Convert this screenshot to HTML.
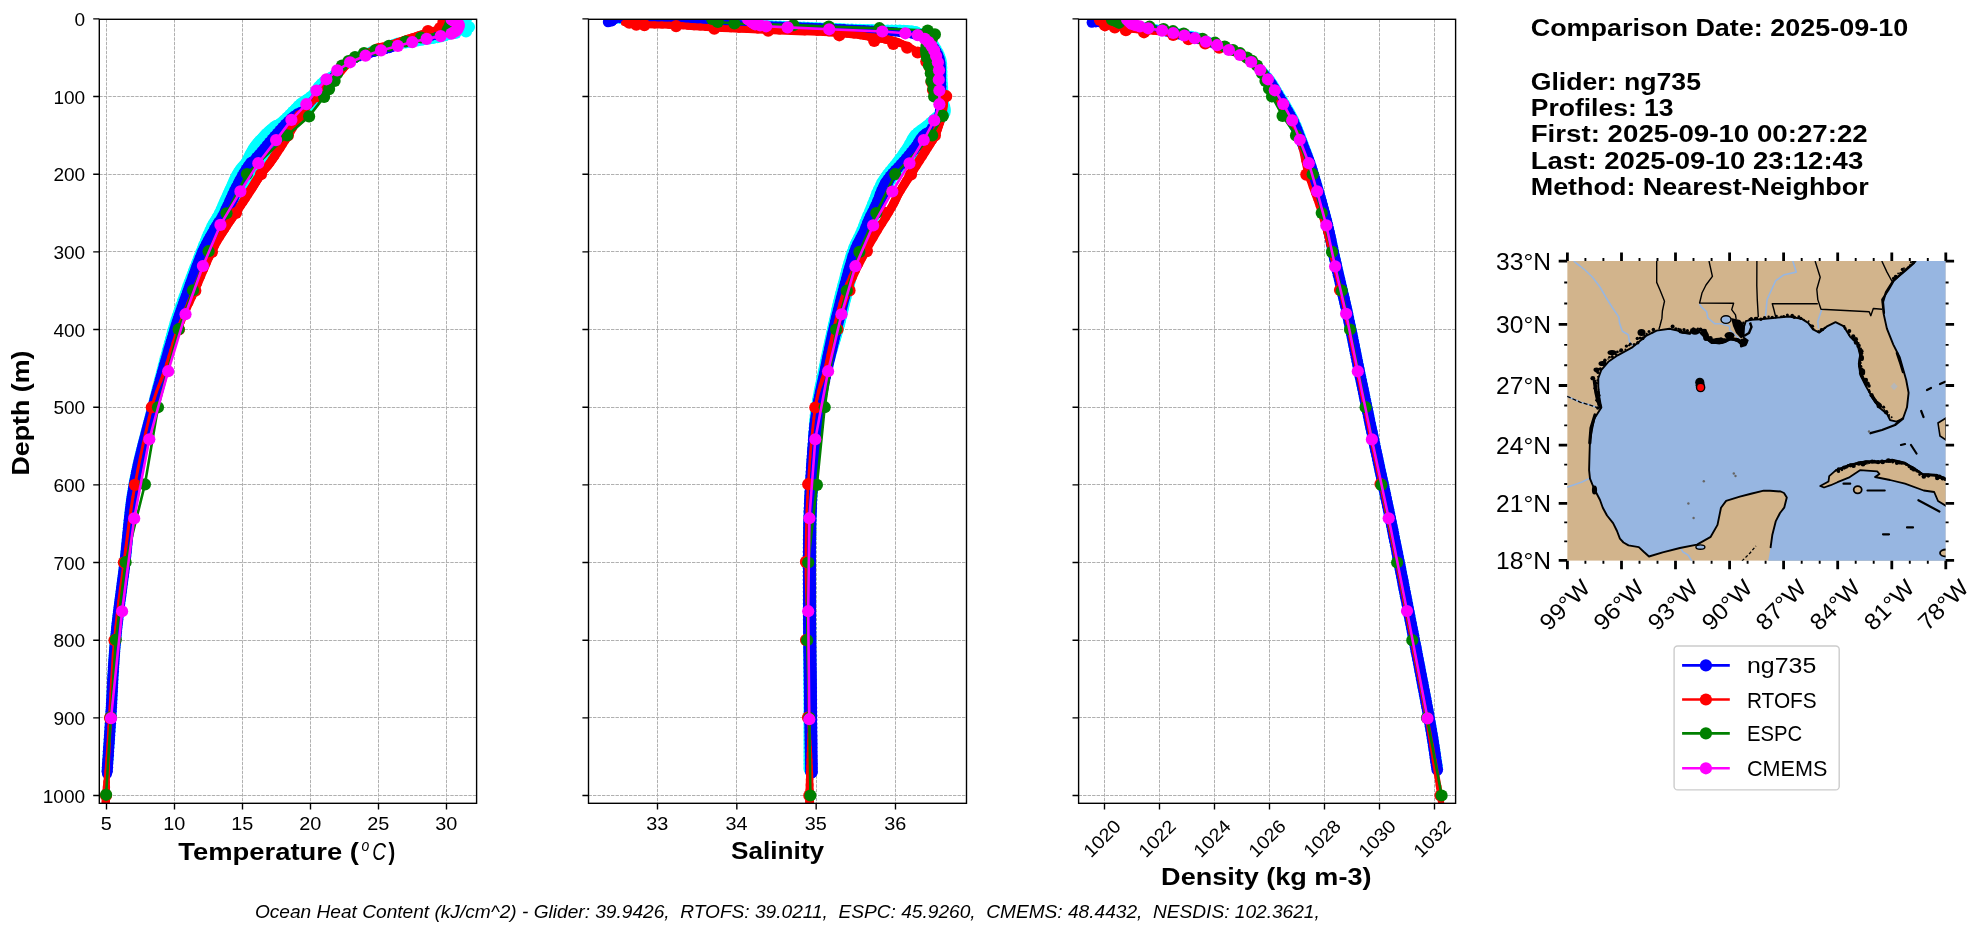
<!DOCTYPE html><html><head><meta charset="utf-8"><style>html,body{margin:0;padding:0;background:#fff;width:1987px;height:934px;overflow:hidden}text{white-space:pre}svg{will-change:transform}</style></head><body><svg width="1987" height="934" viewBox="0 0 1987 934" style="display:block">
<defs>
<clipPath id="c0"><rect x="99.3" y="19.3" width="377.3" height="784.0"/></clipPath>
<clipPath id="c1"><rect x="588.5" y="19.3" width="378.0" height="784.0"/></clipPath>
<clipPath id="c2"><rect x="1078.6" y="19.3" width="377.0" height="784.0"/></clipPath>
</defs>
<rect x="0" y="0" width="1987" height="934" fill="#fff"/>
<path d="M99.3 18.50H476.6 M99.3 96.50H476.6 M99.3 174.50H476.6 M99.3 251.50H476.6 M99.3 329.50H476.6 M99.3 407.50H476.6 M99.3 484.50H476.6 M99.3 562.50H476.6 M99.3 640.50H476.6 M99.3 717.50H476.6 M99.3 795.50H476.6 M106.50 19.3V803.3 M174.50 19.3V803.3 M242.50 19.3V803.3 M310.50 19.3V803.3 M378.50 19.3V803.3 M446.50 19.3V803.3" stroke="#b0b0b0" stroke-width="1" stroke-dasharray="3.4 1.1" fill="none" clip-path="url(#c0)"/>
<path d="M588.5 18.50H966.5 M588.5 96.50H966.5 M588.5 174.50H966.5 M588.5 251.50H966.5 M588.5 329.50H966.5 M588.5 407.50H966.5 M588.5 484.50H966.5 M588.5 562.50H966.5 M588.5 640.50H966.5 M588.5 717.50H966.5 M588.5 795.50H966.5 M657.50 19.3V803.3 M736.50 19.3V803.3 M816.50 19.3V803.3 M895.50 19.3V803.3" stroke="#b0b0b0" stroke-width="1" stroke-dasharray="3.4 1.1" fill="none" clip-path="url(#c1)"/>
<path d="M1078.6 18.50H1455.6 M1078.6 96.50H1455.6 M1078.6 174.50H1455.6 M1078.6 251.50H1455.6 M1078.6 329.50H1455.6 M1078.6 407.50H1455.6 M1078.6 484.50H1455.6 M1078.6 562.50H1455.6 M1078.6 640.50H1455.6 M1078.6 717.50H1455.6 M1078.6 795.50H1455.6 M1104.50 19.3V803.3 M1159.50 19.3V803.3 M1214.50 19.3V803.3 M1269.50 19.3V803.3 M1324.50 19.3V803.3 M1379.50 19.3V803.3 M1434.50 19.3V803.3" stroke="#b0b0b0" stroke-width="1" stroke-dasharray="3.4 1.1" fill="none" clip-path="url(#c2)"/>
<g stroke="#00ffff" stroke-linecap="round" fill="none" clip-path="url(#c0)"><line x1="462.0" y1="17.0" x2="462.4" y2="18.2" stroke-width="10.5"/><line x1="462.4" y1="18.2" x2="462.8" y2="19.4" stroke-width="10.5"/><line x1="462.8" y1="19.4" x2="463.2" y2="20.6" stroke-width="10.5"/><line x1="463.2" y1="20.6" x2="463.6" y2="21.8" stroke-width="10.6"/><line x1="463.6" y1="21.8" x2="463.8" y2="22.9" stroke-width="10.7"/><line x1="463.8" y1="22.9" x2="464.0" y2="24.0" stroke-width="10.9"/><line x1="464.0" y1="24.0" x2="464.1" y2="25.0" stroke-width="10.9"/><line x1="464.1" y1="25.0" x2="464.1" y2="25.9" stroke-width="10.8"/><line x1="464.1" y1="25.9" x2="464.1" y2="26.7" stroke-width="10.7"/><line x1="464.1" y1="26.7" x2="463.9" y2="27.5" stroke-width="10.2"/><line x1="463.9" y1="27.5" x2="463.5" y2="28.2" stroke-width="9.4"/><line x1="463.5" y1="28.2" x2="463.0" y2="29.0" stroke-width="8.2"/><line x1="463.0" y1="29.0" x2="462.3" y2="29.7" stroke-width="7.0"/><line x1="462.3" y1="29.7" x2="461.4" y2="30.4" stroke-width="6.0"/><line x1="461.4" y1="30.4" x2="460.4" y2="31.1" stroke-width="4.9"/><line x1="460.4" y1="31.1" x2="459.2" y2="31.7" stroke-width="4.3"/><line x1="459.2" y1="31.7" x2="457.8" y2="32.3" stroke-width="4.5"/><line x1="457.8" y1="32.3" x2="456.0" y2="33.0" stroke-width="5.5"/><line x1="456.0" y1="33.0" x2="453.8" y2="33.7" stroke-width="6.6"/><line x1="453.8" y1="33.7" x2="451.3" y2="34.4" stroke-width="7.7"/><line x1="451.3" y1="34.4" x2="448.5" y2="35.1" stroke-width="8.6"/><line x1="448.5" y1="35.1" x2="445.6" y2="35.8" stroke-width="9.1"/><line x1="445.6" y1="35.8" x2="442.7" y2="36.4" stroke-width="9.5"/><line x1="442.7" y1="36.4" x2="440.0" y2="37.0" stroke-width="9.9"/><line x1="440.0" y1="37.0" x2="437.4" y2="37.5" stroke-width="10.1"/><line x1="437.4" y1="37.5" x2="434.9" y2="37.9" stroke-width="10.1"/><line x1="434.9" y1="37.9" x2="432.4" y2="38.3" stroke-width="10.1"/><line x1="432.4" y1="38.3" x2="430.0" y2="38.7" stroke-width="10.1"/><line x1="430.0" y1="38.7" x2="427.5" y2="39.1" stroke-width="10.0"/><line x1="427.5" y1="39.1" x2="425.0" y2="39.5" stroke-width="10.0"/><line x1="425.0" y1="39.5" x2="422.5" y2="39.9" stroke-width="10.0"/><line x1="422.5" y1="39.9" x2="420.0" y2="40.4" stroke-width="10.0"/><line x1="420.0" y1="40.4" x2="417.4" y2="40.8" stroke-width="10.0"/><line x1="417.4" y1="40.8" x2="414.9" y2="41.2" stroke-width="9.9"/><line x1="414.9" y1="41.2" x2="412.4" y2="41.6" stroke-width="9.9"/><line x1="412.4" y1="41.6" x2="410.0" y2="42.0" stroke-width="10.0"/><line x1="410.0" y1="42.0" x2="407.6" y2="42.3" stroke-width="10.1"/><line x1="407.6" y1="42.3" x2="405.3" y2="42.6" stroke-width="10.2"/><line x1="405.3" y1="42.6" x2="403.1" y2="42.8" stroke-width="10.4"/><line x1="403.1" y1="42.8" x2="400.8" y2="43.1" stroke-width="10.6"/><line x1="400.8" y1="43.1" x2="398.4" y2="43.5" stroke-width="10.8"/><line x1="398.4" y1="43.5" x2="396.0" y2="44.0" stroke-width="10.9"/><line x1="396.0" y1="44.0" x2="393.4" y2="44.7" stroke-width="10.7"/><line x1="393.4" y1="44.7" x2="390.8" y2="45.4" stroke-width="9.8"/><line x1="390.8" y1="45.4" x2="388.1" y2="46.3" stroke-width="9.0"/><line x1="388.1" y1="46.3" x2="385.4" y2="47.2" stroke-width="8.6"/><line x1="385.4" y1="47.2" x2="382.7" y2="48.1" stroke-width="8.6"/><line x1="382.7" y1="48.1" x2="380.0" y2="49.0" stroke-width="8.9"/><line x1="380.0" y1="49.0" x2="377.3" y2="49.8" stroke-width="9.3"/><line x1="377.3" y1="49.8" x2="374.7" y2="50.6" stroke-width="9.7"/><line x1="374.7" y1="50.6" x2="372.0" y2="51.4" stroke-width="9.7"/><line x1="372.0" y1="51.4" x2="369.3" y2="52.2" stroke-width="9.3"/><line x1="369.3" y1="52.2" x2="366.7" y2="53.1" stroke-width="8.7"/><line x1="366.7" y1="53.1" x2="364.0" y2="54.0" stroke-width="8.0"/><line x1="364.0" y1="54.0" x2="361.3" y2="55.0" stroke-width="7.6"/><line x1="361.3" y1="55.0" x2="358.6" y2="56.0" stroke-width="7.5"/><line x1="358.6" y1="56.0" x2="355.9" y2="57.0" stroke-width="7.0"/><line x1="355.9" y1="57.0" x2="353.2" y2="58.2" stroke-width="6.2"/><line x1="353.2" y1="58.2" x2="350.6" y2="59.5" stroke-width="5.5"/><line x1="350.6" y1="59.5" x2="348.0" y2="61.0" stroke-width="5.6"/><line x1="348.0" y1="61.0" x2="345.4" y2="62.8" stroke-width="6.1"/><line x1="345.4" y1="62.8" x2="342.9" y2="64.8" stroke-width="6.4"/><line x1="342.9" y1="64.8" x2="340.4" y2="67.0" stroke-width="6.4"/><line x1="340.4" y1="67.0" x2="337.9" y2="69.2" stroke-width="6.2"/><line x1="337.9" y1="69.2" x2="335.6" y2="71.4" stroke-width="6.1"/><line x1="335.6" y1="71.4" x2="333.5" y2="73.4" stroke-width="6.1"/><line x1="333.5" y1="73.4" x2="331.6" y2="75.3" stroke-width="6.6"/><line x1="331.6" y1="75.3" x2="329.8" y2="77.1" stroke-width="7.6"/><line x1="329.8" y1="77.1" x2="328.2" y2="78.9" stroke-width="8.9"/><line x1="328.2" y1="78.9" x2="326.6" y2="80.6" stroke-width="10.4"/><line x1="326.6" y1="80.6" x2="325.2" y2="82.3" stroke-width="11.9"/><line x1="325.2" y1="82.3" x2="323.7" y2="84.1" stroke-width="13.1"/><line x1="323.7" y1="84.1" x2="322.3" y2="85.9" stroke-width="14.1"/><line x1="322.3" y1="85.9" x2="321.0" y2="87.8" stroke-width="14.8"/><line x1="321.0" y1="87.8" x2="319.7" y2="89.6" stroke-width="15.2"/><line x1="319.7" y1="89.6" x2="318.5" y2="91.4" stroke-width="15.2"/><line x1="318.5" y1="91.4" x2="317.3" y2="93.2" stroke-width="15.0"/><line x1="317.3" y1="93.2" x2="316.0" y2="94.8" stroke-width="14.7"/><line x1="316.0" y1="94.8" x2="314.6" y2="96.3" stroke-width="14.5"/><line x1="314.6" y1="96.3" x2="313.3" y2="97.8" stroke-width="14.5"/><line x1="313.3" y1="97.8" x2="311.8" y2="99.1" stroke-width="14.7"/><line x1="311.8" y1="99.1" x2="310.5" y2="100.4" stroke-width="15.1"/><line x1="310.5" y1="100.4" x2="309.1" y2="101.6" stroke-width="15.6"/><line x1="309.1" y1="101.6" x2="307.9" y2="102.8" stroke-width="16.3"/><line x1="307.9" y1="102.8" x2="306.9" y2="103.7" stroke-width="17.0"/><line x1="306.9" y1="103.7" x2="306.2" y2="104.4" stroke-width="17.6"/><line x1="306.2" y1="104.4" x2="305.6" y2="105.0" stroke-width="18.0"/><line x1="305.6" y1="105.0" x2="304.8" y2="105.7" stroke-width="18.3"/><line x1="304.8" y1="105.7" x2="303.6" y2="106.7" stroke-width="18.4"/><line x1="303.6" y1="106.7" x2="301.9" y2="108.2" stroke-width="18.5"/><line x1="301.9" y1="108.2" x2="299.4" y2="110.4" stroke-width="18.1"/><line x1="299.4" y1="110.4" x2="296.1" y2="113.1" stroke-width="17.4"/><line x1="296.1" y1="113.1" x2="292.5" y2="116.1" stroke-width="16.4"/><line x1="292.5" y1="116.1" x2="288.9" y2="119.1" stroke-width="15.5"/><line x1="288.9" y1="119.1" x2="285.6" y2="121.9" stroke-width="14.8"/><line x1="285.6" y1="121.9" x2="283.0" y2="124.3" stroke-width="14.6"/><line x1="283.0" y1="124.3" x2="281.1" y2="126.2" stroke-width="15.0"/><line x1="281.1" y1="126.2" x2="279.6" y2="127.7" stroke-width="16.0"/><line x1="279.6" y1="127.7" x2="278.5" y2="129.0" stroke-width="17.3"/><line x1="278.5" y1="129.0" x2="277.5" y2="130.2" stroke-width="18.7"/><line x1="277.5" y1="130.2" x2="276.6" y2="131.5" stroke-width="19.8"/><line x1="276.6" y1="131.5" x2="275.5" y2="132.8" stroke-width="20.4"/><line x1="275.5" y1="132.8" x2="274.3" y2="134.2" stroke-width="21.0"/><line x1="274.3" y1="134.2" x2="273.2" y2="135.7" stroke-width="21.6"/><line x1="273.2" y1="135.7" x2="272.1" y2="137.1" stroke-width="22.3"/><line x1="272.1" y1="137.1" x2="271.0" y2="138.5" stroke-width="22.9"/><line x1="271.0" y1="138.5" x2="269.9" y2="140.0" stroke-width="23.4"/><line x1="269.9" y1="140.0" x2="268.8" y2="141.4" stroke-width="23.8"/><line x1="268.8" y1="141.4" x2="267.7" y2="142.8" stroke-width="24.1"/><line x1="267.7" y1="142.8" x2="266.7" y2="144.1" stroke-width="24.4"/><line x1="266.7" y1="144.1" x2="265.7" y2="145.4" stroke-width="24.8"/><line x1="265.7" y1="145.4" x2="264.7" y2="146.8" stroke-width="25.2"/><line x1="264.7" y1="146.8" x2="263.7" y2="148.3" stroke-width="25.6"/><line x1="263.7" y1="148.3" x2="262.5" y2="150.0" stroke-width="26.0"/><line x1="262.5" y1="150.0" x2="261.2" y2="151.9" stroke-width="26.4"/><line x1="261.2" y1="151.9" x2="259.9" y2="154.0" stroke-width="26.5"/><line x1="259.9" y1="154.0" x2="258.5" y2="156.2" stroke-width="26.4"/><line x1="258.5" y1="156.2" x2="257.1" y2="158.5" stroke-width="26.1"/><line x1="257.1" y1="158.5" x2="255.7" y2="160.7" stroke-width="25.6"/><line x1="255.7" y1="160.7" x2="254.3" y2="162.8" stroke-width="25.0"/><line x1="254.3" y1="162.8" x2="252.9" y2="164.8" stroke-width="24.3"/><line x1="252.9" y1="164.8" x2="251.5" y2="166.6" stroke-width="23.6"/><line x1="251.5" y1="166.6" x2="250.1" y2="168.4" stroke-width="23.2"/><line x1="250.1" y1="168.4" x2="248.6" y2="170.2" stroke-width="23.3"/><line x1="248.6" y1="170.2" x2="247.2" y2="172.2" stroke-width="23.7"/><line x1="247.2" y1="172.2" x2="245.7" y2="174.4" stroke-width="24.1"/><line x1="245.7" y1="174.4" x2="244.2" y2="176.8" stroke-width="24.5"/><line x1="244.2" y1="176.8" x2="242.8" y2="179.3" stroke-width="24.5"/><line x1="242.8" y1="179.3" x2="241.3" y2="182.0" stroke-width="24.3"/><line x1="241.3" y1="182.0" x2="239.8" y2="184.9" stroke-width="23.9"/><line x1="239.8" y1="184.9" x2="238.2" y2="187.8" stroke-width="23.4"/><line x1="238.2" y1="187.8" x2="236.5" y2="191.0" stroke-width="22.8"/><line x1="236.5" y1="191.0" x2="234.6" y2="194.5" stroke-width="22.3"/><line x1="234.6" y1="194.5" x2="232.5" y2="198.4" stroke-width="21.7"/><line x1="232.5" y1="198.4" x2="230.4" y2="202.4" stroke-width="21.1"/><line x1="230.4" y1="202.4" x2="228.3" y2="206.4" stroke-width="20.5"/><line x1="228.3" y1="206.4" x2="226.2" y2="210.1" stroke-width="19.8"/><line x1="226.2" y1="210.1" x2="224.4" y2="213.4" stroke-width="19.2"/><line x1="224.4" y1="213.4" x2="222.8" y2="216.0" stroke-width="18.6"/><line x1="222.8" y1="216.0" x2="221.5" y2="218.2" stroke-width="18.1"/><line x1="221.5" y1="218.2" x2="220.2" y2="220.1" stroke-width="17.8"/><line x1="220.2" y1="220.1" x2="219.0" y2="222.0" stroke-width="17.8"/><line x1="219.0" y1="222.0" x2="217.6" y2="224.2" stroke-width="18.0"/><line x1="217.6" y1="224.2" x2="216.0" y2="227.0" stroke-width="18.0"/><line x1="216.0" y1="227.0" x2="214.2" y2="230.3" stroke-width="17.7"/><line x1="214.2" y1="230.3" x2="212.3" y2="233.8" stroke-width="17.1"/><line x1="212.3" y1="233.8" x2="210.2" y2="237.7" stroke-width="16.4"/><line x1="210.2" y1="237.7" x2="208.0" y2="241.9" stroke-width="15.7"/><line x1="208.0" y1="241.9" x2="205.8" y2="246.5" stroke-width="15.1"/><line x1="205.8" y1="246.5" x2="203.5" y2="251.5" stroke-width="14.5"/><line x1="203.5" y1="251.5" x2="201.1" y2="257.1" stroke-width="14.1"/><line x1="201.1" y1="257.1" x2="198.5" y2="263.4" stroke-width="13.8"/><line x1="198.5" y1="263.4" x2="195.8" y2="270.1" stroke-width="13.6"/><line x1="195.8" y1="270.1" x2="193.1" y2="276.9" stroke-width="13.4"/><line x1="193.1" y1="276.9" x2="190.5" y2="283.7" stroke-width="13.2"/><line x1="190.5" y1="283.7" x2="187.9" y2="290.4" stroke-width="12.9"/><line x1="187.9" y1="290.4" x2="185.5" y2="296.4" stroke-width="12.5"/><line x1="185.5" y1="296.4" x2="183.2" y2="301.9" stroke-width="11.9"/><line x1="183.2" y1="301.9" x2="180.9" y2="307.4" stroke-width="11.3"/><line x1="180.9" y1="307.4" x2="178.5" y2="313.4" stroke-width="10.7"/><line x1="178.5" y1="313.4" x2="176.0" y2="320.5" stroke-width="10.3"/><line x1="176.0" y1="320.5" x2="173.2" y2="329.3" stroke-width="9.9"/><line x1="173.2" y1="329.3" x2="170.1" y2="340.1" stroke-width="9.7"/><line x1="170.1" y1="340.1" x2="166.7" y2="352.5" stroke-width="9.6"/><line x1="166.7" y1="352.5" x2="163.1" y2="366.0" stroke-width="9.6"/><line x1="163.1" y1="366.0" x2="159.5" y2="380.0" stroke-width="9.6"/><line x1="159.5" y1="380.0" x2="155.9" y2="394.0" stroke-width="9.6"/><line x1="155.9" y1="394.0" x2="152.5" y2="407.4" stroke-width="9.7"/><line x1="152.5" y1="407.4" x2="149.2" y2="420.3" stroke-width="9.7"/><line x1="149.2" y1="420.3" x2="145.8" y2="433.1" stroke-width="9.7"/><line x1="145.8" y1="433.1" x2="142.5" y2="445.8" stroke-width="9.7"/><line x1="142.5" y1="445.8" x2="139.4" y2="458.6" stroke-width="9.7"/><line x1="139.4" y1="458.6" x2="136.5" y2="471.4" stroke-width="9.8"/><line x1="136.5" y1="471.4" x2="134.0" y2="484.2" stroke-width="9.8"/><line x1="134.0" y1="484.2" x2="132.0" y2="497.1" stroke-width="9.9"/><line x1="132.0" y1="497.1" x2="130.3" y2="510.1" stroke-width="9.9"/><line x1="130.3" y1="510.1" x2="128.9" y2="523.0" stroke-width="9.9"/><line x1="128.9" y1="523.0" x2="127.7" y2="536.0" stroke-width="10.0"/><line x1="127.7" y1="536.0" x2="126.4" y2="549.0" stroke-width="10.0"/><line x1="126.4" y1="549.0" x2="125.0" y2="562.0" stroke-width="9.9"/><line x1="125.0" y1="562.0" x2="123.4" y2="575.0" stroke-width="9.9"/><line x1="123.4" y1="575.0" x2="121.7" y2="588.0" stroke-width="9.9"/><line x1="121.7" y1="588.0" x2="120.0" y2="601.0" stroke-width="9.9"/><line x1="120.0" y1="601.0" x2="118.3" y2="614.1" stroke-width="9.9"/><line x1="118.3" y1="614.1" x2="116.8" y2="627.1" stroke-width="9.9"/><line x1="116.8" y1="627.1" x2="115.5" y2="640.0" stroke-width="9.9"/><line x1="115.5" y1="640.0" x2="114.4" y2="653.1" stroke-width="10.0"/><line x1="114.4" y1="653.1" x2="113.5" y2="666.6" stroke-width="10.0"/><line x1="113.5" y1="666.6" x2="112.8" y2="679.9" stroke-width="10.0"/><line x1="112.8" y1="679.9" x2="112.1" y2="693.0" stroke-width="10.0"/><line x1="112.1" y1="693.0" x2="111.5" y2="705.5" stroke-width="10.0"/><line x1="111.5" y1="705.5" x2="110.8" y2="717.0" stroke-width="10.0"/><line x1="110.8" y1="717.0" x2="110.1" y2="727.4" stroke-width="10.0"/><line x1="110.1" y1="727.4" x2="109.5" y2="737.0" stroke-width="10.0"/><line x1="109.5" y1="737.0" x2="108.8" y2="745.9" stroke-width="10.0"/><line x1="108.8" y1="745.9" x2="108.2" y2="754.5" stroke-width="10.0"/><line x1="108.2" y1="754.5" x2="107.6" y2="763.1" stroke-width="10.0"/><line x1="107.6" y1="763.1" x2="107.0" y2="772.0" stroke-width="10.0"/></g>
<g fill="#00ffff" clip-path="url(#c0)"><circle cx="462.0" cy="17.0" r="6.0"/><circle cx="463.2" cy="20.8" r="6.0"/><circle cx="464.1" cy="24.7" r="6.1"/><circle cx="463.3" cy="28.5" r="4.9"/><circle cx="460.3" cy="31.1" r="2.9"/><circle cx="456.7" cy="32.7" r="3.5"/><circle cx="452.9" cy="34.0" r="4.5"/><circle cx="449.0" cy="35.0" r="5.1"/><circle cx="445.1" cy="35.9" r="5.4"/><circle cx="441.2" cy="36.7" r="5.6"/><circle cx="437.3" cy="37.5" r="5.8"/><circle cx="433.3" cy="38.2" r="5.8"/><circle cx="429.4" cy="38.8" r="5.7"/><circle cx="425.4" cy="39.4" r="5.7"/><circle cx="421.5" cy="40.1" r="5.7"/><circle cx="417.5" cy="40.8" r="5.7"/><circle cx="413.6" cy="41.4" r="5.7"/><circle cx="409.6" cy="42.1" r="5.7"/><circle cx="405.7" cy="42.6" r="5.8"/><circle cx="401.7" cy="43.0" r="6.0"/><circle cx="397.7" cy="43.6" r="6.2"/><circle cx="393.9" cy="44.6" r="5.9"/><circle cx="390.0" cy="45.7" r="5.2"/><circle cx="386.2" cy="46.9" r="5.0"/><circle cx="382.4" cy="48.2" r="5.0"/><circle cx="378.6" cy="49.4" r="5.4"/><circle cx="374.8" cy="50.6" r="5.6"/><circle cx="370.9" cy="51.7" r="5.4"/><circle cx="367.1" cy="52.9" r="4.9"/><circle cx="363.4" cy="54.2" r="4.5"/><circle cx="359.6" cy="55.6" r="4.4"/><circle cx="355.9" cy="57.1" r="4.0"/><circle cx="352.2" cy="58.7" r="3.5"/><circle cx="348.7" cy="60.6" r="3.6"/><circle cx="345.4" cy="62.8" r="3.9"/><circle cx="342.3" cy="65.3" r="3.9"/><circle cx="339.3" cy="68.0" r="3.8"/><circle cx="336.3" cy="70.7" r="3.7"/><circle cx="333.4" cy="73.5" r="3.8"/><circle cx="330.6" cy="76.3" r="4.5"/><circle cx="327.9" cy="79.2" r="5.7"/><circle cx="325.3" cy="82.2" r="6.9"/><circle cx="322.8" cy="85.3" r="7.8"/><circle cx="320.4" cy="88.6" r="8.3"/><circle cx="318.2" cy="91.9" r="8.3"/><circle cx="315.8" cy="95.1" r="8.0"/><circle cx="313.0" cy="98.0" r="8.0"/><circle cx="310.1" cy="100.7" r="8.4"/><circle cx="307.2" cy="103.5" r="9.3"/><circle cx="304.2" cy="106.2" r="9.9"/><circle cx="301.2" cy="108.8" r="9.8"/><circle cx="298.2" cy="111.4" r="9.4"/><circle cx="295.1" cy="113.9" r="9.0"/><circle cx="292.0" cy="116.5" r="8.6"/><circle cx="289.0" cy="119.1" r="8.2"/><circle cx="285.9" cy="121.7" r="8.0"/><circle cx="282.9" cy="124.3" r="8.0"/><circle cx="280.1" cy="127.2" r="8.8"/><circle cx="277.5" cy="130.2" r="10.4"/><circle cx="275.0" cy="133.4" r="11.1"/><circle cx="272.6" cy="136.5" r="11.9"/><circle cx="270.1" cy="139.7" r="12.5"/><circle cx="267.7" cy="142.8" r="12.8"/><circle cx="265.3" cy="146.0" r="13.3"/><circle cx="263.0" cy="149.3" r="13.7"/><circle cx="260.8" cy="152.6" r="14.0"/><circle cx="258.7" cy="156.0" r="13.9"/><circle cx="256.5" cy="159.4" r="13.5"/><circle cx="254.4" cy="162.8" r="13.0"/><circle cx="252.0" cy="166.0" r="12.5"/><circle cx="249.5" cy="169.1" r="12.3"/><circle cx="247.1" cy="172.3" r="12.7"/><circle cx="244.9" cy="175.7" r="12.9"/><circle cx="242.9" cy="179.1" r="12.9"/><circle cx="241.0" cy="182.6" r="12.7"/><circle cx="239.1" cy="186.2" r="12.4"/><circle cx="237.2" cy="189.7" r="12.1"/><circle cx="235.3" cy="193.2" r="11.8"/><circle cx="233.4" cy="196.7" r="11.5"/><circle cx="231.5" cy="200.3" r="11.3"/><circle cx="229.6" cy="203.8" r="11.0"/><circle cx="227.7" cy="207.3" r="10.7"/><circle cx="225.8" cy="210.8" r="10.4"/><circle cx="223.9" cy="214.3" r="10.1"/><circle cx="221.8" cy="217.7" r="9.7"/><circle cx="219.6" cy="221.1" r="9.6"/><circle cx="217.5" cy="224.5" r="9.7"/><circle cx="215.5" cy="227.9" r="9.6"/><circle cx="213.6" cy="231.4" r="9.3"/><circle cx="211.6" cy="235.0" r="9.0"/><circle cx="209.8" cy="238.5" r="8.7"/><circle cx="208.0" cy="242.1" r="8.4"/><circle cx="206.2" cy="245.7" r="8.1"/><circle cx="204.5" cy="249.3" r="7.9"/><circle cx="202.9" cy="252.9" r="7.8"/><circle cx="201.3" cy="256.6" r="7.7"/><circle cx="199.8" cy="260.3" r="7.6"/><circle cx="198.3" cy="264.0" r="7.5"/><circle cx="196.8" cy="267.7" r="7.5"/><circle cx="195.3" cy="271.4" r="7.4"/><circle cx="193.8" cy="275.2" r="7.4"/><circle cx="192.4" cy="278.9" r="7.3"/><circle cx="190.9" cy="282.6" r="7.3"/><circle cx="189.5" cy="286.3" r="7.2"/><circle cx="188.0" cy="290.1" r="7.1"/><circle cx="186.5" cy="293.8" r="6.9"/><circle cx="185.0" cy="297.5" r="6.7"/><circle cx="183.5" cy="301.2" r="6.5"/><circle cx="181.9" cy="304.9" r="6.3"/><circle cx="180.4" cy="308.6" r="6.1"/><circle cx="179.0" cy="312.3" r="6.0"/><circle cx="177.6" cy="316.0" r="5.9"/><circle cx="176.2" cy="319.8" r="5.8"/><circle cx="175.0" cy="323.6" r="5.7"/><circle cx="173.8" cy="327.4" r="5.6"/><circle cx="172.6" cy="331.3" r="5.6"/><circle cx="171.5" cy="335.1" r="5.5"/><circle cx="170.4" cy="338.9" r="5.5"/><circle cx="169.3" cy="342.8" r="5.5"/><circle cx="168.3" cy="346.6" r="5.5"/><circle cx="167.2" cy="350.5" r="5.5"/><circle cx="166.2" cy="354.4" r="5.5"/><circle cx="165.1" cy="358.2" r="5.5"/><circle cx="164.1" cy="362.1" r="5.5"/><circle cx="163.1" cy="366.0" r="5.5"/><circle cx="162.1" cy="369.8" r="5.5"/><circle cx="161.1" cy="373.7" r="5.5"/><circle cx="160.1" cy="377.6" r="5.5"/><circle cx="159.1" cy="381.5" r="5.5"/><circle cx="158.1" cy="385.3" r="5.5"/><circle cx="157.1" cy="389.2" r="5.5"/><circle cx="156.1" cy="393.1" r="5.5"/><circle cx="155.1" cy="397.0" r="5.5"/><circle cx="154.2" cy="400.8" r="5.5"/><circle cx="153.2" cy="404.7" r="5.5"/><circle cx="152.2" cy="408.6" r="5.5"/><circle cx="151.2" cy="412.5" r="5.5"/><circle cx="150.2" cy="416.3" r="5.5"/><circle cx="149.2" cy="420.2" r="5.5"/><circle cx="148.2" cy="424.1" r="5.5"/><circle cx="147.2" cy="427.9" r="5.5"/><circle cx="146.1" cy="431.8" r="5.5"/><circle cx="145.1" cy="435.7" r="5.5"/><circle cx="144.1" cy="439.6" r="5.5"/><circle cx="143.1" cy="443.4" r="5.5"/><circle cx="142.2" cy="447.3" r="5.5"/><circle cx="141.2" cy="451.2" r="5.6"/><circle cx="140.2" cy="455.1" r="5.6"/><circle cx="139.3" cy="459.0" r="5.6"/><circle cx="138.4" cy="462.9" r="5.6"/><circle cx="137.5" cy="466.8" r="5.6"/><circle cx="136.7" cy="470.7" r="5.6"/><circle cx="135.9" cy="474.6" r="5.6"/><circle cx="135.1" cy="478.5" r="5.6"/><circle cx="134.3" cy="482.4" r="5.6"/><circle cx="133.7" cy="486.4" r="5.6"/><circle cx="133.0" cy="490.3" r="5.6"/><circle cx="132.4" cy="494.3" r="5.6"/><circle cx="131.8" cy="498.2" r="5.7"/><circle cx="131.3" cy="502.2" r="5.7"/><circle cx="130.8" cy="506.2" r="5.7"/><circle cx="130.3" cy="510.1" r="5.7"/><circle cx="129.9" cy="514.1" r="5.7"/><circle cx="129.5" cy="518.1" r="5.7"/><circle cx="129.0" cy="522.1" r="5.7"/><circle cx="128.6" cy="526.1" r="5.7"/><circle cx="128.3" cy="530.0" r="5.7"/><circle cx="127.9" cy="534.0" r="5.7"/><circle cx="127.5" cy="538.0" r="5.7"/><circle cx="127.1" cy="542.0" r="5.7"/><circle cx="126.7" cy="546.0" r="5.7"/><circle cx="126.3" cy="549.9" r="5.7"/><circle cx="125.9" cy="553.9" r="5.7"/><circle cx="125.4" cy="557.9" r="5.7"/><circle cx="125.0" cy="561.9" r="5.7"/><circle cx="124.5" cy="565.8" r="5.7"/><circle cx="124.0" cy="569.8" r="5.7"/><circle cx="123.5" cy="573.8" r="5.7"/><circle cx="123.0" cy="577.8" r="5.7"/><circle cx="122.5" cy="581.7" r="5.7"/><circle cx="122.0" cy="585.7" r="5.7"/><circle cx="121.5" cy="589.7" r="5.7"/><circle cx="121.0" cy="593.6" r="5.7"/><circle cx="120.4" cy="597.6" r="5.7"/><circle cx="119.9" cy="601.6" r="5.7"/><circle cx="119.4" cy="605.5" r="5.7"/><circle cx="118.9" cy="609.5" r="5.7"/><circle cx="118.4" cy="613.5" r="5.7"/><circle cx="117.9" cy="617.4" r="5.7"/><circle cx="117.5" cy="621.4" r="5.7"/><circle cx="117.0" cy="625.4" r="5.7"/><circle cx="116.6" cy="629.4" r="5.7"/><circle cx="116.2" cy="633.3" r="5.7"/><circle cx="115.8" cy="637.3" r="5.7"/><circle cx="115.4" cy="641.3" r="5.7"/><circle cx="115.1" cy="645.3" r="5.7"/><circle cx="114.7" cy="649.3" r="5.7"/><circle cx="114.4" cy="653.3" r="5.7"/><circle cx="114.2" cy="657.2" r="5.7"/><circle cx="113.9" cy="661.2" r="5.7"/><circle cx="113.6" cy="665.2" r="5.7"/><circle cx="113.4" cy="669.2" r="5.7"/><circle cx="113.2" cy="673.2" r="5.7"/><circle cx="112.9" cy="677.2" r="5.7"/><circle cx="112.7" cy="681.2" r="5.7"/><circle cx="112.5" cy="685.2" r="5.7"/><circle cx="112.3" cy="689.2" r="5.7"/><circle cx="112.1" cy="693.2" r="5.7"/><circle cx="111.9" cy="697.2" r="5.7"/><circle cx="111.7" cy="701.2" r="5.7"/><circle cx="111.5" cy="705.2" r="5.7"/><circle cx="111.3" cy="709.2" r="5.7"/><circle cx="111.0" cy="713.2" r="5.7"/><circle cx="110.8" cy="717.1" r="5.7"/><circle cx="110.5" cy="721.1" r="5.7"/><circle cx="110.3" cy="725.1" r="5.7"/><circle cx="110.0" cy="729.1" r="5.7"/><circle cx="109.7" cy="733.1" r="5.7"/><circle cx="109.5" cy="737.1" r="5.7"/><circle cx="109.2" cy="741.1" r="5.7"/><circle cx="108.9" cy="745.1" r="5.7"/><circle cx="108.6" cy="749.1" r="5.7"/><circle cx="108.3" cy="753.1" r="5.7"/><circle cx="108.1" cy="757.1" r="5.7"/><circle cx="107.8" cy="761.0" r="5.7"/><circle cx="107.5" cy="765.0" r="5.7"/><circle cx="107.2" cy="769.0" r="5.7"/></g>
<g fill="#00ffff" clip-path="url(#c0)"><circle cx="466.0" cy="19.0" r="6.1"/><circle cx="469.0" cy="27.0" r="6.1"/><circle cx="466.0" cy="31.5" r="6.1"/><circle cx="455.6" cy="33.0" r="6.1"/><circle cx="433.8" cy="35.5" r="6.1"/></g>
<g stroke="#0000ff" stroke-linecap="round" fill="none" clip-path="url(#c0)"><line x1="457.0" y1="17.0" x2="457.4" y2="18.4" stroke-width="7.7"/><line x1="457.4" y1="18.4" x2="457.8" y2="19.8" stroke-width="7.7"/><line x1="457.8" y1="19.8" x2="458.2" y2="21.2" stroke-width="7.7"/><line x1="458.2" y1="21.2" x2="458.6" y2="22.6" stroke-width="7.7"/><line x1="458.6" y1="22.6" x2="458.9" y2="23.8" stroke-width="7.8"/><line x1="458.9" y1="23.8" x2="459.0" y2="25.0" stroke-width="8.0"/><line x1="459.0" y1="25.0" x2="459.0" y2="26.0" stroke-width="8.0"/><line x1="459.0" y1="26.0" x2="458.9" y2="27.0" stroke-width="7.9"/><line x1="458.9" y1="27.0" x2="458.6" y2="27.9" stroke-width="7.7"/><line x1="458.6" y1="27.9" x2="458.3" y2="28.7" stroke-width="7.2"/><line x1="458.3" y1="28.7" x2="457.7" y2="29.4" stroke-width="6.3"/><line x1="457.7" y1="29.4" x2="457.0" y2="30.0" stroke-width="5.1"/><line x1="457.0" y1="30.0" x2="456.0" y2="30.5" stroke-width="4.7"/><line x1="456.0" y1="30.5" x2="454.8" y2="30.9" stroke-width="6.5"/><line x1="454.8" y1="30.9" x2="453.4" y2="31.2" stroke-width="8.0"/><line x1="453.4" y1="31.2" x2="452.0" y2="31.4" stroke-width="8.0"/><line x1="452.0" y1="31.4" x2="450.5" y2="31.7" stroke-width="8.0"/><line x1="450.5" y1="31.7" x2="449.0" y2="32.0" stroke-width="8.0"/><line x1="449.0" y1="32.0" x2="447.6" y2="32.4" stroke-width="7.6"/><line x1="447.6" y1="32.4" x2="446.3" y2="32.8" stroke-width="7.1"/><line x1="446.3" y1="32.8" x2="444.9" y2="33.2" stroke-width="7.0"/><line x1="444.9" y1="33.2" x2="443.5" y2="33.6" stroke-width="7.2"/><line x1="443.5" y1="33.6" x2="441.9" y2="34.0" stroke-width="7.7"/><line x1="441.9" y1="34.0" x2="440.0" y2="34.5" stroke-width="8.0"/><line x1="440.0" y1="34.5" x2="437.8" y2="35.0" stroke-width="8.0"/><line x1="437.8" y1="35.0" x2="435.4" y2="35.5" stroke-width="8.0"/><line x1="435.4" y1="35.5" x2="432.9" y2="36.0" stroke-width="8.0"/><line x1="432.9" y1="36.0" x2="430.2" y2="36.5" stroke-width="8.0"/><line x1="430.2" y1="36.5" x2="427.6" y2="37.0" stroke-width="8.0"/><line x1="427.6" y1="37.0" x2="425.0" y2="37.5" stroke-width="8.0"/><line x1="425.0" y1="37.5" x2="422.5" y2="38.0" stroke-width="8.0"/><line x1="422.5" y1="38.0" x2="419.9" y2="38.4" stroke-width="8.0"/><line x1="419.9" y1="38.4" x2="417.4" y2="38.9" stroke-width="7.9"/><line x1="417.4" y1="38.9" x2="414.9" y2="39.4" stroke-width="7.9"/><line x1="414.9" y1="39.4" x2="412.4" y2="39.9" stroke-width="7.9"/><line x1="412.4" y1="39.9" x2="410.0" y2="40.5" stroke-width="7.5"/><line x1="410.0" y1="40.5" x2="407.8" y2="41.2" stroke-width="6.6"/><line x1="407.8" y1="41.2" x2="405.6" y2="42.0" stroke-width="5.7"/><line x1="405.6" y1="42.0" x2="403.6" y2="42.9" stroke-width="5.3"/><line x1="403.6" y1="42.9" x2="401.5" y2="43.8" stroke-width="5.3"/><line x1="401.5" y1="43.8" x2="399.3" y2="44.7" stroke-width="5.9"/><line x1="399.3" y1="44.7" x2="397.0" y2="45.5" stroke-width="7.0"/><line x1="397.0" y1="45.5" x2="394.5" y2="46.3" stroke-width="8.1"/><line x1="394.5" y1="46.3" x2="391.9" y2="47.1" stroke-width="8.9"/><line x1="391.9" y1="47.1" x2="389.2" y2="47.8" stroke-width="9.3"/><line x1="389.2" y1="47.8" x2="386.4" y2="48.6" stroke-width="9.3"/><line x1="386.4" y1="48.6" x2="383.7" y2="49.4" stroke-width="9.0"/><line x1="383.7" y1="49.4" x2="381.0" y2="50.2" stroke-width="8.6"/><line x1="381.0" y1="50.2" x2="378.4" y2="51.0" stroke-width="8.3"/><line x1="378.4" y1="51.0" x2="375.7" y2="51.9" stroke-width="8.2"/><line x1="375.7" y1="51.9" x2="373.1" y2="52.7" stroke-width="8.0"/><line x1="373.1" y1="52.7" x2="370.5" y2="53.6" stroke-width="7.6"/><line x1="370.5" y1="53.6" x2="368.0" y2="54.5" stroke-width="7.0"/><line x1="368.0" y1="54.5" x2="365.5" y2="55.5" stroke-width="6.3"/><line x1="365.5" y1="55.5" x2="363.1" y2="56.5" stroke-width="5.6"/><line x1="363.1" y1="56.5" x2="360.8" y2="57.6" stroke-width="4.9"/><line x1="360.8" y1="57.6" x2="358.6" y2="58.7" stroke-width="4.5"/><line x1="358.6" y1="58.7" x2="356.4" y2="59.9" stroke-width="4.4"/><line x1="356.4" y1="59.9" x2="354.2" y2="61.1" stroke-width="4.4"/><line x1="354.2" y1="61.1" x2="352.0" y2="62.3" stroke-width="4.5"/><line x1="352.0" y1="62.3" x2="349.8" y2="63.6" stroke-width="4.5"/><line x1="349.8" y1="63.6" x2="347.7" y2="64.9" stroke-width="4.5"/><line x1="347.7" y1="64.9" x2="345.6" y2="66.2" stroke-width="4.6"/><line x1="345.6" y1="66.2" x2="343.5" y2="67.6" stroke-width="4.6"/><line x1="343.5" y1="67.6" x2="341.5" y2="69.0" stroke-width="4.6"/><line x1="341.5" y1="69.0" x2="339.5" y2="70.4" stroke-width="4.7"/><line x1="339.5" y1="70.4" x2="337.6" y2="71.8" stroke-width="4.8"/><line x1="337.6" y1="71.8" x2="335.8" y2="73.2" stroke-width="4.9"/><line x1="335.8" y1="73.2" x2="334.1" y2="74.7" stroke-width="5.0"/><line x1="334.1" y1="74.7" x2="332.4" y2="76.1" stroke-width="5.2"/><line x1="332.4" y1="76.1" x2="330.7" y2="77.7" stroke-width="5.4"/><line x1="330.7" y1="77.7" x2="329.0" y2="79.3" stroke-width="5.6"/><line x1="329.0" y1="79.3" x2="327.4" y2="81.0" stroke-width="5.8"/><line x1="327.4" y1="81.0" x2="325.8" y2="82.8" stroke-width="5.9"/><line x1="325.8" y1="82.8" x2="324.2" y2="84.6" stroke-width="6.0"/><line x1="324.2" y1="84.6" x2="322.7" y2="86.5" stroke-width="6.1"/><line x1="322.7" y1="86.5" x2="321.1" y2="88.5" stroke-width="6.2"/><line x1="321.1" y1="88.5" x2="319.5" y2="90.5" stroke-width="6.3"/><line x1="319.5" y1="90.5" x2="317.9" y2="92.7" stroke-width="6.5"/><line x1="317.9" y1="92.7" x2="316.3" y2="95.1" stroke-width="6.7"/><line x1="316.3" y1="95.1" x2="314.6" y2="97.6" stroke-width="6.9"/><line x1="314.6" y1="97.6" x2="313.0" y2="100.0" stroke-width="6.9"/><line x1="313.0" y1="100.0" x2="311.3" y2="102.2" stroke-width="6.9"/><line x1="311.3" y1="102.2" x2="309.5" y2="104.2" stroke-width="6.6"/><line x1="309.5" y1="104.2" x2="307.6" y2="105.8" stroke-width="6.1"/><line x1="307.6" y1="105.8" x2="305.7" y2="107.2" stroke-width="5.5"/><line x1="305.7" y1="107.2" x2="303.7" y2="108.5" stroke-width="5.2"/><line x1="303.7" y1="108.5" x2="301.7" y2="109.6" stroke-width="5.2"/><line x1="301.7" y1="109.6" x2="299.8" y2="110.8" stroke-width="5.5"/><line x1="299.8" y1="110.8" x2="298.0" y2="112.0" stroke-width="6.2"/><line x1="298.0" y1="112.0" x2="296.4" y2="113.3" stroke-width="7.0"/><line x1="296.4" y1="113.3" x2="295.1" y2="114.5" stroke-width="7.6"/><line x1="295.1" y1="114.5" x2="293.8" y2="115.7" stroke-width="8.1"/><line x1="293.8" y1="115.7" x2="292.5" y2="117.0" stroke-width="8.6"/><line x1="292.5" y1="117.0" x2="291.1" y2="118.4" stroke-width="9.0"/><line x1="291.1" y1="118.4" x2="289.5" y2="120.0" stroke-width="9.3"/><line x1="289.5" y1="120.0" x2="287.7" y2="121.9" stroke-width="9.5"/><line x1="287.7" y1="121.9" x2="285.7" y2="124.1" stroke-width="9.6"/><line x1="285.7" y1="124.1" x2="283.6" y2="126.4" stroke-width="9.7"/><line x1="283.6" y1="126.4" x2="281.6" y2="128.7" stroke-width="9.8"/><line x1="281.6" y1="128.7" x2="279.6" y2="130.9" stroke-width="9.8"/><line x1="279.6" y1="130.9" x2="277.9" y2="132.8" stroke-width="9.8"/><line x1="277.9" y1="132.8" x2="276.4" y2="134.5" stroke-width="9.8"/><line x1="276.4" y1="134.5" x2="275.1" y2="136.0" stroke-width="9.9"/><line x1="275.1" y1="136.0" x2="274.0" y2="137.4" stroke-width="9.9"/><line x1="274.0" y1="137.4" x2="272.9" y2="138.7" stroke-width="10.0"/><line x1="272.9" y1="138.7" x2="271.8" y2="140.0" stroke-width="10.0"/><line x1="271.8" y1="140.0" x2="270.6" y2="141.4" stroke-width="9.9"/><line x1="270.6" y1="141.4" x2="269.4" y2="142.8" stroke-width="9.9"/><line x1="269.4" y1="142.8" x2="268.2" y2="144.3" stroke-width="9.9"/><line x1="268.2" y1="144.3" x2="267.0" y2="145.7" stroke-width="9.9"/><line x1="267.0" y1="145.7" x2="265.8" y2="147.1" stroke-width="9.9"/><line x1="265.8" y1="147.1" x2="264.5" y2="148.6" stroke-width="9.9"/><line x1="264.5" y1="148.6" x2="263.3" y2="150.0" stroke-width="9.8"/><line x1="263.3" y1="150.0" x2="262.0" y2="151.5" stroke-width="9.7"/><line x1="262.0" y1="151.5" x2="260.6" y2="153.0" stroke-width="9.7"/><line x1="260.6" y1="153.0" x2="259.3" y2="154.5" stroke-width="9.6"/><line x1="259.3" y1="154.5" x2="257.9" y2="156.0" stroke-width="9.6"/><line x1="257.9" y1="156.0" x2="256.7" y2="157.3" stroke-width="9.6"/><line x1="256.7" y1="157.3" x2="255.6" y2="158.5" stroke-width="9.5"/><line x1="255.6" y1="158.5" x2="254.7" y2="159.4" stroke-width="9.2"/><line x1="254.7" y1="159.4" x2="254.0" y2="160.0" stroke-width="8.7"/><line x1="254.0" y1="160.0" x2="253.4" y2="160.5" stroke-width="8.4"/><line x1="253.4" y1="160.5" x2="252.8" y2="161.0" stroke-width="8.8"/><line x1="252.8" y1="161.0" x2="252.1" y2="161.8" stroke-width="9.6"/><line x1="252.1" y1="161.8" x2="251.3" y2="162.8" stroke-width="10.2"/><line x1="251.3" y1="162.8" x2="250.3" y2="164.3" stroke-width="10.6"/><line x1="250.3" y1="164.3" x2="249.2" y2="166.0" stroke-width="10.8"/><line x1="249.2" y1="166.0" x2="248.0" y2="167.9" stroke-width="11.0"/><line x1="248.0" y1="167.9" x2="246.7" y2="169.9" stroke-width="11.1"/><line x1="246.7" y1="169.9" x2="245.4" y2="172.1" stroke-width="11.2"/><line x1="245.4" y1="172.1" x2="244.1" y2="174.4" stroke-width="11.3"/><line x1="244.1" y1="174.4" x2="242.8" y2="176.8" stroke-width="11.4"/><line x1="242.8" y1="176.8" x2="241.4" y2="179.3" stroke-width="11.4"/><line x1="241.4" y1="179.3" x2="240.0" y2="182.0" stroke-width="11.5"/><line x1="240.0" y1="182.0" x2="238.5" y2="184.9" stroke-width="11.6"/><line x1="238.5" y1="184.9" x2="237.0" y2="187.8" stroke-width="11.6"/><line x1="237.0" y1="187.8" x2="235.5" y2="191.0" stroke-width="11.7"/><line x1="235.5" y1="191.0" x2="233.9" y2="194.5" stroke-width="11.8"/><line x1="233.9" y1="194.5" x2="232.1" y2="198.4" stroke-width="11.8"/><line x1="232.1" y1="198.4" x2="230.4" y2="202.4" stroke-width="11.9"/><line x1="230.4" y1="202.4" x2="228.6" y2="206.4" stroke-width="11.9"/><line x1="228.6" y1="206.4" x2="226.8" y2="210.1" stroke-width="11.8"/><line x1="226.8" y1="210.1" x2="225.2" y2="213.4" stroke-width="11.6"/><line x1="225.2" y1="213.4" x2="223.7" y2="216.0" stroke-width="11.4"/><line x1="223.7" y1="216.0" x2="222.4" y2="218.2" stroke-width="11.0"/><line x1="222.4" y1="218.2" x2="221.1" y2="220.1" stroke-width="10.8"/><line x1="221.1" y1="220.1" x2="219.7" y2="222.0" stroke-width="10.8"/><line x1="219.7" y1="222.0" x2="218.3" y2="224.2" stroke-width="10.9"/><line x1="218.3" y1="224.2" x2="216.6" y2="227.0" stroke-width="11.1"/><line x1="216.6" y1="227.0" x2="214.7" y2="230.3" stroke-width="11.2"/><line x1="214.7" y1="230.3" x2="212.6" y2="233.8" stroke-width="11.1"/><line x1="212.6" y1="233.8" x2="210.5" y2="237.7" stroke-width="11.0"/><line x1="210.5" y1="237.7" x2="208.2" y2="241.9" stroke-width="11.0"/><line x1="208.2" y1="241.9" x2="205.8" y2="246.5" stroke-width="11.0"/><line x1="205.8" y1="246.5" x2="203.5" y2="251.5" stroke-width="11.0"/><line x1="203.5" y1="251.5" x2="201.1" y2="257.1" stroke-width="10.9"/><line x1="201.1" y1="257.1" x2="198.6" y2="263.4" stroke-width="10.9"/><line x1="198.6" y1="263.4" x2="196.0" y2="270.1" stroke-width="10.8"/><line x1="196.0" y1="270.1" x2="193.4" y2="276.9" stroke-width="10.6"/><line x1="193.4" y1="276.9" x2="190.9" y2="283.7" stroke-width="10.5"/><line x1="190.9" y1="283.7" x2="188.5" y2="290.4" stroke-width="10.4"/><line x1="188.5" y1="290.4" x2="186.3" y2="296.4" stroke-width="10.3"/><line x1="186.3" y1="296.4" x2="184.3" y2="301.9" stroke-width="10.3"/><line x1="184.3" y1="301.9" x2="182.4" y2="307.4" stroke-width="10.4"/><line x1="182.4" y1="307.4" x2="180.3" y2="313.4" stroke-width="10.4"/><line x1="180.3" y1="313.4" x2="178.0" y2="320.5" stroke-width="10.5"/><line x1="178.0" y1="320.5" x2="175.3" y2="329.3" stroke-width="10.5"/><line x1="175.3" y1="329.3" x2="172.0" y2="340.1" stroke-width="10.5"/><line x1="172.0" y1="340.1" x2="168.3" y2="352.5" stroke-width="10.3"/><line x1="168.3" y1="352.5" x2="164.4" y2="366.0" stroke-width="10.2"/><line x1="164.4" y1="366.0" x2="160.4" y2="380.0" stroke-width="10.0"/><line x1="160.4" y1="380.0" x2="156.4" y2="394.0" stroke-width="9.8"/><line x1="156.4" y1="394.0" x2="152.8" y2="407.4" stroke-width="9.7"/><line x1="152.8" y1="407.4" x2="149.4" y2="420.3" stroke-width="9.6"/><line x1="149.4" y1="420.3" x2="146.0" y2="433.1" stroke-width="9.6"/><line x1="146.0" y1="433.1" x2="142.7" y2="445.8" stroke-width="9.6"/><line x1="142.7" y1="445.8" x2="139.6" y2="458.6" stroke-width="9.7"/><line x1="139.6" y1="458.6" x2="136.7" y2="471.4" stroke-width="9.7"/><line x1="136.7" y1="471.4" x2="134.2" y2="484.2" stroke-width="9.8"/><line x1="134.2" y1="484.2" x2="132.1" y2="497.1" stroke-width="9.9"/><line x1="132.1" y1="497.1" x2="130.4" y2="510.1" stroke-width="9.9"/><line x1="130.4" y1="510.1" x2="129.0" y2="523.0" stroke-width="9.9"/><line x1="129.0" y1="523.0" x2="127.7" y2="536.0" stroke-width="9.9"/><line x1="127.7" y1="536.0" x2="126.4" y2="549.0" stroke-width="9.9"/><line x1="126.4" y1="549.0" x2="125.0" y2="562.0" stroke-width="9.9"/><line x1="125.0" y1="562.0" x2="123.4" y2="575.0" stroke-width="9.9"/><line x1="123.4" y1="575.0" x2="121.7" y2="588.0" stroke-width="9.9"/><line x1="121.7" y1="588.0" x2="120.0" y2="601.0" stroke-width="9.9"/><line x1="120.0" y1="601.0" x2="118.3" y2="614.1" stroke-width="9.9"/><line x1="118.3" y1="614.1" x2="116.8" y2="627.1" stroke-width="9.9"/><line x1="116.8" y1="627.1" x2="115.5" y2="640.0" stroke-width="9.9"/><line x1="115.5" y1="640.0" x2="114.4" y2="653.1" stroke-width="10.0"/><line x1="114.4" y1="653.1" x2="113.5" y2="666.5" stroke-width="10.0"/><line x1="113.5" y1="666.5" x2="112.8" y2="679.8" stroke-width="10.0"/><line x1="112.8" y1="679.8" x2="112.1" y2="692.9" stroke-width="10.0"/><line x1="112.1" y1="692.9" x2="111.5" y2="705.3" stroke-width="10.0"/><line x1="111.5" y1="705.3" x2="110.8" y2="717.0" stroke-width="10.0"/><line x1="110.8" y1="717.0" x2="110.1" y2="727.7" stroke-width="10.0"/><line x1="110.1" y1="727.7" x2="109.5" y2="737.5" stroke-width="10.0"/><line x1="109.5" y1="737.5" x2="108.8" y2="746.8" stroke-width="10.0"/><line x1="108.8" y1="746.8" x2="108.2" y2="755.7" stroke-width="10.0"/><line x1="108.2" y1="755.7" x2="107.6" y2="764.7" stroke-width="10.0"/><line x1="107.6" y1="764.7" x2="107.0" y2="774.0" stroke-width="10.0"/></g>
<g fill="#0000ff" clip-path="url(#c0)"><circle cx="457.0" cy="17.0" r="4.6"/><circle cx="458.1" cy="20.8" r="4.5"/><circle cx="459.0" cy="24.7" r="4.7"/><circle cx="458.3" cy="28.6" r="4.2"/><circle cx="455.1" cy="30.8" r="4.4"/><circle cx="451.1" cy="31.6" r="4.7"/><circle cx="447.2" cy="32.5" r="4.3"/><circle cx="443.4" cy="33.6" r="4.4"/><circle cx="439.5" cy="34.6" r="4.7"/><circle cx="435.6" cy="35.4" r="4.7"/><circle cx="431.7" cy="36.2" r="4.7"/><circle cx="427.8" cy="37.0" r="4.7"/><circle cx="423.8" cy="37.7" r="4.7"/><circle cx="419.9" cy="38.4" r="4.7"/><circle cx="416.0" cy="39.1" r="4.6"/><circle cx="412.1" cy="40.0" r="4.6"/><circle cx="408.2" cy="41.1" r="3.8"/><circle cx="404.5" cy="42.5" r="3.3"/><circle cx="400.8" cy="44.1" r="3.6"/><circle cx="397.1" cy="45.5" r="4.5"/><circle cx="393.2" cy="46.7" r="5.1"/><circle cx="389.4" cy="47.8" r="5.4"/><circle cx="385.5" cy="48.8" r="5.3"/><circle cx="381.7" cy="50.0" r="4.9"/><circle cx="377.9" cy="51.2" r="4.8"/><circle cx="374.1" cy="52.4" r="4.7"/><circle cx="370.3" cy="53.7" r="4.3"/><circle cx="366.5" cy="55.1" r="3.8"/><circle cx="362.9" cy="56.7" r="3.3"/><circle cx="359.3" cy="58.4" r="2.9"/><circle cx="355.7" cy="60.2" r="2.9"/><circle cx="352.2" cy="62.2" r="2.9"/><circle cx="348.8" cy="64.2" r="3.0"/><circle cx="345.4" cy="66.3" r="3.0"/><circle cx="342.1" cy="68.6" r="3.0"/><circle cx="338.8" cy="70.9" r="3.1"/><circle cx="335.7" cy="73.4" r="3.2"/><circle cx="332.6" cy="75.9" r="3.3"/><circle cx="329.7" cy="78.7" r="3.5"/><circle cx="326.9" cy="81.5" r="3.6"/><circle cx="324.3" cy="84.5" r="3.7"/><circle cx="321.7" cy="87.7" r="3.8"/><circle cx="319.3" cy="90.8" r="3.9"/><circle cx="317.0" cy="94.1" r="4.1"/><circle cx="314.7" cy="97.4" r="4.2"/><circle cx="312.4" cy="100.7" r="4.1"/><circle cx="309.9" cy="103.7" r="3.9"/><circle cx="306.9" cy="106.4" r="3.5"/><circle cx="303.5" cy="108.5" r="3.2"/><circle cx="300.1" cy="110.6" r="3.6"/><circle cx="296.9" cy="112.9" r="4.3"/><circle cx="293.9" cy="115.6" r="4.9"/><circle cx="291.0" cy="118.4" r="5.3"/><circle cx="288.3" cy="121.3" r="5.5"/><circle cx="285.6" cy="124.2" r="5.6"/><circle cx="282.9" cy="127.2" r="5.6"/><circle cx="280.2" cy="130.2" r="5.6"/><circle cx="277.6" cy="133.2" r="5.6"/><circle cx="275.0" cy="136.2" r="5.7"/><circle cx="272.4" cy="139.3" r="5.7"/><circle cx="269.8" cy="142.3" r="5.7"/><circle cx="267.2" cy="145.4" r="5.7"/><circle cx="264.6" cy="148.4" r="5.6"/><circle cx="262.0" cy="151.5" r="5.6"/><circle cx="259.3" cy="154.4" r="5.5"/><circle cx="256.6" cy="157.4" r="5.5"/><circle cx="253.8" cy="160.2" r="4.9"/><circle cx="251.1" cy="163.1" r="6.0"/><circle cx="248.9" cy="166.4" r="6.2"/><circle cx="246.8" cy="169.8" r="6.3"/><circle cx="244.7" cy="173.3" r="6.3"/><circle cx="242.8" cy="176.8" r="6.4"/><circle cx="240.9" cy="180.3" r="6.5"/><circle cx="239.1" cy="183.9" r="6.5"/><circle cx="237.3" cy="187.4" r="6.5"/><circle cx="235.5" cy="191.0" r="6.6"/><circle cx="233.8" cy="194.6" r="6.6"/><circle cx="232.2" cy="198.3" r="6.6"/><circle cx="230.5" cy="202.0" r="6.6"/><circle cx="228.9" cy="205.6" r="6.6"/><circle cx="227.2" cy="209.2" r="6.6"/><circle cx="225.5" cy="212.8" r="6.5"/><circle cx="223.5" cy="216.3" r="6.3"/><circle cx="221.3" cy="219.7" r="6.1"/><circle cx="219.1" cy="223.0" r="6.2"/><circle cx="217.0" cy="226.4" r="6.3"/><circle cx="215.0" cy="229.8" r="6.3"/><circle cx="213.0" cy="233.3" r="6.2"/><circle cx="211.0" cy="236.8" r="6.2"/><circle cx="209.0" cy="240.3" r="6.2"/><circle cx="207.2" cy="243.8" r="6.2"/><circle cx="205.4" cy="247.4" r="6.2"/><circle cx="203.7" cy="251.0" r="6.2"/><circle cx="202.1" cy="254.7" r="6.2"/><circle cx="200.6" cy="258.4" r="6.2"/><circle cx="199.1" cy="262.1" r="6.1"/><circle cx="197.6" cy="265.8" r="6.1"/><circle cx="196.2" cy="269.5" r="6.0"/><circle cx="194.8" cy="273.3" r="6.0"/><circle cx="193.4" cy="277.0" r="6.0"/><circle cx="192.0" cy="280.8" r="5.9"/><circle cx="190.6" cy="284.5" r="5.9"/><circle cx="189.3" cy="288.3" r="5.9"/><circle cx="187.9" cy="292.1" r="5.9"/><circle cx="186.5" cy="295.8" r="5.8"/><circle cx="185.2" cy="299.6" r="5.9"/><circle cx="183.8" cy="303.3" r="5.9"/><circle cx="182.5" cy="307.1" r="5.9"/><circle cx="181.2" cy="310.9" r="5.9"/><circle cx="179.9" cy="314.7" r="5.9"/><circle cx="178.7" cy="318.5" r="6.0"/><circle cx="177.5" cy="322.3" r="6.0"/><circle cx="176.3" cy="326.1" r="6.0"/><circle cx="175.1" cy="330.0" r="6.0"/><circle cx="173.9" cy="333.8" r="5.9"/><circle cx="172.8" cy="337.6" r="5.9"/><circle cx="171.6" cy="341.4" r="5.9"/><circle cx="170.5" cy="345.3" r="5.9"/><circle cx="169.3" cy="349.1" r="5.9"/><circle cx="168.2" cy="352.9" r="5.8"/><circle cx="167.1" cy="356.8" r="5.8"/><circle cx="166.0" cy="360.6" r="5.8"/><circle cx="164.8" cy="364.5" r="5.8"/><circle cx="163.7" cy="368.3" r="5.7"/><circle cx="162.6" cy="372.1" r="5.7"/><circle cx="161.5" cy="376.0" r="5.7"/><circle cx="160.4" cy="379.8" r="5.7"/><circle cx="159.3" cy="383.7" r="5.6"/><circle cx="158.2" cy="387.5" r="5.6"/><circle cx="157.2" cy="391.4" r="5.6"/><circle cx="156.1" cy="395.2" r="5.6"/><circle cx="155.0" cy="399.1" r="5.6"/><circle cx="154.0" cy="403.0" r="5.5"/><circle cx="153.0" cy="406.8" r="5.5"/><circle cx="151.9" cy="410.7" r="5.5"/><circle cx="150.9" cy="414.6" r="5.5"/><circle cx="149.9" cy="418.4" r="5.5"/><circle cx="148.8" cy="422.3" r="5.5"/><circle cx="147.8" cy="426.1" r="5.5"/><circle cx="146.8" cy="430.0" r="5.5"/><circle cx="145.8" cy="433.9" r="5.5"/><circle cx="144.8" cy="437.8" r="5.5"/><circle cx="143.8" cy="441.6" r="5.5"/><circle cx="142.8" cy="445.5" r="5.5"/><circle cx="141.8" cy="449.4" r="5.5"/><circle cx="140.9" cy="453.3" r="5.5"/><circle cx="139.9" cy="457.2" r="5.5"/><circle cx="139.0" cy="461.1" r="5.6"/><circle cx="138.1" cy="465.0" r="5.6"/><circle cx="137.3" cy="468.9" r="5.6"/><circle cx="136.4" cy="472.8" r="5.6"/><circle cx="135.7" cy="476.7" r="5.6"/><circle cx="134.9" cy="480.6" r="5.6"/><circle cx="134.1" cy="484.6" r="5.6"/><circle cx="133.5" cy="488.5" r="5.6"/><circle cx="132.9" cy="492.5" r="5.6"/><circle cx="132.2" cy="496.4" r="5.6"/><circle cx="131.7" cy="500.4" r="5.7"/><circle cx="131.2" cy="504.3" r="5.7"/><circle cx="130.7" cy="508.3" r="5.7"/><circle cx="130.2" cy="512.3" r="5.7"/><circle cx="129.8" cy="516.2" r="5.7"/><circle cx="129.3" cy="520.2" r="5.7"/><circle cx="128.9" cy="524.2" r="5.7"/><circle cx="128.5" cy="528.2" r="5.7"/><circle cx="128.1" cy="532.2" r="5.7"/><circle cx="127.7" cy="536.1" r="5.7"/><circle cx="127.3" cy="540.1" r="5.7"/><circle cx="126.9" cy="544.1" r="5.7"/><circle cx="126.5" cy="548.1" r="5.7"/><circle cx="126.1" cy="552.1" r="5.7"/><circle cx="125.7" cy="556.0" r="5.7"/><circle cx="125.2" cy="560.0" r="5.7"/><circle cx="124.8" cy="564.0" r="5.7"/><circle cx="124.3" cy="568.0" r="5.7"/><circle cx="123.8" cy="571.9" r="5.7"/><circle cx="123.3" cy="575.9" r="5.7"/><circle cx="122.7" cy="579.9" r="5.7"/><circle cx="122.2" cy="583.8" r="5.7"/><circle cx="121.7" cy="587.8" r="5.7"/><circle cx="121.2" cy="591.8" r="5.7"/><circle cx="120.7" cy="595.7" r="5.7"/><circle cx="120.1" cy="599.7" r="5.7"/><circle cx="119.6" cy="603.7" r="5.7"/><circle cx="119.1" cy="607.6" r="5.7"/><circle cx="118.6" cy="611.6" r="5.7"/><circle cx="118.1" cy="615.6" r="5.7"/><circle cx="117.7" cy="619.5" r="5.7"/><circle cx="117.2" cy="623.5" r="5.7"/><circle cx="116.8" cy="627.5" r="5.7"/><circle cx="116.4" cy="631.5" r="5.7"/><circle cx="116.0" cy="635.4" r="5.7"/><circle cx="115.6" cy="639.4" r="5.7"/><circle cx="115.2" cy="643.4" r="5.7"/><circle cx="114.9" cy="647.4" r="5.7"/><circle cx="114.6" cy="651.4" r="5.7"/><circle cx="114.3" cy="655.4" r="5.7"/><circle cx="114.0" cy="659.4" r="5.7"/><circle cx="113.8" cy="663.4" r="5.7"/><circle cx="113.5" cy="667.3" r="5.7"/><circle cx="113.3" cy="671.3" r="5.7"/><circle cx="113.0" cy="675.3" r="5.7"/><circle cx="112.8" cy="679.3" r="5.7"/><circle cx="112.6" cy="683.3" r="5.7"/><circle cx="112.4" cy="687.3" r="5.7"/><circle cx="112.2" cy="691.3" r="5.7"/><circle cx="112.0" cy="695.3" r="5.7"/><circle cx="111.8" cy="699.3" r="5.7"/><circle cx="111.6" cy="703.3" r="5.7"/><circle cx="111.4" cy="707.3" r="5.7"/><circle cx="111.1" cy="711.3" r="5.7"/><circle cx="110.9" cy="715.3" r="5.7"/><circle cx="110.7" cy="719.3" r="5.7"/><circle cx="110.4" cy="723.3" r="5.7"/><circle cx="110.1" cy="727.3" r="5.7"/><circle cx="109.9" cy="731.2" r="5.7"/><circle cx="109.6" cy="735.2" r="5.7"/><circle cx="109.3" cy="739.2" r="5.7"/><circle cx="109.1" cy="743.2" r="5.7"/><circle cx="108.8" cy="747.2" r="5.7"/><circle cx="108.5" cy="751.2" r="5.7"/><circle cx="108.3" cy="755.2" r="5.7"/><circle cx="108.0" cy="759.2" r="5.7"/><circle cx="107.7" cy="763.2" r="5.7"/><circle cx="107.5" cy="767.2" r="5.7"/><circle cx="107.2" cy="771.2" r="5.7"/></g>
<g stroke="#ff0000" stroke-linecap="round" fill="none" clip-path="url(#c0)"><line x1="444.5" y1="17.0" x2="444.5" y2="17.9" stroke-width="5.0"/><line x1="444.5" y1="17.9" x2="444.6" y2="18.8" stroke-width="5.0"/><line x1="444.6" y1="18.8" x2="444.6" y2="19.7" stroke-width="4.9"/><line x1="444.6" y1="19.7" x2="444.6" y2="20.6" stroke-width="4.9"/><line x1="444.6" y1="20.6" x2="444.6" y2="21.3" stroke-width="4.9"/><line x1="444.6" y1="21.3" x2="444.5" y2="22.0" stroke-width="4.9"/><line x1="444.5" y1="22.0" x2="444.4" y2="22.5" stroke-width="4.9"/><line x1="444.4" y1="22.5" x2="444.3" y2="22.8" stroke-width="4.9"/><line x1="444.3" y1="22.8" x2="444.2" y2="23.0" stroke-width="4.6"/><line x1="444.2" y1="23.0" x2="444.0" y2="23.3" stroke-width="4.0"/><line x1="444.0" y1="23.3" x2="443.6" y2="23.6" stroke-width="3.6"/><line x1="443.6" y1="23.6" x2="443.0" y2="24.0" stroke-width="3.6"/><line x1="443.0" y1="24.0" x2="442.2" y2="24.6" stroke-width="3.7"/><line x1="442.2" y1="24.6" x2="441.2" y2="25.3" stroke-width="3.8"/><line x1="441.2" y1="25.3" x2="440.1" y2="26.1" stroke-width="3.9"/><line x1="440.1" y1="26.1" x2="438.8" y2="26.9" stroke-width="3.9"/><line x1="438.8" y1="26.9" x2="437.5" y2="27.7" stroke-width="3.8"/><line x1="437.5" y1="27.7" x2="436.0" y2="28.5" stroke-width="3.8"/><line x1="436.0" y1="28.5" x2="434.4" y2="29.2" stroke-width="4.3"/><line x1="434.4" y1="29.2" x2="432.7" y2="29.9" stroke-width="5.1"/><line x1="432.7" y1="29.9" x2="430.9" y2="30.5" stroke-width="5.7"/><line x1="430.9" y1="30.5" x2="429.0" y2="31.2" stroke-width="6.1"/><line x1="429.0" y1="31.2" x2="427.0" y2="31.8" stroke-width="6.3"/><line x1="427.0" y1="31.8" x2="425.0" y2="32.5" stroke-width="6.3"/><line x1="425.0" y1="32.5" x2="422.9" y2="33.2" stroke-width="6.3"/><line x1="422.9" y1="33.2" x2="420.8" y2="33.9" stroke-width="6.4"/><line x1="420.8" y1="33.9" x2="418.6" y2="34.5" stroke-width="6.5"/><line x1="418.6" y1="34.5" x2="416.3" y2="35.2" stroke-width="6.4"/><line x1="416.3" y1="35.2" x2="414.1" y2="35.9" stroke-width="6.3"/><line x1="414.1" y1="35.9" x2="412.0" y2="36.5" stroke-width="6.2"/><line x1="412.0" y1="36.5" x2="410.0" y2="37.1" stroke-width="6.1"/><line x1="410.0" y1="37.1" x2="408.0" y2="37.7" stroke-width="6.0"/><line x1="408.0" y1="37.7" x2="406.1" y2="38.2" stroke-width="5.9"/><line x1="406.1" y1="38.2" x2="404.2" y2="38.8" stroke-width="5.8"/><line x1="404.2" y1="38.8" x2="402.2" y2="39.4" stroke-width="5.6"/><line x1="402.2" y1="39.4" x2="400.0" y2="40.0" stroke-width="5.4"/><line x1="400.0" y1="40.0" x2="397.7" y2="40.7" stroke-width="5.1"/><line x1="397.7" y1="40.7" x2="395.1" y2="41.5" stroke-width="4.9"/><line x1="395.1" y1="41.5" x2="392.6" y2="42.2" stroke-width="4.7"/><line x1="392.6" y1="42.2" x2="390.0" y2="43.0" stroke-width="4.5"/><line x1="390.0" y1="43.0" x2="387.4" y2="43.8" stroke-width="4.5"/><line x1="387.4" y1="43.8" x2="385.0" y2="44.5" stroke-width="4.6"/><line x1="385.0" y1="44.5" x2="382.7" y2="45.1" stroke-width="4.9"/><line x1="382.7" y1="45.1" x2="380.4" y2="45.6" stroke-width="5.1"/><line x1="380.4" y1="45.6" x2="378.2" y2="46.0" stroke-width="5.3"/><line x1="378.2" y1="46.0" x2="376.1" y2="46.5" stroke-width="5.4"/><line x1="376.1" y1="46.5" x2="374.0" y2="47.2" stroke-width="4.8"/><line x1="374.0" y1="47.2" x2="372.0" y2="48.0" stroke-width="3.6"/><line x1="372.0" y1="48.0" x2="370.1" y2="49.1" stroke-width="3.0"/><line x1="370.1" y1="49.1" x2="368.2" y2="50.3" stroke-width="3.4"/><line x1="368.2" y1="50.3" x2="366.4" y2="51.7" stroke-width="3.7"/><line x1="366.4" y1="51.7" x2="364.6" y2="53.2" stroke-width="3.8"/><line x1="364.6" y1="53.2" x2="362.8" y2="54.6" stroke-width="3.8"/><line x1="362.8" y1="54.6" x2="361.0" y2="56.0" stroke-width="3.6"/><line x1="361.0" y1="56.0" x2="359.2" y2="57.3" stroke-width="3.5"/><line x1="359.2" y1="57.3" x2="357.3" y2="58.6" stroke-width="3.4"/><line x1="357.3" y1="58.6" x2="355.4" y2="59.8" stroke-width="3.4"/><line x1="355.4" y1="59.8" x2="353.6" y2="61.1" stroke-width="3.5"/><line x1="353.6" y1="61.1" x2="351.8" y2="62.5" stroke-width="3.7"/><line x1="351.8" y1="62.5" x2="350.0" y2="64.0" stroke-width="3.9"/><line x1="350.0" y1="64.0" x2="348.3" y2="65.7" stroke-width="4.2"/><line x1="348.3" y1="65.7" x2="346.6" y2="67.5" stroke-width="4.4"/><line x1="346.6" y1="67.5" x2="344.9" y2="69.4" stroke-width="4.5"/><line x1="344.9" y1="69.4" x2="343.3" y2="71.3" stroke-width="4.5"/><line x1="343.3" y1="71.3" x2="341.7" y2="73.2" stroke-width="4.5"/><line x1="341.7" y1="73.2" x2="340.0" y2="75.0" stroke-width="4.4"/><line x1="340.0" y1="75.0" x2="338.4" y2="76.7" stroke-width="4.3"/><line x1="338.4" y1="76.7" x2="336.7" y2="78.3" stroke-width="4.3"/><line x1="336.7" y1="78.3" x2="335.1" y2="79.9" stroke-width="4.2"/><line x1="335.1" y1="79.9" x2="333.5" y2="81.6" stroke-width="4.2"/><line x1="333.5" y1="81.6" x2="331.8" y2="83.2" stroke-width="4.2"/><line x1="331.8" y1="83.2" x2="330.0" y2="85.0" stroke-width="4.2"/><line x1="330.0" y1="85.0" x2="328.2" y2="86.8" stroke-width="4.3"/><line x1="328.2" y1="86.8" x2="326.4" y2="88.6" stroke-width="4.3"/><line x1="326.4" y1="88.6" x2="324.5" y2="90.4" stroke-width="4.4"/><line x1="324.5" y1="90.4" x2="322.5" y2="92.4" stroke-width="4.5"/><line x1="322.5" y1="92.4" x2="320.4" y2="94.6" stroke-width="4.7"/><line x1="320.4" y1="94.6" x2="318.0" y2="97.0" stroke-width="4.9"/><line x1="318.0" y1="97.0" x2="315.3" y2="99.7" stroke-width="5.1"/><line x1="315.3" y1="99.7" x2="312.3" y2="102.6" stroke-width="5.4"/><line x1="312.3" y1="102.6" x2="309.2" y2="105.8" stroke-width="5.8"/><line x1="309.2" y1="105.8" x2="306.0" y2="109.0" stroke-width="6.3"/><line x1="306.0" y1="109.0" x2="302.9" y2="112.5" stroke-width="6.9"/><line x1="302.9" y1="112.5" x2="300.0" y2="116.0" stroke-width="7.6"/><line x1="300.0" y1="116.0" x2="297.3" y2="119.7" stroke-width="8.2"/><line x1="297.3" y1="119.7" x2="294.8" y2="123.7" stroke-width="8.7"/><line x1="294.8" y1="123.7" x2="292.3" y2="127.8" stroke-width="9.1"/><line x1="292.3" y1="127.8" x2="289.9" y2="131.9" stroke-width="9.3"/><line x1="289.9" y1="131.9" x2="287.5" y2="136.0" stroke-width="9.3"/><line x1="287.5" y1="136.0" x2="285.0" y2="140.0" stroke-width="9.3"/><line x1="285.0" y1="140.0" x2="282.4" y2="144.0" stroke-width="9.3"/><line x1="282.4" y1="144.0" x2="279.8" y2="148.2" stroke-width="9.3"/><line x1="279.8" y1="148.2" x2="277.1" y2="152.3" stroke-width="9.3"/><line x1="277.1" y1="152.3" x2="274.6" y2="156.2" stroke-width="9.3"/><line x1="274.6" y1="156.2" x2="272.2" y2="159.8" stroke-width="9.2"/><line x1="272.2" y1="159.8" x2="270.0" y2="163.0" stroke-width="9.0"/><line x1="270.0" y1="163.0" x2="268.1" y2="165.5" stroke-width="8.8"/><line x1="268.1" y1="165.5" x2="266.6" y2="167.5" stroke-width="8.6"/><line x1="266.6" y1="167.5" x2="265.1" y2="169.1" stroke-width="8.3"/><line x1="265.1" y1="169.1" x2="263.8" y2="170.6" stroke-width="8.3"/><line x1="263.8" y1="170.6" x2="262.4" y2="172.3" stroke-width="8.5"/><line x1="262.4" y1="172.3" x2="260.8" y2="174.4" stroke-width="8.8"/><line x1="260.8" y1="174.4" x2="259.1" y2="176.8" stroke-width="9.0"/><line x1="259.1" y1="176.8" x2="257.4" y2="179.3" stroke-width="9.2"/><line x1="257.4" y1="179.3" x2="255.7" y2="182.0" stroke-width="9.3"/><line x1="255.7" y1="182.0" x2="253.9" y2="184.9" stroke-width="9.3"/><line x1="253.9" y1="184.9" x2="252.0" y2="187.9" stroke-width="9.3"/><line x1="252.0" y1="187.9" x2="250.0" y2="191.0" stroke-width="9.3"/><line x1="250.0" y1="191.0" x2="247.8" y2="194.5" stroke-width="9.2"/><line x1="247.8" y1="194.5" x2="245.4" y2="198.3" stroke-width="9.1"/><line x1="245.4" y1="198.3" x2="242.9" y2="202.2" stroke-width="9.0"/><line x1="242.9" y1="202.2" x2="240.4" y2="206.1" stroke-width="8.8"/><line x1="240.4" y1="206.1" x2="238.1" y2="209.8" stroke-width="8.6"/><line x1="238.1" y1="209.8" x2="236.0" y2="213.0" stroke-width="8.4"/><line x1="236.0" y1="213.0" x2="234.3" y2="215.5" stroke-width="8.3"/><line x1="234.3" y1="215.5" x2="232.9" y2="217.5" stroke-width="8.1"/><line x1="232.9" y1="217.5" x2="231.6" y2="219.3" stroke-width="8.1"/><line x1="231.6" y1="219.3" x2="230.3" y2="221.1" stroke-width="8.1"/><line x1="230.3" y1="221.1" x2="228.8" y2="223.2" stroke-width="8.3"/><line x1="228.8" y1="223.2" x2="227.0" y2="226.0" stroke-width="8.4"/><line x1="227.0" y1="226.0" x2="224.9" y2="229.4" stroke-width="8.4"/><line x1="224.9" y1="229.4" x2="222.5" y2="233.1" stroke-width="8.3"/><line x1="222.5" y1="233.1" x2="220.0" y2="237.1" stroke-width="8.2"/><line x1="220.0" y1="237.1" x2="217.3" y2="241.5" stroke-width="8.1"/><line x1="217.3" y1="241.5" x2="214.7" y2="246.3" stroke-width="8.1"/><line x1="214.7" y1="246.3" x2="212.0" y2="251.5" stroke-width="8.1"/><line x1="212.0" y1="251.5" x2="209.3" y2="257.2" stroke-width="8.1"/><line x1="209.3" y1="257.2" x2="206.6" y2="263.5" stroke-width="8.0"/><line x1="206.6" y1="263.5" x2="203.8" y2="270.1" stroke-width="8.0"/><line x1="203.8" y1="270.1" x2="201.0" y2="276.9" stroke-width="7.8"/><line x1="201.0" y1="276.9" x2="198.2" y2="283.8" stroke-width="7.7"/><line x1="198.2" y1="283.8" x2="195.4" y2="290.4" stroke-width="7.5"/><line x1="195.4" y1="290.4" x2="192.6" y2="296.9" stroke-width="7.2"/><line x1="192.6" y1="296.9" x2="189.8" y2="303.3" stroke-width="6.9"/><line x1="189.8" y1="303.3" x2="187.0" y2="309.7" stroke-width="6.6"/><line x1="187.0" y1="309.7" x2="184.3" y2="316.2" stroke-width="6.3"/><line x1="184.3" y1="316.2" x2="181.6" y2="322.7" stroke-width="6.0"/><line x1="181.6" y1="322.7" x2="179.0" y2="329.3" stroke-width="5.7"/><line x1="179.0" y1="329.3" x2="176.5" y2="336.0" stroke-width="5.5"/><line x1="176.5" y1="336.0" x2="174.1" y2="342.9" stroke-width="5.2"/><line x1="174.1" y1="342.9" x2="171.8" y2="349.8" stroke-width="4.8"/><line x1="171.8" y1="349.8" x2="169.5" y2="356.6" stroke-width="4.5"/><line x1="169.5" y1="356.6" x2="167.3" y2="363.4" stroke-width="4.2"/><line x1="167.3" y1="363.4" x2="165.0" y2="370.0" stroke-width="3.9"/><line x1="165.0" y1="370.0" x2="162.8" y2="375.9" stroke-width="3.6"/><line x1="162.8" y1="375.9" x2="160.7" y2="381.2" stroke-width="3.4"/><line x1="160.7" y1="381.2" x2="158.6" y2="386.3" stroke-width="3.2"/><line x1="158.6" y1="386.3" x2="156.4" y2="392.0" stroke-width="3.1"/><line x1="156.4" y1="392.0" x2="154.2" y2="398.7" stroke-width="3.0"/><line x1="154.2" y1="398.7" x2="151.8" y2="407.2" stroke-width="2.9"/><line x1="151.8" y1="407.2" x2="149.2" y2="417.7" stroke-width="2.9"/><line x1="149.2" y1="417.7" x2="146.3" y2="429.9" stroke-width="2.9"/><line x1="146.3" y1="429.9" x2="143.3" y2="443.2" stroke-width="2.9"/><line x1="143.3" y1="443.2" x2="140.4" y2="457.0" stroke-width="2.9"/><line x1="140.4" y1="457.0" x2="137.6" y2="470.9" stroke-width="2.9"/><line x1="137.6" y1="470.9" x2="135.1" y2="484.2" stroke-width="2.9"/><line x1="135.1" y1="484.2" x2="132.9" y2="497.1" stroke-width="3.0"/><line x1="132.9" y1="497.1" x2="130.9" y2="510.1" stroke-width="3.0"/><line x1="130.9" y1="510.1" x2="129.1" y2="523.0" stroke-width="3.0"/><line x1="129.1" y1="523.0" x2="127.4" y2="536.0" stroke-width="3.0"/><line x1="127.4" y1="536.0" x2="125.7" y2="549.0" stroke-width="3.0"/><line x1="125.7" y1="549.0" x2="124.0" y2="562.0" stroke-width="3.0"/><line x1="124.0" y1="562.0" x2="122.3" y2="575.0" stroke-width="3.0"/><line x1="122.3" y1="575.0" x2="120.5" y2="588.0" stroke-width="2.9"/><line x1="120.5" y1="588.0" x2="118.8" y2="601.0" stroke-width="2.9"/><line x1="118.8" y1="601.0" x2="117.2" y2="614.1" stroke-width="2.9"/><line x1="117.2" y1="614.1" x2="115.8" y2="627.1" stroke-width="2.9"/><line x1="115.8" y1="627.1" x2="114.5" y2="640.0" stroke-width="3.0"/><line x1="114.5" y1="640.0" x2="113.4" y2="653.2" stroke-width="3.0"/><line x1="113.4" y1="653.2" x2="112.6" y2="666.8" stroke-width="3.2"/><line x1="112.6" y1="666.8" x2="111.8" y2="680.4" stroke-width="3.3"/><line x1="111.8" y1="680.4" x2="111.2" y2="693.5" stroke-width="3.5"/><line x1="111.2" y1="693.5" x2="110.6" y2="705.9" stroke-width="3.7"/><line x1="110.6" y1="705.9" x2="110.0" y2="717.0" stroke-width="3.9"/><line x1="110.0" y1="717.0" x2="109.5" y2="726.9" stroke-width="4.1"/><line x1="109.5" y1="726.9" x2="109.0" y2="735.8" stroke-width="4.2"/><line x1="109.0" y1="735.8" x2="108.6" y2="743.9" stroke-width="4.3"/><line x1="108.6" y1="743.9" x2="108.2" y2="751.4" stroke-width="4.4"/><line x1="108.2" y1="751.4" x2="107.8" y2="758.4" stroke-width="4.6"/><line x1="107.8" y1="758.4" x2="107.5" y2="765.0" stroke-width="4.9"/><line x1="107.5" y1="765.0" x2="107.2" y2="771.2" stroke-width="5.2"/><line x1="107.2" y1="771.2" x2="106.9" y2="776.9" stroke-width="5.7"/><line x1="106.9" y1="776.9" x2="106.6" y2="782.1" stroke-width="6.3"/><line x1="106.6" y1="782.1" x2="106.4" y2="786.8" stroke-width="6.8"/><line x1="106.4" y1="786.8" x2="106.2" y2="791.1" stroke-width="7.4"/><line x1="106.2" y1="791.1" x2="106.0" y2="795.0" stroke-width="7.8"/><line x1="106.0" y1="795.0" x2="105.9" y2="798.4" stroke-width="8.1"/><line x1="105.9" y1="798.4" x2="105.8" y2="801.1" stroke-width="8.2"/><line x1="105.8" y1="801.1" x2="105.7" y2="803.4" stroke-width="8.2"/><line x1="105.7" y1="803.4" x2="105.6" y2="805.6" stroke-width="8.1"/><line x1="105.6" y1="805.6" x2="105.6" y2="807.7" stroke-width="8.1"/><line x1="105.6" y1="807.7" x2="105.5" y2="810.0" stroke-width="8.0"/></g>
<g fill="#ff0000" clip-path="url(#c0)"><circle cx="443.5" cy="22.0" r="6.1"/><circle cx="440.0" cy="28.0" r="6.1"/><circle cx="428.0" cy="31.0" r="6.1"/><circle cx="326.2" cy="88.8" r="6.1"/><circle cx="318.5" cy="96.5" r="6.1"/><circle cx="300.1" cy="115.9" r="6.1"/><circle cx="287.9" cy="135.4" r="6.1"/><circle cx="261.0" cy="174.2" r="6.1"/><circle cx="236.0" cy="213.0" r="6.1"/><circle cx="211.9" cy="251.9" r="6.1"/><circle cx="195.3" cy="290.7" r="6.1"/><circle cx="178.9" cy="329.5" r="6.1"/><circle cx="151.8" cy="407.2" r="6.1"/><circle cx="135.0" cy="484.9" r="6.1"/><circle cx="123.9" cy="562.5" r="6.1"/><circle cx="114.5" cy="640.2" r="6.1"/><circle cx="110.0" cy="717.9" r="6.1"/><circle cx="106.0" cy="795.5" r="6.1"/></g>
<polyline points="451.0,18.9 451.0,20.4 451.0,22.0 451.0,23.5 450.5,25.1 449.5,26.6 449.0,28.2 447.5,30.5 421.0,37.5 405.5,41.5 389.0,45.8 375.5,50.0 364.0,53.0 355.0,57.0 348.5,61.0 342.0,65.5 337.0,73.7 334.6,81.0 329.1,89.1 324.1,96.9 309.1,116.4 287.3,135.4 247.0,174.0 226.5,213.3 208.6,251.2 193.0,290.3 178.7,329.2 158.0,407.3 144.9,484.4 125.6,562.2 115.8,639.8 110.8,717.4 106.1,794.8" fill="none" stroke="#008000" stroke-width="2.6" stroke-linejoin="round" stroke-linecap="round" clip-path="url(#c0)" />
<g fill="#008000" clip-path="url(#c0)"><circle cx="451.0" cy="18.9" r="6.1"/><circle cx="451.0" cy="20.4" r="6.1"/><circle cx="451.0" cy="22.0" r="6.1"/><circle cx="451.0" cy="23.5" r="6.1"/><circle cx="450.5" cy="25.1" r="6.1"/><circle cx="449.5" cy="26.6" r="6.1"/><circle cx="449.0" cy="28.2" r="6.1"/><circle cx="447.5" cy="30.5" r="6.1"/><circle cx="421.0" cy="37.5" r="6.1"/><circle cx="405.5" cy="41.5" r="6.1"/><circle cx="389.0" cy="45.8" r="6.1"/><circle cx="375.5" cy="50.0" r="6.1"/><circle cx="364.0" cy="53.0" r="6.1"/><circle cx="355.0" cy="57.0" r="6.1"/><circle cx="348.5" cy="61.0" r="6.1"/><circle cx="342.0" cy="65.5" r="6.1"/><circle cx="337.0" cy="73.7" r="6.1"/><circle cx="334.6" cy="81.0" r="6.1"/><circle cx="329.1" cy="89.1" r="6.1"/><circle cx="324.1" cy="96.9" r="6.1"/><circle cx="309.1" cy="116.4" r="6.1"/><circle cx="287.3" cy="135.4" r="6.1"/><circle cx="247.0" cy="174.0" r="6.1"/><circle cx="226.5" cy="213.3" r="6.1"/><circle cx="208.6" cy="251.2" r="6.1"/><circle cx="193.0" cy="290.3" r="6.1"/><circle cx="178.7" cy="329.2" r="6.1"/><circle cx="158.0" cy="407.3" r="6.1"/><circle cx="144.9" cy="484.4" r="6.1"/><circle cx="125.6" cy="562.2" r="6.1"/><circle cx="115.8" cy="639.8" r="6.1"/><circle cx="110.8" cy="717.4" r="6.1"/><circle cx="106.1" cy="794.8" r="6.1"/></g>
<polyline points="451.5,19.2 453.0,20.4 455.0,21.3 456.5,22.2 457.5,23.1 458.5,24.2 458.7,25.4 458.5,26.6 458.0,28.0 457.0,29.7 455.0,31.5 451.5,33.6 440.7,36.1 426.6,38.9 412.3,42.1 397.8,45.9 381.0,50.4 365.5,55.7 350.1,62.3 337.2,70.4 326.4,79.3 316.4,90.5 306.3,104.2 291.4,119.9 276.1,140.1 258.3,163.2 240.4,191.4 220.4,224.9 202.9,266.0 185.5,314.2 168.2,371.2 149.3,439.3 134.2,518.4 122.1,611.3 111.0,718.2" fill="none" stroke="#ff00ff" stroke-width="2.6" stroke-linejoin="round" stroke-linecap="round" clip-path="url(#c0)" />
<g fill="#ff00ff" clip-path="url(#c0)"><circle cx="451.5" cy="19.2" r="6.1"/><circle cx="453.0" cy="20.4" r="6.1"/><circle cx="455.0" cy="21.3" r="6.1"/><circle cx="456.5" cy="22.2" r="6.1"/><circle cx="457.5" cy="23.1" r="6.1"/><circle cx="458.5" cy="24.2" r="6.1"/><circle cx="458.7" cy="25.4" r="6.1"/><circle cx="458.5" cy="26.6" r="6.1"/><circle cx="458.0" cy="28.0" r="6.1"/><circle cx="457.0" cy="29.7" r="6.1"/><circle cx="455.0" cy="31.5" r="6.1"/><circle cx="451.5" cy="33.6" r="6.1"/><circle cx="440.7" cy="36.1" r="6.1"/><circle cx="426.6" cy="38.9" r="6.1"/><circle cx="412.3" cy="42.1" r="6.1"/><circle cx="397.8" cy="45.9" r="6.1"/><circle cx="381.0" cy="50.4" r="6.1"/><circle cx="365.5" cy="55.7" r="6.1"/><circle cx="350.1" cy="62.3" r="6.1"/><circle cx="337.2" cy="70.4" r="6.1"/><circle cx="326.4" cy="79.3" r="6.1"/><circle cx="316.4" cy="90.5" r="6.1"/><circle cx="306.3" cy="104.2" r="6.1"/><circle cx="291.4" cy="119.9" r="6.1"/><circle cx="276.1" cy="140.1" r="6.1"/><circle cx="258.3" cy="163.2" r="6.1"/><circle cx="240.4" cy="191.4" r="6.1"/><circle cx="220.4" cy="224.9" r="6.1"/><circle cx="202.9" cy="266.0" r="6.1"/><circle cx="185.5" cy="314.2" r="6.1"/><circle cx="168.2" cy="371.2" r="6.1"/><circle cx="149.3" cy="439.3" r="6.1"/><circle cx="134.2" cy="518.4" r="6.1"/><circle cx="122.1" cy="611.3" r="6.1"/><circle cx="111.0" cy="718.2" r="6.1"/></g>
<g stroke="#00ffff" stroke-linecap="round" fill="none" clip-path="url(#c1)"><line x1="612.0" y1="20.0" x2="620.1" y2="20.1" stroke-width="6.1"/><line x1="620.1" y1="20.1" x2="628.3" y2="20.3" stroke-width="6.2"/><line x1="628.3" y1="20.3" x2="636.5" y2="20.4" stroke-width="6.3"/><line x1="636.5" y1="20.4" x2="644.6" y2="20.5" stroke-width="6.4"/><line x1="644.6" y1="20.5" x2="652.5" y2="20.7" stroke-width="6.6"/><line x1="652.5" y1="20.7" x2="660.0" y2="21.0" stroke-width="6.9"/><line x1="660.0" y1="21.0" x2="666.9" y2="21.4" stroke-width="7.2"/><line x1="666.9" y1="21.4" x2="673.2" y2="21.9" stroke-width="7.7"/><line x1="673.2" y1="21.9" x2="679.2" y2="22.4" stroke-width="8.2"/><line x1="679.2" y1="22.4" x2="685.5" y2="23.0" stroke-width="8.8"/><line x1="685.5" y1="23.0" x2="692.3" y2="23.5" stroke-width="9.3"/><line x1="692.3" y1="23.5" x2="700.0" y2="24.0" stroke-width="9.8"/><line x1="700.0" y1="24.0" x2="708.4" y2="24.4" stroke-width="10.2"/><line x1="708.4" y1="24.4" x2="717.1" y2="24.7" stroke-width="10.4"/><line x1="717.1" y1="24.7" x2="726.4" y2="25.0" stroke-width="10.7"/><line x1="726.4" y1="25.0" x2="736.4" y2="25.3" stroke-width="10.8"/><line x1="736.4" y1="25.3" x2="747.6" y2="25.6" stroke-width="10.9"/><line x1="747.6" y1="25.6" x2="760.0" y2="26.0" stroke-width="11.0"/><line x1="760.0" y1="26.0" x2="774.6" y2="26.5" stroke-width="11.0"/><line x1="774.6" y1="26.5" x2="791.5" y2="27.1" stroke-width="10.9"/><line x1="791.5" y1="27.1" x2="809.4" y2="27.8" stroke-width="10.7"/><line x1="809.4" y1="27.8" x2="827.2" y2="28.4" stroke-width="10.4"/><line x1="827.2" y1="28.4" x2="843.8" y2="29.0" stroke-width="10.2"/><line x1="843.8" y1="29.0" x2="858.0" y2="29.5" stroke-width="10.1"/><line x1="858.0" y1="29.5" x2="870.0" y2="29.8" stroke-width="10.0"/><line x1="870.0" y1="29.8" x2="880.7" y2="29.9" stroke-width="9.9"/><line x1="880.7" y1="29.9" x2="890.1" y2="30.0" stroke-width="9.9"/><line x1="890.1" y1="30.0" x2="898.4" y2="30.2" stroke-width="9.9"/><line x1="898.4" y1="30.2" x2="905.7" y2="30.5" stroke-width="9.9"/><line x1="905.7" y1="30.5" x2="912.0" y2="31.0" stroke-width="10.0"/><line x1="912.0" y1="31.0" x2="917.0" y2="31.8" stroke-width="10.1"/><line x1="917.0" y1="31.8" x2="920.5" y2="32.9" stroke-width="8.6"/><line x1="920.5" y1="32.9" x2="922.9" y2="34.0" stroke-width="6.1"/><line x1="922.9" y1="34.0" x2="924.7" y2="35.3" stroke-width="5.9"/><line x1="924.7" y1="35.3" x2="926.3" y2="36.7" stroke-width="6.8"/><line x1="926.3" y1="36.7" x2="928.0" y2="38.0" stroke-width="6.9"/><line x1="928.0" y1="38.0" x2="929.7" y2="39.3" stroke-width="7.1"/><line x1="929.7" y1="39.3" x2="931.1" y2="40.7" stroke-width="7.8"/><line x1="931.1" y1="40.7" x2="932.2" y2="42.1" stroke-width="8.7"/><line x1="932.2" y1="42.1" x2="933.1" y2="43.6" stroke-width="9.3"/><line x1="933.1" y1="43.6" x2="934.0" y2="45.2" stroke-width="9.5"/><line x1="934.0" y1="45.2" x2="935.0" y2="47.0" stroke-width="9.6"/><line x1="935.0" y1="47.0" x2="936.1" y2="48.9" stroke-width="9.6"/><line x1="936.1" y1="48.9" x2="937.1" y2="50.8" stroke-width="9.7"/><line x1="937.1" y1="50.8" x2="938.1" y2="52.8" stroke-width="9.9"/><line x1="938.1" y1="52.8" x2="939.1" y2="55.0" stroke-width="10.1"/><line x1="939.1" y1="55.0" x2="939.9" y2="57.4" stroke-width="10.4"/><line x1="939.9" y1="57.4" x2="940.5" y2="60.0" stroke-width="10.7"/><line x1="940.5" y1="60.0" x2="940.9" y2="62.9" stroke-width="10.9"/><line x1="940.9" y1="62.9" x2="941.2" y2="66.1" stroke-width="10.9"/><line x1="941.2" y1="66.1" x2="941.3" y2="69.4" stroke-width="10.9"/><line x1="941.3" y1="69.4" x2="941.3" y2="72.9" stroke-width="10.9"/><line x1="941.3" y1="72.9" x2="941.4" y2="76.5" stroke-width="10.9"/><line x1="941.4" y1="76.5" x2="941.5" y2="80.0" stroke-width="11.0"/><line x1="941.5" y1="80.0" x2="941.7" y2="83.7" stroke-width="11.0"/><line x1="941.7" y1="83.7" x2="941.9" y2="87.6" stroke-width="11.1"/><line x1="941.9" y1="87.6" x2="942.0" y2="91.6" stroke-width="11.2"/><line x1="942.0" y1="91.6" x2="942.2" y2="95.5" stroke-width="11.4"/><line x1="942.2" y1="95.5" x2="942.4" y2="99.0" stroke-width="11.6"/><line x1="942.4" y1="99.0" x2="942.5" y2="102.0" stroke-width="11.8"/><line x1="942.5" y1="102.0" x2="942.7" y2="104.4" stroke-width="12.1"/><line x1="942.7" y1="104.4" x2="943.0" y2="106.2" stroke-width="12.4"/><line x1="943.0" y1="106.2" x2="943.3" y2="107.8" stroke-width="12.8"/><line x1="943.3" y1="107.8" x2="943.5" y2="109.2" stroke-width="13.4"/><line x1="943.5" y1="109.2" x2="943.4" y2="110.5" stroke-width="13.9"/><line x1="943.4" y1="110.5" x2="943.0" y2="112.0" stroke-width="14.1"/><line x1="943.0" y1="112.0" x2="942.3" y2="113.6" stroke-width="13.9"/><line x1="942.3" y1="113.6" x2="941.3" y2="115.0" stroke-width="13.7"/><line x1="941.3" y1="115.0" x2="940.1" y2="116.5" stroke-width="13.5"/><line x1="940.1" y1="116.5" x2="938.6" y2="118.0" stroke-width="13.7"/><line x1="938.6" y1="118.0" x2="937.0" y2="119.6" stroke-width="14.1"/><line x1="937.0" y1="119.6" x2="935.3" y2="121.4" stroke-width="14.5"/><line x1="935.3" y1="121.4" x2="933.3" y2="123.3" stroke-width="14.7"/><line x1="933.3" y1="123.3" x2="930.9" y2="125.4" stroke-width="14.6"/><line x1="930.9" y1="125.4" x2="928.4" y2="127.6" stroke-width="14.6"/><line x1="928.4" y1="127.6" x2="925.8" y2="129.9" stroke-width="15.0"/><line x1="925.8" y1="129.9" x2="923.4" y2="132.1" stroke-width="15.6"/><line x1="923.4" y1="132.1" x2="921.3" y2="134.3" stroke-width="16.6"/><line x1="921.3" y1="134.3" x2="919.6" y2="136.4" stroke-width="17.8"/><line x1="919.6" y1="136.4" x2="918.1" y2="138.6" stroke-width="18.7"/><line x1="918.1" y1="138.6" x2="916.7" y2="140.7" stroke-width="19.2"/><line x1="916.7" y1="140.7" x2="915.4" y2="142.8" stroke-width="19.2"/><line x1="915.4" y1="142.8" x2="914.1" y2="145.0" stroke-width="18.9"/><line x1="914.1" y1="145.0" x2="912.6" y2="147.1" stroke-width="18.3"/><line x1="912.6" y1="147.1" x2="911.0" y2="149.2" stroke-width="17.7"/><line x1="911.0" y1="149.2" x2="909.4" y2="151.3" stroke-width="17.3"/><line x1="909.4" y1="151.3" x2="907.8" y2="153.4" stroke-width="16.9"/><line x1="907.8" y1="153.4" x2="906.1" y2="155.6" stroke-width="16.6"/><line x1="906.1" y1="155.6" x2="904.4" y2="157.8" stroke-width="16.4"/><line x1="904.4" y1="157.8" x2="902.6" y2="160.0" stroke-width="16.1"/><line x1="902.6" y1="160.0" x2="900.7" y2="162.4" stroke-width="15.8"/><line x1="900.7" y1="162.4" x2="898.6" y2="164.8" stroke-width="15.4"/><line x1="898.6" y1="164.8" x2="896.5" y2="167.3" stroke-width="15.2"/><line x1="896.5" y1="167.3" x2="894.4" y2="169.8" stroke-width="15.1"/><line x1="894.4" y1="169.8" x2="892.5" y2="172.2" stroke-width="15.1"/><line x1="892.5" y1="172.2" x2="890.8" y2="174.5" stroke-width="15.3"/><line x1="890.8" y1="174.5" x2="889.4" y2="176.5" stroke-width="15.5"/><line x1="889.4" y1="176.5" x2="888.2" y2="178.4" stroke-width="15.7"/><line x1="888.2" y1="178.4" x2="887.1" y2="180.2" stroke-width="16.0"/><line x1="887.1" y1="180.2" x2="886.1" y2="181.9" stroke-width="16.2"/><line x1="886.1" y1="181.9" x2="885.1" y2="183.9" stroke-width="16.4"/><line x1="885.1" y1="183.9" x2="884.0" y2="186.0" stroke-width="16.6"/><line x1="884.0" y1="186.0" x2="882.9" y2="188.4" stroke-width="16.8"/><line x1="882.9" y1="188.4" x2="881.8" y2="191.0" stroke-width="17.0"/><line x1="881.8" y1="191.0" x2="880.7" y2="193.7" stroke-width="17.1"/><line x1="880.7" y1="193.7" x2="879.6" y2="196.5" stroke-width="17.2"/><line x1="879.6" y1="196.5" x2="878.4" y2="199.3" stroke-width="17.2"/><line x1="878.4" y1="199.3" x2="877.3" y2="202.0" stroke-width="17.1"/><line x1="877.3" y1="202.0" x2="876.1" y2="204.7" stroke-width="16.9"/><line x1="876.1" y1="204.7" x2="874.9" y2="207.5" stroke-width="16.7"/><line x1="874.9" y1="207.5" x2="873.6" y2="210.2" stroke-width="16.5"/><line x1="873.6" y1="210.2" x2="872.4" y2="213.0" stroke-width="16.3"/><line x1="872.4" y1="213.0" x2="871.3" y2="215.6" stroke-width="16.2"/><line x1="871.3" y1="215.6" x2="870.2" y2="218.0" stroke-width="16.1"/><line x1="870.2" y1="218.0" x2="869.3" y2="220.1" stroke-width="16.1"/><line x1="869.3" y1="220.1" x2="868.6" y2="222.0" stroke-width="16.2"/><line x1="868.6" y1="222.0" x2="868.0" y2="223.7" stroke-width="16.3"/><line x1="868.0" y1="223.7" x2="867.3" y2="225.5" stroke-width="16.3"/><line x1="867.3" y1="225.5" x2="866.5" y2="227.5" stroke-width="16.2"/><line x1="866.5" y1="227.5" x2="865.4" y2="230.0" stroke-width="16.1"/><line x1="865.4" y1="230.0" x2="864.1" y2="232.8" stroke-width="15.8"/><line x1="864.1" y1="232.8" x2="862.6" y2="235.7" stroke-width="15.6"/><line x1="862.6" y1="235.7" x2="861.0" y2="238.9" stroke-width="15.5"/><line x1="861.0" y1="238.9" x2="859.3" y2="242.4" stroke-width="15.6"/><line x1="859.3" y1="242.4" x2="857.5" y2="246.5" stroke-width="15.8"/><line x1="857.5" y1="246.5" x2="855.8" y2="251.2" stroke-width="16.0"/><line x1="855.8" y1="251.2" x2="854.0" y2="256.7" stroke-width="16.1"/><line x1="854.0" y1="256.7" x2="852.1" y2="263.0" stroke-width="16.2"/><line x1="852.1" y1="263.0" x2="850.2" y2="269.8" stroke-width="16.1"/><line x1="850.2" y1="269.8" x2="848.2" y2="276.9" stroke-width="16.1"/><line x1="848.2" y1="276.9" x2="846.4" y2="283.9" stroke-width="16.1"/><line x1="846.4" y1="283.9" x2="844.6" y2="290.6" stroke-width="16.0"/><line x1="844.6" y1="290.6" x2="843.0" y2="297.1" stroke-width="16.0"/><line x1="843.0" y1="297.1" x2="841.4" y2="303.5" stroke-width="16.0"/><line x1="841.4" y1="303.5" x2="839.9" y2="309.9" stroke-width="16.0"/><line x1="839.9" y1="309.9" x2="838.4" y2="316.3" stroke-width="16.0"/><line x1="838.4" y1="316.3" x2="837.0" y2="322.7" stroke-width="15.9"/><line x1="837.0" y1="322.7" x2="835.4" y2="329.1" stroke-width="15.7"/><line x1="835.4" y1="329.1" x2="833.8" y2="335.6" stroke-width="15.3"/><line x1="833.8" y1="335.6" x2="832.1" y2="342.0" stroke-width="14.9"/><line x1="832.1" y1="342.0" x2="830.4" y2="348.5" stroke-width="14.3"/><line x1="830.4" y1="348.5" x2="828.7" y2="355.0" stroke-width="13.8"/><line x1="828.7" y1="355.0" x2="827.0" y2="361.5" stroke-width="13.3"/><line x1="827.0" y1="361.5" x2="825.5" y2="368.0" stroke-width="12.8"/><line x1="825.5" y1="368.0" x2="824.0" y2="374.6" stroke-width="12.5"/><line x1="824.0" y1="374.6" x2="822.5" y2="381.2" stroke-width="12.3"/><line x1="822.5" y1="381.2" x2="821.1" y2="387.9" stroke-width="12.1"/><line x1="821.1" y1="387.9" x2="819.7" y2="394.5" stroke-width="12.0"/><line x1="819.7" y1="394.5" x2="818.5" y2="400.9" stroke-width="11.9"/><line x1="818.5" y1="400.9" x2="817.5" y2="407.0" stroke-width="11.9"/><line x1="817.5" y1="407.0" x2="816.7" y2="412.3" stroke-width="11.8"/><line x1="816.7" y1="412.3" x2="816.2" y2="416.6" stroke-width="11.8"/><line x1="816.2" y1="416.6" x2="815.8" y2="420.8" stroke-width="11.9"/><line x1="815.8" y1="420.8" x2="815.4" y2="425.5" stroke-width="11.9"/><line x1="815.4" y1="425.5" x2="815.0" y2="431.5" stroke-width="11.9"/><line x1="815.0" y1="431.5" x2="814.5" y2="439.5" stroke-width="12.0"/><line x1="814.5" y1="439.5" x2="813.8" y2="449.8" stroke-width="12.0"/><line x1="813.8" y1="449.8" x2="813.0" y2="462.0" stroke-width="12.0"/><line x1="813.0" y1="462.0" x2="812.1" y2="475.4" stroke-width="12.0"/><line x1="812.1" y1="475.4" x2="811.3" y2="489.6" stroke-width="12.0"/><line x1="811.3" y1="489.6" x2="810.5" y2="503.8" stroke-width="12.0"/><line x1="810.5" y1="503.8" x2="810.0" y2="517.6" stroke-width="12.0"/><line x1="810.0" y1="517.6" x2="809.7" y2="530.9" stroke-width="12.0"/><line x1="809.7" y1="530.9" x2="809.5" y2="544.1" stroke-width="12.0"/><line x1="809.5" y1="544.1" x2="809.4" y2="557.4" stroke-width="12.0"/><line x1="809.4" y1="557.4" x2="809.4" y2="571.1" stroke-width="12.0"/><line x1="809.4" y1="571.1" x2="809.5" y2="585.2" stroke-width="12.0"/><line x1="809.5" y1="585.2" x2="809.5" y2="600.0" stroke-width="12.0"/><line x1="809.5" y1="600.0" x2="809.5" y2="616.0" stroke-width="12.0"/><line x1="809.5" y1="616.0" x2="809.6" y2="633.1" stroke-width="12.0"/><line x1="809.6" y1="633.1" x2="809.7" y2="650.8" stroke-width="12.0"/><line x1="809.7" y1="650.8" x2="809.8" y2="668.2" stroke-width="12.0"/><line x1="809.8" y1="668.2" x2="809.9" y2="684.9" stroke-width="12.0"/><line x1="809.9" y1="684.9" x2="810.0" y2="700.0" stroke-width="12.0"/><line x1="810.0" y1="700.0" x2="810.0" y2="713.4" stroke-width="12.0"/><line x1="810.0" y1="713.4" x2="810.0" y2="725.6" stroke-width="12.0"/><line x1="810.0" y1="725.6" x2="810.0" y2="736.9" stroke-width="12.0"/><line x1="810.0" y1="736.9" x2="810.0" y2="747.8" stroke-width="12.0"/><line x1="810.0" y1="747.8" x2="810.0" y2="758.7" stroke-width="12.0"/><line x1="810.0" y1="758.7" x2="810.0" y2="770.0" stroke-width="12.0"/></g>
<g fill="#00ffff" clip-path="url(#c1)"><circle cx="612.0" cy="20.0" r="3.7"/><circle cx="616.0" cy="20.1" r="3.7"/><circle cx="620.0" cy="20.1" r="3.8"/><circle cx="624.0" cy="20.2" r="3.8"/><circle cx="628.0" cy="20.3" r="3.8"/><circle cx="632.0" cy="20.3" r="3.9"/><circle cx="636.0" cy="20.4" r="3.9"/><circle cx="640.0" cy="20.4" r="3.9"/><circle cx="644.0" cy="20.5" r="4.0"/><circle cx="648.0" cy="20.6" r="4.0"/><circle cx="652.0" cy="20.7" r="4.1"/><circle cx="656.0" cy="20.8" r="4.1"/><circle cx="660.0" cy="21.0" r="4.2"/><circle cx="664.0" cy="21.2" r="4.3"/><circle cx="668.0" cy="21.5" r="4.4"/><circle cx="672.0" cy="21.8" r="4.6"/><circle cx="675.9" cy="22.1" r="4.8"/><circle cx="679.9" cy="22.5" r="5.0"/><circle cx="683.9" cy="22.9" r="5.2"/><circle cx="687.9" cy="23.2" r="5.3"/><circle cx="691.9" cy="23.5" r="5.5"/><circle cx="695.9" cy="23.8" r="5.6"/><circle cx="699.9" cy="24.0" r="5.7"/><circle cx="703.9" cy="24.2" r="5.8"/><circle cx="707.9" cy="24.3" r="5.8"/><circle cx="711.9" cy="24.5" r="5.9"/><circle cx="715.9" cy="24.6" r="6.0"/><circle cx="719.9" cy="24.8" r="6.0"/><circle cx="723.9" cy="24.9" r="6.0"/><circle cx="727.9" cy="25.0" r="6.1"/><circle cx="731.9" cy="25.1" r="6.1"/><circle cx="735.9" cy="25.2" r="6.1"/><circle cx="739.8" cy="25.4" r="6.2"/><circle cx="743.8" cy="25.5" r="6.2"/><circle cx="747.8" cy="25.6" r="6.2"/><circle cx="751.8" cy="25.7" r="6.2"/><circle cx="755.8" cy="25.9" r="6.2"/><circle cx="759.8" cy="26.0" r="6.2"/><circle cx="763.8" cy="26.1" r="6.2"/><circle cx="767.8" cy="26.3" r="6.2"/><circle cx="771.8" cy="26.4" r="6.2"/><circle cx="775.8" cy="26.6" r="6.2"/><circle cx="779.8" cy="26.7" r="6.1"/><circle cx="783.8" cy="26.9" r="6.1"/><circle cx="787.8" cy="27.0" r="6.1"/><circle cx="791.8" cy="27.1" r="6.1"/><circle cx="795.8" cy="27.3" r="6.1"/><circle cx="799.8" cy="27.4" r="6.0"/><circle cx="803.8" cy="27.6" r="6.0"/><circle cx="807.8" cy="27.7" r="6.0"/><circle cx="811.8" cy="27.9" r="6.0"/><circle cx="815.8" cy="28.0" r="5.9"/><circle cx="819.8" cy="28.2" r="5.9"/><circle cx="823.8" cy="28.3" r="5.9"/><circle cx="827.8" cy="28.4" r="5.9"/><circle cx="831.8" cy="28.6" r="5.8"/><circle cx="835.8" cy="28.7" r="5.8"/><circle cx="839.8" cy="28.9" r="5.8"/><circle cx="843.8" cy="29.0" r="5.8"/><circle cx="847.8" cy="29.2" r="5.7"/><circle cx="851.8" cy="29.3" r="5.7"/><circle cx="855.8" cy="29.4" r="5.7"/><circle cx="859.8" cy="29.5" r="5.7"/><circle cx="863.8" cy="29.6" r="5.7"/><circle cx="867.8" cy="29.7" r="5.7"/><circle cx="871.8" cy="29.8" r="5.7"/><circle cx="875.8" cy="29.9" r="5.7"/><circle cx="879.8" cy="29.9" r="5.6"/><circle cx="883.8" cy="30.0" r="5.6"/><circle cx="887.8" cy="30.0" r="5.6"/><circle cx="891.8" cy="30.1" r="5.6"/><circle cx="895.8" cy="30.1" r="5.6"/><circle cx="899.8" cy="30.2" r="5.6"/><circle cx="903.8" cy="30.4" r="5.7"/><circle cx="907.8" cy="30.6" r="5.7"/><circle cx="911.7" cy="31.0" r="5.7"/><circle cx="915.7" cy="31.6" r="5.7"/><circle cx="919.6" cy="32.6" r="4.6"/><circle cx="923.2" cy="34.2" r="3.4"/><circle cx="926.3" cy="36.7" r="4.2"/><circle cx="929.5" cy="39.2" r="4.3"/><circle cx="932.2" cy="42.1" r="5.2"/><circle cx="934.2" cy="45.6" r="5.5"/><circle cx="936.2" cy="49.0" r="5.5"/><circle cx="938.0" cy="52.6" r="5.7"/><circle cx="939.5" cy="56.3" r="5.9"/><circle cx="940.5" cy="60.2" r="6.1"/><circle cx="941.0" cy="64.1" r="6.2"/><circle cx="941.2" cy="68.1" r="6.2"/><circle cx="941.3" cy="72.1" r="6.2"/><circle cx="941.4" cy="76.1" r="6.2"/><circle cx="941.5" cy="80.1" r="6.2"/><circle cx="941.7" cy="84.1" r="6.2"/><circle cx="941.9" cy="88.1" r="6.3"/><circle cx="942.1" cy="92.1" r="6.4"/><circle cx="942.2" cy="96.1" r="6.5"/><circle cx="942.4" cy="100.1" r="6.6"/><circle cx="942.7" cy="104.1" r="6.8"/><circle cx="943.3" cy="108.0" r="7.3"/><circle cx="943.0" cy="112.0" r="7.7"/><circle cx="941.0" cy="115.4" r="7.5"/><circle cx="938.3" cy="118.4" r="7.7"/><circle cx="935.5" cy="121.2" r="8.0"/><circle cx="932.6" cy="124.0" r="8.0"/><circle cx="929.6" cy="126.6" r="8.0"/><circle cx="926.6" cy="129.2" r="8.2"/><circle cx="923.6" cy="131.9" r="8.7"/><circle cx="920.9" cy="134.8" r="9.4"/><circle cx="918.4" cy="138.0" r="10.1"/><circle cx="916.3" cy="141.4" r="10.3"/><circle cx="914.2" cy="144.8" r="10.0"/><circle cx="911.9" cy="148.1" r="9.6"/><circle cx="909.5" cy="151.3" r="9.3"/><circle cx="907.0" cy="154.4" r="9.0"/><circle cx="904.5" cy="157.6" r="8.8"/><circle cx="902.0" cy="160.7" r="8.6"/><circle cx="899.5" cy="163.8" r="8.4"/><circle cx="896.9" cy="166.8" r="8.3"/><circle cx="894.4" cy="169.9" r="8.2"/><circle cx="891.9" cy="173.0" r="8.3"/><circle cx="889.6" cy="176.3" r="8.5"/><circle cx="887.4" cy="179.6" r="8.7"/><circle cx="885.4" cy="183.1" r="8.9"/><circle cx="883.7" cy="186.7" r="9.1"/><circle cx="882.0" cy="190.4" r="9.2"/><circle cx="880.5" cy="194.1" r="9.3"/><circle cx="879.0" cy="197.8" r="9.3"/><circle cx="877.5" cy="201.5" r="9.2"/><circle cx="875.9" cy="205.2" r="9.1"/><circle cx="874.3" cy="208.8" r="9.0"/><circle cx="872.6" cy="212.5" r="8.8"/><circle cx="871.0" cy="216.1" r="8.8"/><circle cx="869.5" cy="219.8" r="8.8"/><circle cx="868.0" cy="223.5" r="8.9"/><circle cx="866.6" cy="227.2" r="8.8"/><circle cx="865.0" cy="230.9" r="8.6"/><circle cx="863.2" cy="234.5" r="8.5"/><circle cx="861.4" cy="238.1" r="8.4"/><circle cx="859.7" cy="241.7" r="8.5"/><circle cx="858.0" cy="245.3" r="8.6"/><circle cx="856.6" cy="249.1" r="8.7"/><circle cx="855.3" cy="252.8" r="8.7"/><circle cx="854.0" cy="256.6" r="8.8"/><circle cx="852.9" cy="260.5" r="8.8"/><circle cx="851.7" cy="264.3" r="8.8"/><circle cx="850.6" cy="268.2" r="8.8"/><circle cx="849.6" cy="272.0" r="8.8"/><circle cx="848.5" cy="275.9" r="8.7"/><circle cx="847.5" cy="279.7" r="8.7"/><circle cx="846.4" cy="283.6" r="8.7"/><circle cx="845.4" cy="287.5" r="8.7"/><circle cx="844.4" cy="291.3" r="8.7"/><circle cx="843.4" cy="295.2" r="8.7"/><circle cx="842.5" cy="299.1" r="8.7"/><circle cx="841.5" cy="303.0" r="8.7"/><circle cx="840.6" cy="306.9" r="8.7"/><circle cx="839.7" cy="310.8" r="8.7"/><circle cx="838.8" cy="314.7" r="8.7"/><circle cx="837.9" cy="318.6" r="8.6"/><circle cx="837.0" cy="322.5" r="8.6"/><circle cx="836.1" cy="326.3" r="8.5"/><circle cx="835.1" cy="330.2" r="8.4"/><circle cx="834.1" cy="334.1" r="8.3"/><circle cx="833.1" cy="338.0" r="8.2"/><circle cx="832.1" cy="341.9" r="8.0"/><circle cx="831.1" cy="345.7" r="7.8"/><circle cx="830.1" cy="349.6" r="7.7"/><circle cx="829.1" cy="353.5" r="7.5"/><circle cx="828.1" cy="357.3" r="7.4"/><circle cx="827.1" cy="361.2" r="7.2"/><circle cx="826.2" cy="365.1" r="7.1"/><circle cx="825.3" cy="369.0" r="7.0"/><circle cx="824.4" cy="372.9" r="6.9"/><circle cx="823.5" cy="376.8" r="6.9"/><circle cx="822.6" cy="380.7" r="6.8"/><circle cx="821.8" cy="384.6" r="6.8"/><circle cx="820.9" cy="388.5" r="6.7"/><circle cx="820.1" cy="392.4" r="6.7"/><circle cx="819.4" cy="396.4" r="6.7"/><circle cx="818.6" cy="400.3" r="6.7"/><circle cx="818.0" cy="404.2" r="6.6"/><circle cx="817.3" cy="408.2" r="6.6"/><circle cx="816.7" cy="412.2" r="6.6"/><circle cx="816.2" cy="416.1" r="6.6"/><circle cx="815.8" cy="420.1" r="6.6"/><circle cx="815.5" cy="424.1" r="6.7"/><circle cx="815.3" cy="428.1" r="6.7"/><circle cx="815.0" cy="432.1" r="6.7"/><circle cx="814.7" cy="436.1" r="6.7"/><circle cx="814.5" cy="440.1" r="6.7"/><circle cx="814.2" cy="444.0" r="6.7"/><circle cx="813.9" cy="448.0" r="6.7"/><circle cx="813.6" cy="452.0" r="6.7"/><circle cx="813.4" cy="456.0" r="6.7"/><circle cx="813.1" cy="460.0" r="6.7"/><circle cx="812.8" cy="464.0" r="6.7"/><circle cx="812.6" cy="468.0" r="6.7"/><circle cx="812.3" cy="472.0" r="6.7"/><circle cx="812.1" cy="476.0" r="6.7"/><circle cx="811.8" cy="480.0" r="6.7"/><circle cx="811.6" cy="484.0" r="6.7"/><circle cx="811.4" cy="488.0" r="6.7"/><circle cx="811.1" cy="491.9" r="6.7"/><circle cx="810.9" cy="495.9" r="6.7"/><circle cx="810.7" cy="499.9" r="6.7"/><circle cx="810.5" cy="503.9" r="6.7"/><circle cx="810.4" cy="507.9" r="6.7"/><circle cx="810.2" cy="511.9" r="6.7"/><circle cx="810.1" cy="515.9" r="6.7"/><circle cx="809.9" cy="519.9" r="6.7"/><circle cx="809.8" cy="523.9" r="6.7"/><circle cx="809.7" cy="527.9" r="6.7"/><circle cx="809.7" cy="531.9" r="6.7"/><circle cx="809.6" cy="535.9" r="6.7"/><circle cx="809.6" cy="539.9" r="6.7"/><circle cx="809.5" cy="543.9" r="6.7"/><circle cx="809.5" cy="547.9" r="6.7"/><circle cx="809.5" cy="551.9" r="6.7"/><circle cx="809.4" cy="555.9" r="6.7"/><circle cx="809.4" cy="559.9" r="6.7"/><circle cx="809.4" cy="563.9" r="6.7"/><circle cx="809.4" cy="567.9" r="6.7"/><circle cx="809.4" cy="571.9" r="6.7"/><circle cx="809.5" cy="575.9" r="6.7"/><circle cx="809.5" cy="579.9" r="6.7"/><circle cx="809.5" cy="583.9" r="6.7"/><circle cx="809.5" cy="587.9" r="6.7"/><circle cx="809.5" cy="591.9" r="6.7"/><circle cx="809.5" cy="595.9" r="6.7"/><circle cx="809.5" cy="599.9" r="6.7"/><circle cx="809.5" cy="603.9" r="6.7"/><circle cx="809.5" cy="607.9" r="6.7"/><circle cx="809.5" cy="611.9" r="6.7"/><circle cx="809.5" cy="615.9" r="6.7"/><circle cx="809.5" cy="619.9" r="6.7"/><circle cx="809.6" cy="623.9" r="6.7"/><circle cx="809.6" cy="627.9" r="6.7"/><circle cx="809.6" cy="631.9" r="6.7"/><circle cx="809.6" cy="635.9" r="6.7"/><circle cx="809.7" cy="639.9" r="6.7"/><circle cx="809.7" cy="643.9" r="6.7"/><circle cx="809.7" cy="647.9" r="6.7"/><circle cx="809.7" cy="651.9" r="6.7"/><circle cx="809.8" cy="655.9" r="6.7"/><circle cx="809.8" cy="659.9" r="6.7"/><circle cx="809.8" cy="663.9" r="6.7"/><circle cx="809.8" cy="667.9" r="6.7"/><circle cx="809.9" cy="671.9" r="6.7"/><circle cx="809.9" cy="675.9" r="6.7"/><circle cx="809.9" cy="679.9" r="6.7"/><circle cx="809.9" cy="683.9" r="6.7"/><circle cx="809.9" cy="687.9" r="6.7"/><circle cx="810.0" cy="691.9" r="6.7"/><circle cx="810.0" cy="695.9" r="6.7"/><circle cx="810.0" cy="699.9" r="6.7"/><circle cx="810.0" cy="703.9" r="6.7"/><circle cx="810.0" cy="707.9" r="6.7"/><circle cx="810.0" cy="711.9" r="6.7"/><circle cx="810.0" cy="715.9" r="6.7"/><circle cx="810.0" cy="719.9" r="6.7"/><circle cx="810.0" cy="723.9" r="6.7"/><circle cx="810.0" cy="727.9" r="6.7"/><circle cx="810.0" cy="731.9" r="6.7"/><circle cx="810.0" cy="735.9" r="6.7"/><circle cx="810.0" cy="739.9" r="6.7"/><circle cx="810.0" cy="743.9" r="6.7"/><circle cx="810.0" cy="747.9" r="6.7"/><circle cx="810.0" cy="751.9" r="6.7"/><circle cx="810.0" cy="755.9" r="6.7"/><circle cx="810.0" cy="759.9" r="6.7"/><circle cx="810.0" cy="763.9" r="6.7"/><circle cx="810.0" cy="767.9" r="6.7"/></g>
<g stroke="#0000ff" stroke-linecap="round" fill="none" clip-path="url(#c1)"><line x1="608.0" y1="22.0" x2="608.6" y2="22.0" stroke-width="8.9"/><line x1="608.6" y1="22.0" x2="609.3" y2="21.9" stroke-width="8.9"/><line x1="609.3" y1="21.9" x2="609.9" y2="21.9" stroke-width="8.8"/><line x1="609.9" y1="21.9" x2="610.5" y2="21.9" stroke-width="8.7"/><line x1="610.5" y1="21.9" x2="611.2" y2="21.9" stroke-width="8.5"/><line x1="611.2" y1="21.9" x2="612.0" y2="21.8" stroke-width="8.2"/><line x1="612.0" y1="21.8" x2="612.7" y2="21.7" stroke-width="7.6"/><line x1="612.7" y1="21.7" x2="613.3" y2="21.6" stroke-width="6.8"/><line x1="613.3" y1="21.6" x2="613.9" y2="21.5" stroke-width="5.7"/><line x1="613.9" y1="21.5" x2="614.7" y2="21.4" stroke-width="4.5"/><line x1="614.7" y1="21.4" x2="616.1" y2="21.3" stroke-width="3.5"/><line x1="616.1" y1="21.3" x2="618.0" y2="21.3" stroke-width="2.8"/><line x1="618.0" y1="21.3" x2="620.3" y2="21.3" stroke-width="2.4"/><line x1="620.3" y1="21.3" x2="622.7" y2="21.2" stroke-width="2.4"/><line x1="622.7" y1="21.2" x2="625.6" y2="21.2" stroke-width="2.5"/><line x1="625.6" y1="21.2" x2="629.3" y2="21.2" stroke-width="2.9"/><line x1="629.3" y1="21.2" x2="633.9" y2="21.3" stroke-width="3.3"/><line x1="633.9" y1="21.3" x2="640.0" y2="21.5" stroke-width="3.8"/><line x1="640.0" y1="21.5" x2="647.8" y2="21.8" stroke-width="4.3"/><line x1="647.8" y1="21.8" x2="657.2" y2="22.2" stroke-width="4.9"/><line x1="657.2" y1="22.2" x2="667.6" y2="22.6" stroke-width="5.6"/><line x1="667.6" y1="22.6" x2="678.6" y2="23.1" stroke-width="6.4"/><line x1="678.6" y1="23.1" x2="689.6" y2="23.6" stroke-width="7.1"/><line x1="689.6" y1="23.6" x2="700.0" y2="24.0" stroke-width="7.7"/><line x1="700.0" y1="24.0" x2="709.6" y2="24.3" stroke-width="8.2"/><line x1="709.6" y1="24.3" x2="718.6" y2="24.6" stroke-width="8.5"/><line x1="718.6" y1="24.6" x2="727.6" y2="24.9" stroke-width="8.7"/><line x1="727.6" y1="24.9" x2="737.2" y2="25.2" stroke-width="8.9"/><line x1="737.2" y1="25.2" x2="747.8" y2="25.6" stroke-width="9.0"/><line x1="747.8" y1="25.6" x2="760.0" y2="26.0" stroke-width="9.0"/><line x1="760.0" y1="26.0" x2="774.7" y2="26.5" stroke-width="9.0"/><line x1="774.7" y1="26.5" x2="791.7" y2="27.1" stroke-width="8.9"/><line x1="791.7" y1="27.1" x2="809.8" y2="27.7" stroke-width="8.7"/><line x1="809.8" y1="27.7" x2="827.7" y2="28.3" stroke-width="8.4"/><line x1="827.7" y1="28.3" x2="844.2" y2="28.9" stroke-width="8.2"/><line x1="844.2" y1="28.9" x2="858.0" y2="29.5" stroke-width="8.1"/><line x1="858.0" y1="29.5" x2="869.1" y2="30.1" stroke-width="8.0"/><line x1="869.1" y1="30.1" x2="878.5" y2="30.6" stroke-width="7.9"/><line x1="878.5" y1="30.6" x2="886.4" y2="31.2" stroke-width="7.9"/><line x1="886.4" y1="31.2" x2="893.3" y2="31.8" stroke-width="7.9"/><line x1="893.3" y1="31.8" x2="899.4" y2="32.4" stroke-width="7.9"/><line x1="899.4" y1="32.4" x2="905.0" y2="33.0" stroke-width="8.0"/><line x1="905.0" y1="33.0" x2="909.9" y2="33.7" stroke-width="8.1"/><line x1="909.9" y1="33.7" x2="913.8" y2="34.3" stroke-width="8.2"/><line x1="913.8" y1="34.3" x2="916.9" y2="35.0" stroke-width="8.4"/><line x1="916.9" y1="35.0" x2="919.4" y2="35.7" stroke-width="7.8"/><line x1="919.4" y1="35.7" x2="921.7" y2="36.6" stroke-width="6.4"/><line x1="921.7" y1="36.6" x2="924.0" y2="37.5" stroke-width="5.3"/><line x1="924.0" y1="37.5" x2="926.1" y2="38.5" stroke-width="4.5"/><line x1="926.1" y1="38.5" x2="927.8" y2="39.5" stroke-width="4.6"/><line x1="927.8" y1="39.5" x2="929.3" y2="40.6" stroke-width="5.4"/><line x1="929.3" y1="40.6" x2="930.6" y2="41.8" stroke-width="6.2"/><line x1="930.6" y1="41.8" x2="931.8" y2="43.3" stroke-width="6.8"/><line x1="931.8" y1="43.3" x2="933.0" y2="45.0" stroke-width="7.3"/><line x1="933.0" y1="45.0" x2="934.3" y2="47.0" stroke-width="7.6"/><line x1="934.3" y1="47.0" x2="935.6" y2="49.2" stroke-width="8.0"/><line x1="935.6" y1="49.2" x2="936.8" y2="51.6" stroke-width="8.4"/><line x1="936.8" y1="51.6" x2="937.8" y2="54.2" stroke-width="8.9"/><line x1="937.8" y1="54.2" x2="938.8" y2="57.0" stroke-width="9.3"/><line x1="938.8" y1="57.0" x2="939.5" y2="60.0" stroke-width="9.7"/><line x1="939.5" y1="60.0" x2="940.0" y2="63.3" stroke-width="9.9"/><line x1="940.0" y1="63.3" x2="940.3" y2="66.8" stroke-width="10.0"/><line x1="940.3" y1="66.8" x2="940.4" y2="70.5" stroke-width="10.1"/><line x1="940.4" y1="70.5" x2="940.4" y2="74.3" stroke-width="10.0"/><line x1="940.4" y1="74.3" x2="940.4" y2="78.2" stroke-width="10.0"/><line x1="940.4" y1="78.2" x2="940.5" y2="82.0" stroke-width="10.0"/><line x1="940.5" y1="82.0" x2="940.6" y2="85.9" stroke-width="10.0"/><line x1="940.6" y1="85.9" x2="940.8" y2="90.0" stroke-width="9.9"/><line x1="940.8" y1="90.0" x2="940.9" y2="94.2" stroke-width="9.9"/><line x1="940.9" y1="94.2" x2="941.0" y2="98.2" stroke-width="9.9"/><line x1="941.0" y1="98.2" x2="941.0" y2="101.8" stroke-width="9.9"/><line x1="941.0" y1="101.8" x2="941.0" y2="105.0" stroke-width="9.9"/><line x1="941.0" y1="105.0" x2="941.0" y2="107.5" stroke-width="10.1"/><line x1="941.0" y1="107.5" x2="941.0" y2="109.5" stroke-width="10.4"/><line x1="941.0" y1="109.5" x2="941.0" y2="111.2" stroke-width="10.7"/><line x1="941.0" y1="111.2" x2="940.9" y2="112.7" stroke-width="11.1"/><line x1="940.9" y1="112.7" x2="940.6" y2="114.3" stroke-width="11.3"/><line x1="940.6" y1="114.3" x2="940.0" y2="116.0" stroke-width="11.3"/><line x1="940.0" y1="116.0" x2="939.1" y2="118.0" stroke-width="11.1"/><line x1="939.1" y1="118.0" x2="938.0" y2="120.1" stroke-width="10.9"/><line x1="938.0" y1="120.1" x2="936.7" y2="122.2" stroke-width="10.6"/><line x1="936.7" y1="122.2" x2="935.3" y2="124.2" stroke-width="10.5"/><line x1="935.3" y1="124.2" x2="933.8" y2="126.1" stroke-width="10.3"/><line x1="933.8" y1="126.1" x2="932.5" y2="127.8" stroke-width="10.0"/><line x1="932.5" y1="127.8" x2="931.2" y2="129.1" stroke-width="9.4"/><line x1="931.2" y1="129.1" x2="930.0" y2="130.1" stroke-width="8.4"/><line x1="930.0" y1="130.1" x2="928.7" y2="131.0" stroke-width="7.6"/><line x1="928.7" y1="131.0" x2="927.5" y2="131.9" stroke-width="7.6"/><line x1="927.5" y1="131.9" x2="926.2" y2="132.9" stroke-width="8.3"/><line x1="926.2" y1="132.9" x2="924.8" y2="134.3" stroke-width="9.3"/><line x1="924.8" y1="134.3" x2="923.4" y2="136.1" stroke-width="10.1"/><line x1="923.4" y1="136.1" x2="922.0" y2="138.1" stroke-width="10.6"/><line x1="922.0" y1="138.1" x2="920.5" y2="140.3" stroke-width="10.8"/><line x1="920.5" y1="140.3" x2="919.0" y2="142.6" stroke-width="10.8"/><line x1="919.0" y1="142.6" x2="917.4" y2="144.9" stroke-width="10.7"/><line x1="917.4" y1="144.9" x2="915.8" y2="147.1" stroke-width="10.5"/><line x1="915.8" y1="147.1" x2="914.1" y2="149.2" stroke-width="10.2"/><line x1="914.1" y1="149.2" x2="912.4" y2="151.3" stroke-width="10.0"/><line x1="912.4" y1="151.3" x2="910.6" y2="153.4" stroke-width="9.9"/><line x1="910.6" y1="153.4" x2="908.8" y2="155.6" stroke-width="9.9"/><line x1="908.8" y1="155.6" x2="906.9" y2="157.8" stroke-width="9.8"/><line x1="906.9" y1="157.8" x2="904.9" y2="160.0" stroke-width="9.8"/><line x1="904.9" y1="160.0" x2="902.8" y2="162.4" stroke-width="9.7"/><line x1="902.8" y1="162.4" x2="900.5" y2="164.8" stroke-width="9.6"/><line x1="900.5" y1="164.8" x2="898.2" y2="167.3" stroke-width="9.6"/><line x1="898.2" y1="167.3" x2="895.9" y2="169.8" stroke-width="9.6"/><line x1="895.9" y1="169.8" x2="893.8" y2="172.2" stroke-width="9.8"/><line x1="893.8" y1="172.2" x2="892.0" y2="174.5" stroke-width="10.1"/><line x1="892.0" y1="174.5" x2="890.5" y2="176.5" stroke-width="10.4"/><line x1="890.5" y1="176.5" x2="889.2" y2="178.4" stroke-width="10.7"/><line x1="889.2" y1="178.4" x2="888.1" y2="180.2" stroke-width="11.0"/><line x1="888.1" y1="180.2" x2="887.1" y2="181.9" stroke-width="11.3"/><line x1="887.1" y1="181.9" x2="886.1" y2="183.9" stroke-width="11.5"/><line x1="886.1" y1="183.9" x2="885.0" y2="186.0" stroke-width="11.7"/><line x1="885.0" y1="186.0" x2="883.9" y2="188.4" stroke-width="11.8"/><line x1="883.9" y1="188.4" x2="882.8" y2="191.0" stroke-width="12.0"/><line x1="882.8" y1="191.0" x2="881.8" y2="193.7" stroke-width="12.1"/><line x1="881.8" y1="193.7" x2="880.7" y2="196.5" stroke-width="12.1"/><line x1="880.7" y1="196.5" x2="879.6" y2="199.3" stroke-width="12.1"/><line x1="879.6" y1="199.3" x2="878.5" y2="202.0" stroke-width="12.0"/><line x1="878.5" y1="202.0" x2="877.3" y2="204.7" stroke-width="11.8"/><line x1="877.3" y1="204.7" x2="875.9" y2="207.5" stroke-width="11.7"/><line x1="875.9" y1="207.5" x2="874.5" y2="210.2" stroke-width="11.7"/><line x1="874.5" y1="210.2" x2="873.2" y2="213.0" stroke-width="11.7"/><line x1="873.2" y1="213.0" x2="871.9" y2="215.6" stroke-width="11.7"/><line x1="871.9" y1="215.6" x2="870.8" y2="218.0" stroke-width="11.8"/><line x1="870.8" y1="218.0" x2="869.9" y2="220.1" stroke-width="11.9"/><line x1="869.9" y1="220.1" x2="869.2" y2="222.0" stroke-width="12.1"/><line x1="869.2" y1="222.0" x2="868.5" y2="223.7" stroke-width="12.2"/><line x1="868.5" y1="223.7" x2="867.9" y2="225.5" stroke-width="12.2"/><line x1="867.9" y1="225.5" x2="867.1" y2="227.5" stroke-width="12.1"/><line x1="867.1" y1="227.5" x2="866.0" y2="230.0" stroke-width="11.9"/><line x1="866.0" y1="230.0" x2="864.6" y2="232.8" stroke-width="11.7"/><line x1="864.6" y1="232.8" x2="863.1" y2="235.7" stroke-width="11.5"/><line x1="863.1" y1="235.7" x2="861.4" y2="238.9" stroke-width="11.5"/><line x1="861.4" y1="238.9" x2="859.6" y2="242.4" stroke-width="11.6"/><line x1="859.6" y1="242.4" x2="857.8" y2="246.5" stroke-width="11.9"/><line x1="857.8" y1="246.5" x2="856.0" y2="251.2" stroke-width="12.1"/><line x1="856.0" y1="251.2" x2="854.2" y2="256.7" stroke-width="12.3"/><line x1="854.2" y1="256.7" x2="852.3" y2="263.0" stroke-width="12.4"/><line x1="852.3" y1="263.0" x2="850.4" y2="269.8" stroke-width="12.5"/><line x1="850.4" y1="269.8" x2="848.5" y2="276.9" stroke-width="12.5"/><line x1="848.5" y1="276.9" x2="846.6" y2="283.9" stroke-width="12.6"/><line x1="846.6" y1="283.9" x2="844.8" y2="290.6" stroke-width="12.6"/><line x1="844.8" y1="290.6" x2="843.1" y2="297.1" stroke-width="12.6"/><line x1="843.1" y1="297.1" x2="841.4" y2="303.5" stroke-width="12.6"/><line x1="841.4" y1="303.5" x2="839.8" y2="309.9" stroke-width="12.7"/><line x1="839.8" y1="309.9" x2="838.3" y2="316.3" stroke-width="12.7"/><line x1="838.3" y1="316.3" x2="836.7" y2="322.7" stroke-width="12.7"/><line x1="836.7" y1="322.7" x2="835.2" y2="329.1" stroke-width="12.7"/><line x1="835.2" y1="329.1" x2="833.7" y2="335.6" stroke-width="12.6"/><line x1="833.7" y1="335.6" x2="832.2" y2="342.0" stroke-width="12.5"/><line x1="832.2" y1="342.0" x2="830.8" y2="348.5" stroke-width="12.3"/><line x1="830.8" y1="348.5" x2="829.3" y2="355.0" stroke-width="12.1"/><line x1="829.3" y1="355.0" x2="827.9" y2="361.5" stroke-width="11.9"/><line x1="827.9" y1="361.5" x2="826.5" y2="368.0" stroke-width="11.8"/><line x1="826.5" y1="368.0" x2="825.1" y2="374.6" stroke-width="11.7"/><line x1="825.1" y1="374.6" x2="823.6" y2="381.2" stroke-width="11.7"/><line x1="823.6" y1="381.2" x2="822.2" y2="387.9" stroke-width="11.7"/><line x1="822.2" y1="387.9" x2="820.8" y2="394.5" stroke-width="11.7"/><line x1="820.8" y1="394.5" x2="819.6" y2="400.9" stroke-width="11.8"/><line x1="819.6" y1="400.9" x2="818.5" y2="407.0" stroke-width="11.8"/><line x1="818.5" y1="407.0" x2="817.6" y2="412.3" stroke-width="11.8"/><line x1="817.6" y1="412.3" x2="816.9" y2="416.6" stroke-width="11.8"/><line x1="816.9" y1="416.6" x2="816.3" y2="420.8" stroke-width="11.9"/><line x1="816.3" y1="420.8" x2="815.7" y2="425.5" stroke-width="11.9"/><line x1="815.7" y1="425.5" x2="815.1" y2="431.5" stroke-width="11.9"/><line x1="815.1" y1="431.5" x2="814.5" y2="439.5" stroke-width="12.0"/><line x1="814.5" y1="439.5" x2="813.7" y2="449.8" stroke-width="12.0"/><line x1="813.7" y1="449.8" x2="812.9" y2="462.0" stroke-width="12.0"/><line x1="812.9" y1="462.0" x2="812.0" y2="475.4" stroke-width="12.0"/><line x1="812.0" y1="475.4" x2="811.2" y2="489.6" stroke-width="12.0"/><line x1="811.2" y1="489.6" x2="810.5" y2="503.8" stroke-width="12.0"/><line x1="810.5" y1="503.8" x2="810.0" y2="517.6" stroke-width="12.0"/><line x1="810.0" y1="517.6" x2="809.7" y2="530.9" stroke-width="12.0"/><line x1="809.7" y1="530.9" x2="809.5" y2="544.1" stroke-width="12.0"/><line x1="809.5" y1="544.1" x2="809.4" y2="557.4" stroke-width="12.0"/><line x1="809.4" y1="557.4" x2="809.4" y2="571.1" stroke-width="12.0"/><line x1="809.4" y1="571.1" x2="809.5" y2="585.2" stroke-width="12.0"/><line x1="809.5" y1="585.2" x2="809.5" y2="600.0" stroke-width="12.0"/><line x1="809.5" y1="600.0" x2="809.6" y2="616.0" stroke-width="12.0"/><line x1="809.6" y1="616.0" x2="809.7" y2="633.0" stroke-width="12.0"/><line x1="809.7" y1="633.0" x2="809.9" y2="650.6" stroke-width="12.0"/><line x1="809.9" y1="650.6" x2="810.1" y2="668.0" stroke-width="12.0"/><line x1="810.1" y1="668.0" x2="810.3" y2="684.7" stroke-width="12.0"/><line x1="810.3" y1="684.7" x2="810.5" y2="700.0" stroke-width="12.0"/><line x1="810.5" y1="700.0" x2="810.7" y2="713.7" stroke-width="12.0"/><line x1="810.7" y1="713.7" x2="810.8" y2="726.3" stroke-width="11.9"/><line x1="810.8" y1="726.3" x2="811.0" y2="738.2" stroke-width="11.8"/><line x1="811.0" y1="738.2" x2="811.2" y2="749.7" stroke-width="11.7"/><line x1="811.2" y1="749.7" x2="811.3" y2="761.1" stroke-width="11.6"/><line x1="811.3" y1="761.1" x2="811.5" y2="773.0" stroke-width="11.5"/></g>
<g fill="#0000ff" clip-path="url(#c1)"><circle cx="608.0" cy="22.0" r="5.2"/><circle cx="612.0" cy="21.8" r="4.7"/><circle cx="616.0" cy="21.4" r="2.3"/><circle cx="620.0" cy="21.3" r="1.9"/><circle cx="624.0" cy="21.2" r="2.0"/><circle cx="628.0" cy="21.2" r="2.2"/><circle cx="632.0" cy="21.3" r="2.4"/><circle cx="636.0" cy="21.4" r="2.5"/><circle cx="640.0" cy="21.5" r="2.7"/><circle cx="644.0" cy="21.6" r="2.8"/><circle cx="648.0" cy="21.8" r="3.0"/><circle cx="652.0" cy="22.0" r="3.1"/><circle cx="655.9" cy="22.1" r="3.3"/><circle cx="659.9" cy="22.3" r="3.4"/><circle cx="663.9" cy="22.5" r="3.6"/><circle cx="667.9" cy="22.7" r="3.7"/><circle cx="671.9" cy="22.8" r="3.9"/><circle cx="675.9" cy="23.0" r="4.0"/><circle cx="679.9" cy="23.2" r="4.1"/><circle cx="683.9" cy="23.3" r="4.3"/><circle cx="687.9" cy="23.5" r="4.4"/><circle cx="691.9" cy="23.7" r="4.5"/><circle cx="695.9" cy="23.8" r="4.6"/><circle cx="699.9" cy="24.0" r="4.7"/><circle cx="703.9" cy="24.1" r="4.8"/><circle cx="707.9" cy="24.3" r="4.9"/><circle cx="711.9" cy="24.4" r="4.9"/><circle cx="715.9" cy="24.6" r="5.0"/><circle cx="719.9" cy="24.7" r="5.0"/><circle cx="723.9" cy="24.8" r="5.1"/><circle cx="727.9" cy="24.9" r="5.1"/><circle cx="731.9" cy="25.1" r="5.1"/><circle cx="735.9" cy="25.2" r="5.2"/><circle cx="739.9" cy="25.3" r="5.2"/><circle cx="743.9" cy="25.5" r="5.2"/><circle cx="747.9" cy="25.6" r="5.2"/><circle cx="751.9" cy="25.7" r="5.2"/><circle cx="755.9" cy="25.9" r="5.2"/><circle cx="759.9" cy="26.0" r="5.2"/><circle cx="763.9" cy="26.1" r="5.2"/><circle cx="767.9" cy="26.3" r="5.2"/><circle cx="771.9" cy="26.4" r="5.2"/><circle cx="775.9" cy="26.5" r="5.2"/><circle cx="779.9" cy="26.7" r="5.1"/><circle cx="783.9" cy="26.8" r="5.1"/><circle cx="787.9" cy="26.9" r="5.1"/><circle cx="791.9" cy="27.1" r="5.1"/><circle cx="795.9" cy="27.2" r="5.1"/><circle cx="799.9" cy="27.3" r="5.0"/><circle cx="803.9" cy="27.5" r="5.0"/><circle cx="807.8" cy="27.6" r="5.0"/><circle cx="811.8" cy="27.7" r="5.0"/><circle cx="815.8" cy="27.9" r="4.9"/><circle cx="819.8" cy="28.0" r="4.9"/><circle cx="823.8" cy="28.1" r="4.9"/><circle cx="827.8" cy="28.3" r="4.9"/><circle cx="831.8" cy="28.4" r="4.8"/><circle cx="835.8" cy="28.6" r="4.8"/><circle cx="839.8" cy="28.7" r="4.8"/><circle cx="843.8" cy="28.9" r="4.8"/><circle cx="847.8" cy="29.1" r="4.7"/><circle cx="851.8" cy="29.2" r="4.7"/><circle cx="855.8" cy="29.4" r="4.7"/><circle cx="859.8" cy="29.6" r="4.7"/><circle cx="863.8" cy="29.8" r="4.7"/><circle cx="867.8" cy="30.0" r="4.7"/><circle cx="871.8" cy="30.2" r="4.7"/><circle cx="875.8" cy="30.5" r="4.7"/><circle cx="879.8" cy="30.7" r="4.6"/><circle cx="883.8" cy="31.0" r="4.6"/><circle cx="887.8" cy="31.3" r="4.6"/><circle cx="891.7" cy="31.6" r="4.6"/><circle cx="895.7" cy="32.0" r="4.7"/><circle cx="899.7" cy="32.4" r="4.7"/><circle cx="903.7" cy="32.8" r="4.7"/><circle cx="907.6" cy="33.4" r="4.7"/><circle cx="911.6" cy="33.9" r="4.8"/><circle cx="915.5" cy="34.7" r="4.9"/><circle cx="919.4" cy="35.7" r="4.2"/><circle cx="923.1" cy="37.1" r="3.3"/><circle cx="926.7" cy="38.9" r="2.9"/><circle cx="929.9" cy="41.2" r="3.8"/><circle cx="932.5" cy="44.3" r="4.3"/><circle cx="934.7" cy="47.7" r="4.7"/><circle cx="936.5" cy="51.2" r="5.0"/><circle cx="938.1" cy="54.9" r="5.3"/><circle cx="939.2" cy="58.7" r="5.5"/><circle cx="939.9" cy="62.7" r="5.7"/><circle cx="940.2" cy="66.6" r="5.7"/><circle cx="940.4" cy="70.6" r="5.7"/><circle cx="940.4" cy="74.6" r="5.7"/><circle cx="940.4" cy="78.6" r="5.7"/><circle cx="940.5" cy="82.6" r="5.7"/><circle cx="940.7" cy="86.6" r="5.7"/><circle cx="940.8" cy="90.6" r="5.7"/><circle cx="940.9" cy="94.6" r="5.6"/><circle cx="941.0" cy="98.6" r="5.6"/><circle cx="941.0" cy="102.6" r="5.7"/><circle cx="941.0" cy="106.6" r="5.8"/><circle cx="941.0" cy="110.6" r="6.1"/><circle cx="940.5" cy="114.6" r="6.3"/><circle cx="939.0" cy="118.3" r="6.2"/><circle cx="936.9" cy="121.7" r="6.0"/><circle cx="934.7" cy="125.0" r="5.9"/><circle cx="932.2" cy="128.1" r="5.5"/><circle cx="929.1" cy="130.7" r="4.5"/><circle cx="925.9" cy="133.1" r="5.2"/><circle cx="923.3" cy="136.2" r="5.9"/><circle cx="921.1" cy="139.4" r="6.1"/><circle cx="918.9" cy="142.8" r="6.1"/><circle cx="916.6" cy="146.1" r="5.9"/><circle cx="914.1" cy="149.2" r="5.8"/><circle cx="911.6" cy="152.3" r="5.7"/><circle cx="909.0" cy="155.3" r="5.6"/><circle cx="906.3" cy="158.4" r="5.6"/><circle cx="903.7" cy="161.4" r="5.5"/><circle cx="901.0" cy="164.3" r="5.5"/><circle cx="898.3" cy="167.3" r="5.5"/><circle cx="895.6" cy="170.2" r="5.6"/><circle cx="893.0" cy="173.3" r="5.7"/><circle cx="890.6" cy="176.4" r="6.0"/><circle cx="888.4" cy="179.8" r="6.2"/><circle cx="886.4" cy="183.2" r="6.5"/><circle cx="884.6" cy="186.8" r="6.6"/><circle cx="883.0" cy="190.5" r="6.7"/><circle cx="881.6" cy="194.2" r="6.8"/><circle cx="880.2" cy="198.0" r="6.7"/><circle cx="878.6" cy="201.7" r="6.7"/><circle cx="877.0" cy="205.3" r="6.6"/><circle cx="875.2" cy="208.9" r="6.5"/><circle cx="873.4" cy="212.5" r="6.5"/><circle cx="871.7" cy="216.1" r="6.6"/><circle cx="870.1" cy="219.7" r="6.7"/><circle cx="868.6" cy="223.5" r="6.8"/><circle cx="867.2" cy="227.2" r="6.7"/><circle cx="865.6" cy="230.9" r="6.6"/><circle cx="863.8" cy="234.4" r="6.5"/><circle cx="861.9" cy="238.0" r="6.5"/><circle cx="860.1" cy="241.5" r="6.5"/><circle cx="858.4" cy="245.1" r="6.7"/><circle cx="856.9" cy="248.9" r="6.8"/><circle cx="855.5" cy="252.6" r="6.8"/><circle cx="854.3" cy="256.4" r="6.9"/><circle cx="853.1" cy="260.2" r="6.9"/><circle cx="852.0" cy="264.1" r="6.9"/><circle cx="850.9" cy="267.9" r="7.0"/><circle cx="849.8" cy="271.8" r="7.0"/><circle cx="848.8" cy="275.6" r="7.0"/><circle cx="847.8" cy="279.5" r="7.0"/><circle cx="846.7" cy="283.4" r="7.0"/><circle cx="845.7" cy="287.2" r="7.0"/><circle cx="844.7" cy="291.1" r="7.0"/><circle cx="843.6" cy="295.0" r="7.0"/><circle cx="842.6" cy="298.8" r="7.0"/><circle cx="841.6" cy="302.7" r="7.0"/><circle cx="840.7" cy="306.6" r="7.0"/><circle cx="839.7" cy="310.5" r="7.0"/><circle cx="838.7" cy="314.4" r="7.0"/><circle cx="837.8" cy="318.2" r="7.1"/><circle cx="836.9" cy="322.1" r="7.0"/><circle cx="835.9" cy="326.0" r="7.0"/><circle cx="835.0" cy="329.9" r="7.0"/><circle cx="834.1" cy="333.8" r="7.0"/><circle cx="833.2" cy="337.7" r="6.9"/><circle cx="832.3" cy="341.6" r="6.9"/><circle cx="831.4" cy="345.5" r="6.8"/><circle cx="830.6" cy="349.4" r="6.8"/><circle cx="829.7" cy="353.3" r="6.7"/><circle cx="828.8" cy="357.2" r="6.7"/><circle cx="828.0" cy="361.1" r="6.6"/><circle cx="827.1" cy="365.0" r="6.6"/><circle cx="826.3" cy="369.0" r="6.6"/><circle cx="825.4" cy="372.9" r="6.5"/><circle cx="824.6" cy="376.8" r="6.5"/><circle cx="823.8" cy="380.7" r="6.5"/><circle cx="822.9" cy="384.6" r="6.5"/><circle cx="822.1" cy="388.5" r="6.5"/><circle cx="821.3" cy="392.4" r="6.6"/><circle cx="820.5" cy="396.3" r="6.6"/><circle cx="819.7" cy="400.3" r="6.6"/><circle cx="819.0" cy="404.2" r="6.6"/><circle cx="818.3" cy="408.1" r="6.6"/><circle cx="817.6" cy="412.1" r="6.6"/><circle cx="817.0" cy="416.0" r="6.6"/><circle cx="816.4" cy="420.0" r="6.6"/><circle cx="815.9" cy="424.0" r="6.7"/><circle cx="815.5" cy="427.9" r="6.7"/><circle cx="815.1" cy="431.9" r="6.7"/><circle cx="814.8" cy="435.9" r="6.7"/><circle cx="814.5" cy="439.9" r="6.7"/><circle cx="814.2" cy="443.9" r="6.7"/><circle cx="813.9" cy="447.9" r="6.7"/><circle cx="813.6" cy="451.9" r="6.7"/><circle cx="813.3" cy="455.9" r="6.7"/><circle cx="813.0" cy="459.8" r="6.7"/><circle cx="812.8" cy="463.8" r="6.7"/><circle cx="812.5" cy="467.8" r="6.7"/><circle cx="812.3" cy="471.8" r="6.7"/><circle cx="812.0" cy="475.8" r="6.7"/><circle cx="811.8" cy="479.8" r="6.7"/><circle cx="811.6" cy="483.8" r="6.7"/><circle cx="811.3" cy="487.8" r="6.7"/><circle cx="811.1" cy="491.8" r="6.7"/><circle cx="810.9" cy="495.8" r="6.7"/><circle cx="810.7" cy="499.8" r="6.7"/><circle cx="810.5" cy="503.8" r="6.7"/><circle cx="810.4" cy="507.8" r="6.7"/><circle cx="810.2" cy="511.8" r="6.7"/><circle cx="810.1" cy="515.8" r="6.7"/><circle cx="809.9" cy="519.8" r="6.7"/><circle cx="809.8" cy="523.8" r="6.7"/><circle cx="809.7" cy="527.8" r="6.7"/><circle cx="809.7" cy="531.8" r="6.7"/><circle cx="809.6" cy="535.8" r="6.7"/><circle cx="809.5" cy="539.8" r="6.7"/><circle cx="809.5" cy="543.8" r="6.7"/><circle cx="809.5" cy="547.8" r="6.7"/><circle cx="809.4" cy="551.8" r="6.7"/><circle cx="809.4" cy="555.8" r="6.7"/><circle cx="809.4" cy="559.8" r="6.7"/><circle cx="809.4" cy="563.8" r="6.7"/><circle cx="809.4" cy="567.8" r="6.7"/><circle cx="809.4" cy="571.8" r="6.7"/><circle cx="809.4" cy="575.8" r="6.7"/><circle cx="809.4" cy="579.8" r="6.7"/><circle cx="809.4" cy="583.8" r="6.7"/><circle cx="809.5" cy="587.8" r="6.7"/><circle cx="809.5" cy="591.8" r="6.7"/><circle cx="809.5" cy="595.8" r="6.7"/><circle cx="809.5" cy="599.8" r="6.7"/><circle cx="809.5" cy="603.8" r="6.7"/><circle cx="809.5" cy="607.8" r="6.7"/><circle cx="809.6" cy="611.8" r="6.7"/><circle cx="809.6" cy="615.8" r="6.7"/><circle cx="809.6" cy="619.8" r="6.7"/><circle cx="809.6" cy="623.8" r="6.7"/><circle cx="809.7" cy="627.8" r="6.7"/><circle cx="809.7" cy="631.8" r="6.7"/><circle cx="809.8" cy="635.8" r="6.7"/><circle cx="809.8" cy="639.8" r="6.7"/><circle cx="809.8" cy="643.8" r="6.7"/><circle cx="809.9" cy="647.8" r="6.7"/><circle cx="809.9" cy="651.8" r="6.7"/><circle cx="810.0" cy="655.8" r="6.7"/><circle cx="810.0" cy="659.8" r="6.7"/><circle cx="810.1" cy="663.8" r="6.7"/><circle cx="810.1" cy="667.8" r="6.7"/><circle cx="810.2" cy="671.8" r="6.7"/><circle cx="810.2" cy="675.8" r="6.7"/><circle cx="810.3" cy="679.8" r="6.7"/><circle cx="810.3" cy="683.8" r="6.7"/><circle cx="810.4" cy="687.8" r="6.7"/><circle cx="810.4" cy="691.8" r="6.7"/><circle cx="810.4" cy="695.8" r="6.7"/><circle cx="810.5" cy="699.7" r="6.7"/><circle cx="810.5" cy="703.7" r="6.7"/><circle cx="810.6" cy="707.7" r="6.7"/><circle cx="810.6" cy="711.7" r="6.7"/><circle cx="810.7" cy="715.7" r="6.7"/><circle cx="810.7" cy="719.7" r="6.7"/><circle cx="810.8" cy="723.7" r="6.6"/><circle cx="810.9" cy="727.7" r="6.6"/><circle cx="810.9" cy="731.7" r="6.6"/><circle cx="811.0" cy="735.7" r="6.6"/><circle cx="811.0" cy="739.7" r="6.6"/><circle cx="811.1" cy="743.7" r="6.6"/><circle cx="811.1" cy="747.7" r="6.6"/><circle cx="811.2" cy="751.7" r="6.5"/><circle cx="811.3" cy="755.7" r="6.5"/><circle cx="811.3" cy="759.7" r="6.5"/><circle cx="811.4" cy="763.7" r="6.5"/><circle cx="811.4" cy="767.7" r="6.5"/><circle cx="811.5" cy="771.7" r="6.5"/></g>
<g stroke="#ff0000" stroke-linecap="round" fill="none" clip-path="url(#c1)"><line x1="624.0" y1="23.0" x2="625.7" y2="23.3" stroke-width="6.1"/><line x1="625.7" y1="23.3" x2="627.0" y2="23.5" stroke-width="6.3"/><line x1="627.0" y1="23.5" x2="628.2" y2="23.8" stroke-width="6.5"/><line x1="628.2" y1="23.8" x2="629.9" y2="24.0" stroke-width="6.7"/><line x1="629.9" y1="24.0" x2="632.4" y2="24.3" stroke-width="6.8"/><line x1="632.4" y1="24.3" x2="636.0" y2="24.5" stroke-width="6.9"/><line x1="636.0" y1="24.5" x2="641.1" y2="24.7" stroke-width="7.0"/><line x1="641.1" y1="24.7" x2="647.3" y2="24.8" stroke-width="7.1"/><line x1="647.3" y1="24.8" x2="654.4" y2="24.9" stroke-width="7.1"/><line x1="654.4" y1="24.9" x2="661.8" y2="25.1" stroke-width="7.0"/><line x1="661.8" y1="25.1" x2="669.1" y2="25.3" stroke-width="7.0"/><line x1="669.1" y1="25.3" x2="676.0" y2="25.5" stroke-width="7.0"/><line x1="676.0" y1="25.5" x2="682.3" y2="25.8" stroke-width="7.0"/><line x1="682.3" y1="25.8" x2="688.2" y2="26.2" stroke-width="7.0"/><line x1="688.2" y1="26.2" x2="694.1" y2="26.7" stroke-width="7.0"/><line x1="694.1" y1="26.7" x2="700.2" y2="27.1" stroke-width="7.0"/><line x1="700.2" y1="27.1" x2="706.8" y2="27.6" stroke-width="7.0"/><line x1="706.8" y1="27.6" x2="714.0" y2="28.0" stroke-width="7.0"/><line x1="714.0" y1="28.0" x2="721.9" y2="28.4" stroke-width="7.0"/><line x1="721.9" y1="28.4" x2="730.2" y2="28.8" stroke-width="7.0"/><line x1="730.2" y1="28.8" x2="738.9" y2="29.2" stroke-width="7.0"/><line x1="738.9" y1="29.2" x2="748.1" y2="29.6" stroke-width="7.0"/><line x1="748.1" y1="29.6" x2="757.8" y2="30.1" stroke-width="7.0"/><line x1="757.8" y1="30.1" x2="768.0" y2="30.5" stroke-width="7.0"/><line x1="768.0" y1="30.5" x2="779.3" y2="31.0" stroke-width="7.0"/><line x1="779.3" y1="31.0" x2="791.7" y2="31.4" stroke-width="7.0"/><line x1="791.7" y1="31.4" x2="804.7" y2="31.9" stroke-width="7.0"/><line x1="804.7" y1="31.9" x2="817.4" y2="32.4" stroke-width="6.9"/><line x1="817.4" y1="32.4" x2="829.1" y2="32.9" stroke-width="6.9"/><line x1="829.1" y1="32.9" x2="839.0" y2="33.5" stroke-width="7.0"/><line x1="839.0" y1="33.5" x2="847.1" y2="34.1" stroke-width="7.1"/><line x1="847.1" y1="34.1" x2="853.9" y2="34.8" stroke-width="7.2"/><line x1="853.9" y1="34.8" x2="859.8" y2="35.5" stroke-width="7.3"/><line x1="859.8" y1="35.5" x2="864.9" y2="36.2" stroke-width="7.5"/><line x1="864.9" y1="36.2" x2="869.5" y2="36.9" stroke-width="7.7"/><line x1="869.5" y1="36.9" x2="874.0" y2="37.5" stroke-width="7.9"/><line x1="874.0" y1="37.5" x2="878.2" y2="38.1" stroke-width="8.1"/><line x1="878.2" y1="38.1" x2="881.7" y2="38.7" stroke-width="8.2"/><line x1="881.7" y1="38.7" x2="884.8" y2="39.2" stroke-width="8.4"/><line x1="884.8" y1="39.2" x2="887.6" y2="39.8" stroke-width="8.6"/><line x1="887.6" y1="39.8" x2="890.3" y2="40.4" stroke-width="8.8"/><line x1="890.3" y1="40.4" x2="893.0" y2="41.0" stroke-width="8.9"/><line x1="893.0" y1="41.0" x2="895.7" y2="41.7" stroke-width="8.9"/><line x1="895.7" y1="41.7" x2="898.2" y2="42.4" stroke-width="8.4"/><line x1="898.2" y1="42.4" x2="900.5" y2="43.2" stroke-width="7.8"/><line x1="900.5" y1="43.2" x2="902.8" y2="43.9" stroke-width="7.3"/><line x1="902.8" y1="43.9" x2="904.9" y2="44.7" stroke-width="6.9"/><line x1="904.9" y1="44.7" x2="907.0" y2="45.5" stroke-width="6.6"/><line x1="907.0" y1="45.5" x2="909.0" y2="46.3" stroke-width="6.3"/><line x1="909.0" y1="46.3" x2="910.9" y2="47.1" stroke-width="5.9"/><line x1="910.9" y1="47.1" x2="912.6" y2="47.8" stroke-width="5.4"/><line x1="912.6" y1="47.8" x2="914.3" y2="48.7" stroke-width="4.9"/><line x1="914.3" y1="48.7" x2="915.9" y2="49.5" stroke-width="4.8"/><line x1="915.9" y1="49.5" x2="917.5" y2="50.5" stroke-width="5.2"/><line x1="917.5" y1="50.5" x2="919.0" y2="51.5" stroke-width="5.5"/><line x1="919.0" y1="51.5" x2="920.5" y2="52.5" stroke-width="5.7"/><line x1="920.5" y1="52.5" x2="921.9" y2="53.6" stroke-width="6.0"/><line x1="921.9" y1="53.6" x2="923.2" y2="54.8" stroke-width="6.4"/><line x1="923.2" y1="54.8" x2="924.4" y2="56.0" stroke-width="6.9"/><line x1="924.4" y1="56.0" x2="925.5" y2="57.5" stroke-width="7.3"/><line x1="925.5" y1="57.5" x2="926.5" y2="59.1" stroke-width="7.5"/><line x1="926.5" y1="59.1" x2="927.4" y2="60.9" stroke-width="7.4"/><line x1="927.4" y1="60.9" x2="928.2" y2="62.9" stroke-width="7.2"/><line x1="928.2" y1="62.9" x2="928.9" y2="64.9" stroke-width="6.7"/><line x1="928.9" y1="64.9" x2="929.5" y2="66.9" stroke-width="6.3"/><line x1="929.5" y1="66.9" x2="930.0" y2="69.0" stroke-width="6.0"/><line x1="930.0" y1="69.0" x2="930.4" y2="71.1" stroke-width="5.8"/><line x1="930.4" y1="71.1" x2="930.7" y2="73.3" stroke-width="5.8"/><line x1="930.7" y1="73.3" x2="930.9" y2="75.6" stroke-width="5.8"/><line x1="930.9" y1="75.6" x2="931.0" y2="77.8" stroke-width="5.8"/><line x1="931.0" y1="77.8" x2="931.2" y2="80.0" stroke-width="5.9"/><line x1="931.2" y1="80.0" x2="931.5" y2="82.0" stroke-width="5.9"/><line x1="931.5" y1="82.0" x2="931.8" y2="83.9" stroke-width="5.9"/><line x1="931.8" y1="83.9" x2="932.0" y2="85.7" stroke-width="5.9"/><line x1="932.0" y1="85.7" x2="932.2" y2="87.5" stroke-width="5.9"/><line x1="932.2" y1="87.5" x2="932.6" y2="89.1" stroke-width="5.8"/><line x1="932.6" y1="89.1" x2="933.1" y2="90.7" stroke-width="5.5"/><line x1="933.1" y1="90.7" x2="934.0" y2="92.0" stroke-width="4.8"/><line x1="934.0" y1="92.0" x2="935.4" y2="93.0" stroke-width="3.7"/><line x1="935.4" y1="93.0" x2="937.2" y2="93.5" stroke-width="4.6"/><line x1="937.2" y1="93.5" x2="939.3" y2="93.9" stroke-width="6.3"/><line x1="939.3" y1="93.9" x2="941.3" y2="94.5" stroke-width="5.2"/><line x1="941.3" y1="94.5" x2="942.9" y2="95.4" stroke-width="4.3"/><line x1="942.9" y1="95.4" x2="944.0" y2="97.0" stroke-width="5.6"/><line x1="944.0" y1="97.0" x2="944.4" y2="99.4" stroke-width="6.8"/><line x1="944.4" y1="99.4" x2="944.4" y2="102.3" stroke-width="7.2"/><line x1="944.4" y1="102.3" x2="944.1" y2="105.6" stroke-width="7.3"/><line x1="944.1" y1="105.6" x2="943.5" y2="109.1" stroke-width="7.4"/><line x1="943.5" y1="109.1" x2="942.8" y2="112.6" stroke-width="7.5"/><line x1="942.8" y1="112.6" x2="942.0" y2="116.0" stroke-width="7.7"/><line x1="942.0" y1="116.0" x2="941.1" y2="119.3" stroke-width="7.9"/><line x1="941.1" y1="119.3" x2="940.1" y2="122.7" stroke-width="8.1"/><line x1="940.1" y1="122.7" x2="938.8" y2="126.1" stroke-width="8.3"/><line x1="938.8" y1="126.1" x2="937.6" y2="129.4" stroke-width="8.6"/><line x1="937.6" y1="129.4" x2="936.3" y2="132.6" stroke-width="8.8"/><line x1="936.3" y1="132.6" x2="935.0" y2="135.4" stroke-width="9.0"/><line x1="935.0" y1="135.4" x2="933.9" y2="137.7" stroke-width="9.1"/><line x1="933.9" y1="137.7" x2="932.9" y2="139.5" stroke-width="9.1"/><line x1="932.9" y1="139.5" x2="931.9" y2="141.1" stroke-width="9.0"/><line x1="931.9" y1="141.1" x2="930.7" y2="142.9" stroke-width="8.9"/><line x1="930.7" y1="142.9" x2="929.3" y2="145.0" stroke-width="9.0"/><line x1="929.3" y1="145.0" x2="927.5" y2="147.8" stroke-width="9.2"/><line x1="927.5" y1="147.8" x2="925.1" y2="151.5" stroke-width="9.3"/><line x1="925.1" y1="151.5" x2="922.3" y2="156.0" stroke-width="9.4"/><line x1="922.3" y1="156.0" x2="919.2" y2="160.8" stroke-width="9.4"/><line x1="919.2" y1="160.8" x2="916.0" y2="165.8" stroke-width="9.4"/><line x1="916.0" y1="165.8" x2="913.0" y2="170.5" stroke-width="9.3"/><line x1="913.0" y1="170.5" x2="910.4" y2="174.6" stroke-width="9.3"/><line x1="910.4" y1="174.6" x2="908.2" y2="178.1" stroke-width="9.2"/><line x1="908.2" y1="178.1" x2="906.1" y2="181.3" stroke-width="9.1"/><line x1="906.1" y1="181.3" x2="904.3" y2="184.3" stroke-width="9.0"/><line x1="904.3" y1="184.3" x2="902.5" y2="187.1" stroke-width="8.8"/><line x1="902.5" y1="187.1" x2="900.8" y2="190.0" stroke-width="8.7"/><line x1="900.8" y1="190.0" x2="899.0" y2="193.0" stroke-width="8.7"/><line x1="899.0" y1="193.0" x2="897.4" y2="195.9" stroke-width="8.7"/><line x1="897.4" y1="195.9" x2="896.1" y2="198.5" stroke-width="8.8"/><line x1="896.1" y1="198.5" x2="894.8" y2="201.2" stroke-width="8.9"/><line x1="894.8" y1="201.2" x2="893.3" y2="204.1" stroke-width="8.9"/><line x1="893.3" y1="204.1" x2="891.4" y2="207.7" stroke-width="8.8"/><line x1="891.4" y1="207.7" x2="889.0" y2="212.0" stroke-width="8.7"/><line x1="889.0" y1="212.0" x2="885.8" y2="217.4" stroke-width="8.6"/><line x1="885.8" y1="217.4" x2="881.9" y2="223.6" stroke-width="8.5"/><line x1="881.9" y1="223.6" x2="877.7" y2="230.3" stroke-width="8.5"/><line x1="877.7" y1="230.3" x2="873.4" y2="237.4" stroke-width="8.6"/><line x1="873.4" y1="237.4" x2="869.2" y2="244.4" stroke-width="8.7"/><line x1="869.2" y1="244.4" x2="865.4" y2="251.2" stroke-width="8.7"/><line x1="865.4" y1="251.2" x2="862.0" y2="257.8" stroke-width="8.8"/><line x1="862.0" y1="257.8" x2="858.6" y2="264.4" stroke-width="8.8"/><line x1="858.6" y1="264.4" x2="855.4" y2="270.9" stroke-width="8.7"/><line x1="855.4" y1="270.9" x2="852.4" y2="277.5" stroke-width="8.7"/><line x1="852.4" y1="277.5" x2="849.6" y2="284.1" stroke-width="8.6"/><line x1="849.6" y1="284.1" x2="847.0" y2="290.6" stroke-width="8.5"/><line x1="847.0" y1="290.6" x2="844.7" y2="297.1" stroke-width="8.3"/><line x1="844.7" y1="297.1" x2="842.6" y2="303.5" stroke-width="8.2"/><line x1="842.6" y1="303.5" x2="840.8" y2="309.9" stroke-width="7.9"/><line x1="840.8" y1="309.9" x2="839.1" y2="316.3" stroke-width="7.6"/><line x1="839.1" y1="316.3" x2="837.4" y2="322.7" stroke-width="7.3"/><line x1="837.4" y1="322.7" x2="835.7" y2="329.1" stroke-width="6.9"/><line x1="835.7" y1="329.1" x2="834.0" y2="335.6" stroke-width="6.6"/><line x1="834.0" y1="335.6" x2="832.4" y2="342.0" stroke-width="6.3"/><line x1="832.4" y1="342.0" x2="830.8" y2="348.5" stroke-width="6.0"/><line x1="830.8" y1="348.5" x2="829.2" y2="355.0" stroke-width="5.7"/><line x1="829.2" y1="355.0" x2="827.7" y2="361.5" stroke-width="5.3"/><line x1="827.7" y1="361.5" x2="826.0" y2="368.0" stroke-width="5.0"/><line x1="826.0" y1="368.0" x2="824.2" y2="374.1" stroke-width="4.6"/><line x1="824.2" y1="374.1" x2="822.4" y2="379.7" stroke-width="4.2"/><line x1="822.4" y1="379.7" x2="820.5" y2="385.4" stroke-width="3.9"/><line x1="820.5" y1="385.4" x2="818.6" y2="391.6" stroke-width="3.6"/><line x1="818.6" y1="391.6" x2="816.9" y2="398.8" stroke-width="3.3"/><line x1="816.9" y1="398.8" x2="815.3" y2="407.5" stroke-width="3.1"/><line x1="815.3" y1="407.5" x2="813.9" y2="418.1" stroke-width="2.9"/><line x1="813.9" y1="418.1" x2="812.5" y2="430.3" stroke-width="2.8"/><line x1="812.5" y1="430.3" x2="811.2" y2="443.5" stroke-width="2.7"/><line x1="811.2" y1="443.5" x2="810.1" y2="457.2" stroke-width="2.7"/><line x1="810.1" y1="457.2" x2="809.1" y2="470.9" stroke-width="2.6"/><line x1="809.1" y1="470.9" x2="808.2" y2="484.2" stroke-width="2.6"/><line x1="808.2" y1="484.2" x2="807.5" y2="497.1" stroke-width="2.6"/><line x1="807.5" y1="497.1" x2="806.9" y2="510.0" stroke-width="2.6"/><line x1="806.9" y1="510.0" x2="806.5" y2="523.0" stroke-width="2.6"/><line x1="806.5" y1="523.0" x2="806.2" y2="535.9" stroke-width="2.6"/><line x1="806.2" y1="535.9" x2="806.0" y2="548.9" stroke-width="2.6"/><line x1="806.0" y1="548.9" x2="805.9" y2="561.9" stroke-width="2.6"/><line x1="805.9" y1="561.9" x2="806.0" y2="574.9" stroke-width="2.6"/><line x1="806.0" y1="574.9" x2="806.3" y2="587.9" stroke-width="2.6"/><line x1="806.3" y1="587.9" x2="806.7" y2="601.0" stroke-width="2.6"/><line x1="806.7" y1="601.0" x2="807.2" y2="614.0" stroke-width="2.6"/><line x1="807.2" y1="614.0" x2="807.7" y2="627.0" stroke-width="2.6"/><line x1="807.7" y1="627.0" x2="808.0" y2="640.0" stroke-width="2.6"/><line x1="808.0" y1="640.0" x2="808.2" y2="653.3" stroke-width="2.6"/><line x1="808.2" y1="653.3" x2="808.4" y2="667.0" stroke-width="2.5"/><line x1="808.4" y1="667.0" x2="808.6" y2="680.7" stroke-width="2.4"/><line x1="808.6" y1="680.7" x2="808.7" y2="693.9" stroke-width="2.4"/><line x1="808.7" y1="693.9" x2="808.9" y2="706.1" stroke-width="2.4"/><line x1="808.9" y1="706.1" x2="809.0" y2="717.0" stroke-width="2.5"/><line x1="809.0" y1="717.0" x2="809.1" y2="726.2" stroke-width="2.8"/><line x1="809.1" y1="726.2" x2="809.2" y2="734.1" stroke-width="3.2"/><line x1="809.2" y1="734.1" x2="809.3" y2="741.1" stroke-width="3.8"/><line x1="809.3" y1="741.1" x2="809.4" y2="747.5" stroke-width="4.5"/><line x1="809.4" y1="747.5" x2="809.4" y2="753.7" stroke-width="5.1"/><line x1="809.4" y1="753.7" x2="809.5" y2="760.0" stroke-width="5.7"/><line x1="809.5" y1="760.0" x2="809.5" y2="766.5" stroke-width="6.2"/><line x1="809.5" y1="766.5" x2="809.6" y2="773.0" stroke-width="6.7"/><line x1="809.6" y1="773.0" x2="809.6" y2="779.2" stroke-width="7.2"/><line x1="809.6" y1="779.2" x2="809.6" y2="785.1" stroke-width="7.6"/><line x1="809.6" y1="785.1" x2="809.6" y2="790.4" stroke-width="8.0"/><line x1="809.6" y1="790.4" x2="809.6" y2="795.0" stroke-width="8.3"/><line x1="809.6" y1="795.0" x2="809.6" y2="798.7" stroke-width="8.5"/><line x1="809.6" y1="798.7" x2="809.6" y2="801.5" stroke-width="8.6"/><line x1="809.6" y1="801.5" x2="809.6" y2="803.8" stroke-width="8.6"/><line x1="809.6" y1="803.8" x2="809.6" y2="805.7" stroke-width="8.5"/><line x1="809.6" y1="805.7" x2="809.6" y2="807.7" stroke-width="8.5"/><line x1="809.6" y1="807.7" x2="809.6" y2="810.0" stroke-width="8.4"/></g>
<g fill="#ff0000" clip-path="url(#c1)"><circle cx="629.3" cy="22.6" r="6.1"/><circle cx="636.3" cy="24.6" r="6.1"/><circle cx="644.4" cy="25.1" r="6.1"/><circle cx="676.1" cy="26.1" r="6.1"/><circle cx="714.3" cy="28.6" r="6.1"/><circle cx="768.2" cy="30.6" r="6.1"/><circle cx="839.3" cy="35.3" r="6.1"/><circle cx="874.2" cy="41.0" r="6.1"/><circle cx="893.3" cy="43.9" r="6.1"/><circle cx="907.2" cy="47.7" r="6.1"/><circle cx="917.7" cy="52.5" r="6.1"/><circle cx="926.3" cy="61.6" r="6.1"/><circle cx="930.1" cy="67.4" r="6.1"/><circle cx="931.5" cy="81.9" r="6.1"/><circle cx="933.0" cy="90.0" r="6.1"/><circle cx="946.2" cy="96.2" r="6.1"/><circle cx="942.0" cy="116.0" r="6.1"/><circle cx="934.9" cy="135.4" r="6.1"/><circle cx="911.0" cy="174.4" r="6.1"/><circle cx="885.7" cy="212.8" r="6.1"/><circle cx="866.9" cy="251.1" r="6.1"/><circle cx="849.5" cy="290.4" r="6.1"/><circle cx="837.5" cy="329.3" r="6.1"/><circle cx="815.3" cy="407.5" r="6.1"/><circle cx="808.2" cy="484.2" r="6.1"/><circle cx="805.9" cy="561.9" r="6.1"/><circle cx="806.0" cy="640.0" r="6.1"/><circle cx="808.0" cy="717.5" r="6.1"/><circle cx="809.3" cy="795.5" r="6.1"/></g>
<polyline points="712.0,18.9 716.0,20.4 717.8,22.0 734.4,23.5 793.4,25.1 828.8,26.6 879.4,28.2 927.7,30.5 934.9,34.4 932.0,38.3 928.0,42.2 926.5,46.0 926.0,49.9 926.3,53.8 927.0,57.7 928.9,65.5 930.8,73.2 931.5,81.0 933.5,88.8 934.1,96.5 942.8,115.9 932.1,135.4 895.2,174.2 876.3,213.0 859.4,251.9 846.8,290.7 836.1,329.5 824.7,407.2 816.9,484.9 808.2,562.5 807.1,640.2 809.3,717.9 810.4,795.5" fill="none" stroke="#008000" stroke-width="2.6" stroke-linejoin="round" stroke-linecap="round" clip-path="url(#c1)" />
<g fill="#008000" clip-path="url(#c1)"><circle cx="712.0" cy="18.9" r="6.1"/><circle cx="716.0" cy="20.4" r="6.1"/><circle cx="717.8" cy="22.0" r="6.1"/><circle cx="734.4" cy="23.5" r="6.1"/><circle cx="793.4" cy="25.1" r="6.1"/><circle cx="828.8" cy="26.6" r="6.1"/><circle cx="879.4" cy="28.2" r="6.1"/><circle cx="927.7" cy="30.5" r="6.1"/><circle cx="934.9" cy="34.4" r="6.1"/><circle cx="932.0" cy="38.3" r="6.1"/><circle cx="928.0" cy="42.2" r="6.1"/><circle cx="926.5" cy="46.0" r="6.1"/><circle cx="926.0" cy="49.9" r="6.1"/><circle cx="926.3" cy="53.8" r="6.1"/><circle cx="927.0" cy="57.7" r="6.1"/><circle cx="928.9" cy="65.5" r="6.1"/><circle cx="930.8" cy="73.2" r="6.1"/><circle cx="931.5" cy="81.0" r="6.1"/><circle cx="933.5" cy="88.8" r="6.1"/><circle cx="934.1" cy="96.5" r="6.1"/><circle cx="942.8" cy="115.9" r="6.1"/><circle cx="932.1" cy="135.4" r="6.1"/><circle cx="895.2" cy="174.2" r="6.1"/><circle cx="876.3" cy="213.0" r="6.1"/><circle cx="859.4" cy="251.9" r="6.1"/><circle cx="846.8" cy="290.7" r="6.1"/><circle cx="836.1" cy="329.5" r="6.1"/><circle cx="824.7" cy="407.2" r="6.1"/><circle cx="816.9" cy="484.9" r="6.1"/><circle cx="808.2" cy="562.5" r="6.1"/><circle cx="807.1" cy="640.2" r="6.1"/><circle cx="809.3" cy="717.9" r="6.1"/><circle cx="810.4" cy="795.5" r="6.1"/></g>
<polyline points="748.0,19.2 750.0,20.2 751.0,21.1 752.0,22.0 753.5,23.0 755.1,24.3 760.0,25.3 766.2,26.3 787.6,27.4 829.2,29.3 882.3,31.5 905.3,33.3 917.7,35.1 924.8,38.8 928.5,42.0 931.5,45.9 934.2,50.5 936.1,56.0 937.9,62.3 939.0,70.3 938.8,79.7 939.4,90.5 939.4,104.2 934.2,120.4 923.7,140.0 909.5,163.3 892.3,191.5 873.1,225.4 855.4,266.2 841.5,314.3 828.1,371.2 815.3,439.3 809.4,518.2 808.2,611.2 809.3,719.2" fill="none" stroke="#ff00ff" stroke-width="2.6" stroke-linejoin="round" stroke-linecap="round" clip-path="url(#c1)" />
<g fill="#ff00ff" clip-path="url(#c1)"><circle cx="748.0" cy="19.2" r="6.1"/><circle cx="750.0" cy="20.2" r="6.1"/><circle cx="751.0" cy="21.1" r="6.1"/><circle cx="752.0" cy="22.0" r="6.1"/><circle cx="753.5" cy="23.0" r="6.1"/><circle cx="755.1" cy="24.3" r="6.1"/><circle cx="760.0" cy="25.3" r="6.1"/><circle cx="766.2" cy="26.3" r="6.1"/><circle cx="787.6" cy="27.4" r="6.1"/><circle cx="829.2" cy="29.3" r="6.1"/><circle cx="882.3" cy="31.5" r="6.1"/><circle cx="905.3" cy="33.3" r="6.1"/><circle cx="917.7" cy="35.1" r="6.1"/><circle cx="924.8" cy="38.8" r="6.1"/><circle cx="928.5" cy="42.0" r="6.1"/><circle cx="931.5" cy="45.9" r="6.1"/><circle cx="934.2" cy="50.5" r="6.1"/><circle cx="936.1" cy="56.0" r="6.1"/><circle cx="937.9" cy="62.3" r="6.1"/><circle cx="939.0" cy="70.3" r="6.1"/><circle cx="938.8" cy="79.7" r="6.1"/><circle cx="939.4" cy="90.5" r="6.1"/><circle cx="939.4" cy="104.2" r="6.1"/><circle cx="934.2" cy="120.4" r="6.1"/><circle cx="923.7" cy="140.0" r="6.1"/><circle cx="909.5" cy="163.3" r="6.1"/><circle cx="892.3" cy="191.5" r="6.1"/><circle cx="873.1" cy="225.4" r="6.1"/><circle cx="855.4" cy="266.2" r="6.1"/><circle cx="841.5" cy="314.3" r="6.1"/><circle cx="828.1" cy="371.2" r="6.1"/><circle cx="815.3" cy="439.3" r="6.1"/><circle cx="809.4" cy="518.2" r="6.1"/><circle cx="808.2" cy="611.2" r="6.1"/><circle cx="809.3" cy="719.2" r="6.1"/></g>
<g stroke="#00ffff" stroke-linecap="round" fill="none" clip-path="url(#c2)"><line x1="1093.0" y1="21.0" x2="1095.8" y2="21.2" stroke-width="7.8"/><line x1="1095.8" y1="21.2" x2="1098.6" y2="21.5" stroke-width="7.5"/><line x1="1098.6" y1="21.5" x2="1101.3" y2="21.8" stroke-width="7.1"/><line x1="1101.3" y1="21.8" x2="1104.1" y2="22.0" stroke-width="6.7"/><line x1="1104.1" y1="22.0" x2="1107.0" y2="22.2" stroke-width="6.4"/><line x1="1107.0" y1="22.2" x2="1110.0" y2="22.5" stroke-width="6.1"/><line x1="1110.0" y1="22.5" x2="1113.2" y2="22.7" stroke-width="5.9"/><line x1="1113.2" y1="22.7" x2="1116.5" y2="22.9" stroke-width="5.8"/><line x1="1116.5" y1="22.9" x2="1119.9" y2="23.2" stroke-width="5.8"/><line x1="1119.9" y1="23.2" x2="1123.4" y2="23.4" stroke-width="5.8"/><line x1="1123.4" y1="23.4" x2="1126.7" y2="23.7" stroke-width="5.9"/><line x1="1126.7" y1="23.7" x2="1130.0" y2="24.0" stroke-width="6.0"/><line x1="1130.0" y1="24.0" x2="1133.2" y2="24.4" stroke-width="6.1"/><line x1="1133.2" y1="24.4" x2="1136.3" y2="24.9" stroke-width="6.2"/><line x1="1136.3" y1="24.9" x2="1139.4" y2="25.4" stroke-width="6.3"/><line x1="1139.4" y1="25.4" x2="1142.4" y2="25.9" stroke-width="6.5"/><line x1="1142.4" y1="25.9" x2="1145.3" y2="26.5" stroke-width="6.7"/><line x1="1145.3" y1="26.5" x2="1148.0" y2="27.0" stroke-width="6.9"/><line x1="1148.0" y1="27.0" x2="1150.5" y2="27.5" stroke-width="7.1"/><line x1="1150.5" y1="27.5" x2="1152.7" y2="27.9" stroke-width="7.2"/><line x1="1152.7" y1="27.9" x2="1154.8" y2="28.4" stroke-width="7.4"/><line x1="1154.8" y1="28.4" x2="1156.9" y2="28.9" stroke-width="7.6"/><line x1="1156.9" y1="28.9" x2="1159.2" y2="29.4" stroke-width="7.8"/><line x1="1159.2" y1="29.4" x2="1162.0" y2="30.0" stroke-width="7.9"/><line x1="1162.0" y1="30.0" x2="1165.2" y2="30.6" stroke-width="8.1"/><line x1="1165.2" y1="30.6" x2="1168.7" y2="31.3" stroke-width="8.2"/><line x1="1168.7" y1="31.3" x2="1172.5" y2="32.1" stroke-width="8.4"/><line x1="1172.5" y1="32.1" x2="1176.3" y2="32.8" stroke-width="8.5"/><line x1="1176.3" y1="32.8" x2="1180.2" y2="33.6" stroke-width="8.7"/><line x1="1180.2" y1="33.6" x2="1184.0" y2="34.5" stroke-width="8.9"/><line x1="1184.0" y1="34.5" x2="1187.7" y2="35.4" stroke-width="9.1"/><line x1="1187.7" y1="35.4" x2="1191.4" y2="36.3" stroke-width="9.5"/><line x1="1191.4" y1="36.3" x2="1195.2" y2="37.2" stroke-width="9.8"/><line x1="1195.2" y1="37.2" x2="1199.0" y2="38.2" stroke-width="9.8"/><line x1="1199.0" y1="38.2" x2="1202.7" y2="39.3" stroke-width="9.4"/><line x1="1202.7" y1="39.3" x2="1206.5" y2="40.5" stroke-width="8.7"/><line x1="1206.5" y1="40.5" x2="1210.3" y2="41.9" stroke-width="8.0"/><line x1="1210.3" y1="41.9" x2="1214.1" y2="43.3" stroke-width="7.4"/><line x1="1214.1" y1="43.3" x2="1218.0" y2="44.9" stroke-width="7.0"/><line x1="1218.0" y1="44.9" x2="1221.8" y2="46.5" stroke-width="6.6"/><line x1="1221.8" y1="46.5" x2="1225.6" y2="48.2" stroke-width="6.2"/><line x1="1225.6" y1="48.2" x2="1229.4" y2="50.0" stroke-width="6.0"/><line x1="1229.4" y1="50.0" x2="1233.3" y2="51.9" stroke-width="5.7"/><line x1="1233.3" y1="51.9" x2="1237.4" y2="54.0" stroke-width="5.6"/><line x1="1237.4" y1="54.0" x2="1241.4" y2="56.1" stroke-width="5.8"/><line x1="1241.4" y1="56.1" x2="1245.3" y2="58.2" stroke-width="6.1"/><line x1="1245.3" y1="58.2" x2="1248.8" y2="60.2" stroke-width="6.4"/><line x1="1248.8" y1="60.2" x2="1251.7" y2="62.0" stroke-width="6.8"/><line x1="1251.7" y1="62.0" x2="1254.0" y2="63.5" stroke-width="7.3"/><line x1="1254.0" y1="63.5" x2="1255.7" y2="64.9" stroke-width="8.0"/><line x1="1255.7" y1="64.9" x2="1257.1" y2="66.2" stroke-width="8.7"/><line x1="1257.1" y1="66.2" x2="1258.3" y2="67.4" stroke-width="9.3"/><line x1="1258.3" y1="67.4" x2="1259.4" y2="68.6" stroke-width="9.5"/><line x1="1259.4" y1="68.6" x2="1260.7" y2="70.0" stroke-width="9.5"/><line x1="1260.7" y1="70.0" x2="1262.1" y2="71.5" stroke-width="9.5"/><line x1="1262.1" y1="71.5" x2="1263.4" y2="72.9" stroke-width="9.7"/><line x1="1263.4" y1="72.9" x2="1264.7" y2="74.5" stroke-width="9.9"/><line x1="1264.7" y1="74.5" x2="1265.9" y2="76.0" stroke-width="10.1"/><line x1="1265.9" y1="76.0" x2="1267.2" y2="77.6" stroke-width="10.3"/><line x1="1267.2" y1="77.6" x2="1268.4" y2="79.3" stroke-width="10.5"/><line x1="1268.4" y1="79.3" x2="1269.6" y2="81.0" stroke-width="10.7"/><line x1="1269.6" y1="81.0" x2="1270.7" y2="82.7" stroke-width="10.9"/><line x1="1270.7" y1="82.7" x2="1271.8" y2="84.5" stroke-width="11.0"/><line x1="1271.8" y1="84.5" x2="1272.9" y2="86.4" stroke-width="11.1"/><line x1="1272.9" y1="86.4" x2="1274.1" y2="88.3" stroke-width="11.1"/><line x1="1274.1" y1="88.3" x2="1275.3" y2="90.3" stroke-width="11.1"/><line x1="1275.3" y1="90.3" x2="1276.6" y2="92.4" stroke-width="11.0"/><line x1="1276.6" y1="92.4" x2="1278.0" y2="94.6" stroke-width="11.0"/><line x1="1278.0" y1="94.6" x2="1279.4" y2="96.8" stroke-width="11.0"/><line x1="1279.4" y1="96.8" x2="1280.8" y2="99.1" stroke-width="11.1"/><line x1="1280.8" y1="99.1" x2="1282.2" y2="101.5" stroke-width="11.1"/><line x1="1282.2" y1="101.5" x2="1283.7" y2="104.0" stroke-width="11.2"/><line x1="1283.7" y1="104.0" x2="1285.2" y2="106.5" stroke-width="11.3"/><line x1="1285.2" y1="106.5" x2="1286.7" y2="109.2" stroke-width="11.3"/><line x1="1286.7" y1="109.2" x2="1288.2" y2="111.8" stroke-width="11.4"/><line x1="1288.2" y1="111.8" x2="1289.7" y2="114.6" stroke-width="11.6"/><line x1="1289.7" y1="114.6" x2="1291.2" y2="117.5" stroke-width="11.6"/><line x1="1291.2" y1="117.5" x2="1292.7" y2="120.4" stroke-width="11.6"/><line x1="1292.7" y1="120.4" x2="1294.2" y2="123.4" stroke-width="11.5"/><line x1="1294.2" y1="123.4" x2="1295.7" y2="126.5" stroke-width="11.2"/><line x1="1295.7" y1="126.5" x2="1297.1" y2="129.7" stroke-width="10.9"/><line x1="1297.1" y1="129.7" x2="1298.6" y2="132.9" stroke-width="10.5"/><line x1="1298.6" y1="132.9" x2="1300.1" y2="136.3" stroke-width="10.1"/><line x1="1300.1" y1="136.3" x2="1301.5" y2="139.8" stroke-width="9.9"/><line x1="1301.5" y1="139.8" x2="1302.9" y2="143.4" stroke-width="9.7"/><line x1="1302.9" y1="143.4" x2="1304.3" y2="147.1" stroke-width="9.7"/><line x1="1304.3" y1="147.1" x2="1305.7" y2="151.0" stroke-width="9.7"/><line x1="1305.7" y1="151.0" x2="1307.0" y2="154.9" stroke-width="9.8"/><line x1="1307.0" y1="154.9" x2="1308.4" y2="159.0" stroke-width="9.9"/><line x1="1308.4" y1="159.0" x2="1309.8" y2="163.2" stroke-width="10.0"/><line x1="1309.8" y1="163.2" x2="1311.2" y2="167.6" stroke-width="10.0"/><line x1="1311.2" y1="167.6" x2="1312.6" y2="172.0" stroke-width="10.0"/><line x1="1312.6" y1="172.0" x2="1314.0" y2="176.6" stroke-width="10.0"/><line x1="1314.0" y1="176.6" x2="1315.4" y2="181.4" stroke-width="10.1"/><line x1="1315.4" y1="181.4" x2="1316.8" y2="186.3" stroke-width="10.1"/><line x1="1316.8" y1="186.3" x2="1318.3" y2="191.4" stroke-width="10.1"/><line x1="1318.3" y1="191.4" x2="1319.8" y2="196.7" stroke-width="10.1"/><line x1="1319.8" y1="196.7" x2="1321.3" y2="202.0" stroke-width="10.1"/><line x1="1321.3" y1="202.0" x2="1322.9" y2="207.6" stroke-width="10.1"/><line x1="1322.9" y1="207.6" x2="1324.4" y2="213.3" stroke-width="10.1"/><line x1="1324.4" y1="213.3" x2="1326.0" y2="219.3" stroke-width="10.2"/><line x1="1326.0" y1="219.3" x2="1327.5" y2="225.4" stroke-width="10.2"/><line x1="1327.5" y1="225.4" x2="1329.0" y2="231.8" stroke-width="10.2"/><line x1="1329.0" y1="231.8" x2="1330.4" y2="238.3" stroke-width="10.2"/><line x1="1330.4" y1="238.3" x2="1331.9" y2="245.1" stroke-width="10.3"/><line x1="1331.9" y1="245.1" x2="1333.4" y2="252.0" stroke-width="10.3"/><line x1="1333.4" y1="252.0" x2="1334.9" y2="259.1" stroke-width="10.3"/><line x1="1334.9" y1="259.1" x2="1336.5" y2="266.4" stroke-width="10.3"/><line x1="1336.5" y1="266.4" x2="1338.2" y2="273.8" stroke-width="10.2"/><line x1="1338.2" y1="273.8" x2="1340.0" y2="281.4" stroke-width="10.2"/><line x1="1340.0" y1="281.4" x2="1341.8" y2="289.1" stroke-width="10.2"/><line x1="1341.8" y1="289.1" x2="1343.7" y2="297.0" stroke-width="10.2"/><line x1="1343.7" y1="297.0" x2="1345.6" y2="305.2" stroke-width="10.2"/><line x1="1345.6" y1="305.2" x2="1347.5" y2="313.8" stroke-width="10.3"/><line x1="1347.5" y1="313.8" x2="1349.4" y2="322.7" stroke-width="10.3"/><line x1="1349.4" y1="322.7" x2="1351.3" y2="331.8" stroke-width="10.3"/><line x1="1351.3" y1="331.8" x2="1353.2" y2="341.3" stroke-width="10.3"/><line x1="1353.2" y1="341.3" x2="1355.2" y2="351.0" stroke-width="10.3"/><line x1="1355.2" y1="351.0" x2="1357.2" y2="361.0" stroke-width="10.3"/><line x1="1357.2" y1="361.0" x2="1359.3" y2="371.3" stroke-width="10.3"/><line x1="1359.3" y1="371.3" x2="1361.5" y2="381.9" stroke-width="10.3"/><line x1="1361.5" y1="381.9" x2="1363.8" y2="392.8" stroke-width="10.3"/><line x1="1363.8" y1="392.8" x2="1366.1" y2="404.0" stroke-width="10.3"/><line x1="1366.1" y1="404.0" x2="1368.5" y2="415.5" stroke-width="10.3"/><line x1="1368.5" y1="415.5" x2="1371.0" y2="427.3" stroke-width="10.3"/><line x1="1371.0" y1="427.3" x2="1373.5" y2="439.4" stroke-width="10.3"/><line x1="1373.5" y1="439.4" x2="1376.1" y2="451.8" stroke-width="10.3"/><line x1="1376.1" y1="451.8" x2="1378.9" y2="464.4" stroke-width="10.3"/><line x1="1378.9" y1="464.4" x2="1381.6" y2="477.3" stroke-width="10.3"/><line x1="1381.6" y1="477.3" x2="1384.5" y2="490.6" stroke-width="10.3"/><line x1="1384.5" y1="490.6" x2="1387.4" y2="504.2" stroke-width="10.3"/><line x1="1387.4" y1="504.2" x2="1390.3" y2="518.3" stroke-width="10.3"/><line x1="1390.3" y1="518.3" x2="1393.2" y2="532.8" stroke-width="10.3"/><line x1="1393.2" y1="532.8" x2="1396.2" y2="547.6" stroke-width="10.3"/><line x1="1396.2" y1="547.6" x2="1399.2" y2="562.9" stroke-width="10.3"/><line x1="1399.2" y1="562.9" x2="1402.3" y2="578.5" stroke-width="10.3"/><line x1="1402.3" y1="578.5" x2="1405.4" y2="594.5" stroke-width="10.3"/><line x1="1405.4" y1="594.5" x2="1408.6" y2="611.0" stroke-width="10.3"/><line x1="1408.6" y1="611.0" x2="1412.0" y2="628.7" stroke-width="10.3"/><line x1="1412.0" y1="628.7" x2="1415.8" y2="647.8" stroke-width="10.3"/><line x1="1415.8" y1="647.8" x2="1419.5" y2="667.3" stroke-width="10.3"/><line x1="1419.5" y1="667.3" x2="1423.2" y2="686.3" stroke-width="10.3"/><line x1="1423.2" y1="686.3" x2="1426.5" y2="703.6" stroke-width="10.3"/><line x1="1426.5" y1="703.6" x2="1429.2" y2="718.4" stroke-width="10.3"/><line x1="1429.2" y1="718.4" x2="1431.3" y2="730.1" stroke-width="10.3"/><line x1="1431.3" y1="730.1" x2="1432.9" y2="739.5" stroke-width="10.4"/><line x1="1432.9" y1="739.5" x2="1434.1" y2="747.2" stroke-width="10.4"/><line x1="1434.1" y1="747.2" x2="1435.1" y2="754.2" stroke-width="10.4"/><line x1="1435.1" y1="754.2" x2="1436.2" y2="761.2" stroke-width="10.4"/><line x1="1436.2" y1="761.2" x2="1437.4" y2="769.0" stroke-width="10.4"/></g>
<g fill="#00ffff" clip-path="url(#c2)"><circle cx="1093.0" cy="21.0" r="4.7"/><circle cx="1097.0" cy="21.4" r="4.4"/><circle cx="1101.0" cy="21.7" r="4.2"/><circle cx="1105.0" cy="22.1" r="3.9"/><circle cx="1108.9" cy="22.4" r="3.7"/><circle cx="1112.9" cy="22.7" r="3.6"/><circle cx="1116.9" cy="23.0" r="3.6"/><circle cx="1120.9" cy="23.2" r="3.6"/><circle cx="1124.9" cy="23.5" r="3.6"/><circle cx="1128.9" cy="23.9" r="3.7"/><circle cx="1132.9" cy="24.4" r="3.7"/><circle cx="1136.8" cy="25.0" r="3.8"/><circle cx="1140.7" cy="25.7" r="4.0"/><circle cx="1144.7" cy="26.4" r="4.1"/><circle cx="1148.6" cy="27.1" r="4.2"/><circle cx="1152.5" cy="27.9" r="4.4"/><circle cx="1156.4" cy="28.8" r="4.5"/><circle cx="1160.3" cy="29.6" r="4.6"/><circle cx="1164.3" cy="30.5" r="4.8"/><circle cx="1168.2" cy="31.2" r="4.8"/><circle cx="1172.1" cy="32.0" r="4.9"/><circle cx="1176.0" cy="32.8" r="5.0"/><circle cx="1179.9" cy="33.6" r="5.1"/><circle cx="1183.9" cy="34.5" r="5.2"/><circle cx="1187.7" cy="35.4" r="5.3"/><circle cx="1191.6" cy="36.3" r="5.5"/><circle cx="1195.5" cy="37.3" r="5.7"/><circle cx="1199.4" cy="38.3" r="5.5"/><circle cx="1203.2" cy="39.4" r="5.2"/><circle cx="1207.0" cy="40.7" r="4.8"/><circle cx="1210.8" cy="42.0" r="4.5"/><circle cx="1214.5" cy="43.5" r="4.3"/><circle cx="1218.2" cy="45.0" r="4.1"/><circle cx="1221.9" cy="46.6" r="3.9"/><circle cx="1225.5" cy="48.2" r="3.8"/><circle cx="1229.2" cy="49.9" r="3.6"/><circle cx="1232.8" cy="51.6" r="3.5"/><circle cx="1236.3" cy="53.4" r="3.5"/><circle cx="1239.9" cy="55.3" r="3.6"/><circle cx="1243.4" cy="57.2" r="3.7"/><circle cx="1246.9" cy="59.1" r="3.9"/><circle cx="1250.3" cy="61.2" r="4.1"/><circle cx="1253.7" cy="63.4" r="4.5"/><circle cx="1256.8" cy="65.9" r="5.2"/><circle cx="1259.6" cy="68.8" r="5.5"/><circle cx="1262.3" cy="71.7" r="5.5"/><circle cx="1264.9" cy="74.7" r="5.7"/><circle cx="1267.4" cy="77.9" r="5.9"/><circle cx="1269.7" cy="81.1" r="6.1"/><circle cx="1271.8" cy="84.5" r="6.2"/><circle cx="1273.9" cy="87.9" r="6.3"/><circle cx="1276.0" cy="91.4" r="6.2"/><circle cx="1278.1" cy="94.7" r="6.2"/><circle cx="1280.2" cy="98.1" r="6.2"/><circle cx="1282.3" cy="101.6" r="6.3"/><circle cx="1284.3" cy="105.0" r="6.3"/><circle cx="1286.3" cy="108.5" r="6.4"/><circle cx="1288.2" cy="112.0" r="6.5"/><circle cx="1290.2" cy="115.5" r="6.5"/><circle cx="1292.0" cy="119.0" r="6.5"/><circle cx="1293.8" cy="122.6" r="6.4"/><circle cx="1295.5" cy="126.2" r="6.3"/><circle cx="1297.2" cy="129.8" r="6.0"/><circle cx="1298.9" cy="133.5" r="5.8"/><circle cx="1300.4" cy="137.2" r="5.7"/><circle cx="1301.9" cy="140.9" r="5.6"/><circle cx="1303.4" cy="144.6" r="5.5"/><circle cx="1304.7" cy="148.4" r="5.6"/><circle cx="1306.1" cy="152.1" r="5.6"/><circle cx="1307.4" cy="155.9" r="5.6"/><circle cx="1308.7" cy="159.7" r="5.7"/><circle cx="1309.9" cy="163.5" r="5.7"/><circle cx="1311.1" cy="167.3" r="5.7"/><circle cx="1312.3" cy="171.1" r="5.7"/><circle cx="1313.5" cy="175.0" r="5.7"/><circle cx="1314.6" cy="178.8" r="5.7"/><circle cx="1315.8" cy="182.6" r="5.7"/><circle cx="1316.9" cy="186.5" r="5.7"/><circle cx="1318.0" cy="190.3" r="5.7"/><circle cx="1319.1" cy="194.2" r="5.7"/><circle cx="1320.2" cy="198.0" r="5.8"/><circle cx="1321.3" cy="201.9" r="5.8"/><circle cx="1322.3" cy="205.7" r="5.8"/><circle cx="1323.4" cy="209.6" r="5.8"/><circle cx="1324.4" cy="213.4" r="5.8"/><circle cx="1325.5" cy="217.3" r="5.8"/><circle cx="1326.4" cy="221.2" r="5.8"/><circle cx="1327.4" cy="225.1" r="5.8"/><circle cx="1328.3" cy="228.9" r="5.8"/><circle cx="1329.2" cy="232.8" r="5.8"/><circle cx="1330.1" cy="236.8" r="5.8"/><circle cx="1330.9" cy="240.7" r="5.8"/><circle cx="1331.8" cy="244.6" r="5.8"/><circle cx="1332.6" cy="248.5" r="5.8"/><circle cx="1333.4" cy="252.4" r="5.8"/><circle cx="1334.3" cy="256.3" r="5.8"/><circle cx="1335.1" cy="260.2" r="5.8"/><circle cx="1336.0" cy="264.1" r="5.8"/><circle cx="1336.9" cy="268.0" r="5.8"/><circle cx="1337.8" cy="271.9" r="5.8"/><circle cx="1338.7" cy="275.8" r="5.8"/><circle cx="1339.6" cy="279.7" r="5.8"/><circle cx="1340.5" cy="283.6" r="5.8"/><circle cx="1341.5" cy="287.5" r="5.8"/><circle cx="1342.4" cy="291.4" r="5.8"/><circle cx="1343.3" cy="295.3" r="5.8"/><circle cx="1344.2" cy="299.2" r="5.8"/><circle cx="1345.1" cy="303.1" r="5.8"/><circle cx="1346.0" cy="307.0" r="5.8"/><circle cx="1346.9" cy="310.9" r="5.8"/><circle cx="1347.7" cy="314.8" r="5.8"/><circle cx="1348.5" cy="318.7" r="5.8"/><circle cx="1349.4" cy="322.6" r="5.8"/><circle cx="1350.2" cy="326.5" r="5.8"/><circle cx="1351.0" cy="330.4" r="5.8"/><circle cx="1351.8" cy="334.4" r="5.8"/><circle cx="1352.6" cy="338.3" r="5.8"/><circle cx="1353.4" cy="342.2" r="5.8"/><circle cx="1354.2" cy="346.1" r="5.8"/><circle cx="1355.0" cy="350.0" r="5.8"/><circle cx="1355.8" cy="354.0" r="5.8"/><circle cx="1356.6" cy="357.9" r="5.8"/><circle cx="1357.4" cy="361.8" r="5.8"/><circle cx="1358.2" cy="365.7" r="5.8"/><circle cx="1359.0" cy="369.6" r="5.8"/><circle cx="1359.8" cy="373.6" r="5.8"/><circle cx="1360.6" cy="377.5" r="5.8"/><circle cx="1361.4" cy="381.4" r="5.8"/><circle cx="1362.2" cy="385.3" r="5.8"/><circle cx="1363.0" cy="389.2" r="5.8"/><circle cx="1363.8" cy="393.1" r="5.8"/><circle cx="1364.6" cy="397.1" r="5.8"/><circle cx="1365.5" cy="401.0" r="5.8"/><circle cx="1366.3" cy="404.9" r="5.8"/><circle cx="1367.1" cy="408.8" r="5.8"/><circle cx="1367.9" cy="412.7" r="5.8"/><circle cx="1368.7" cy="416.6" r="5.8"/><circle cx="1369.5" cy="420.6" r="5.8"/><circle cx="1370.4" cy="424.5" r="5.8"/><circle cx="1371.2" cy="428.4" r="5.8"/><circle cx="1372.0" cy="432.3" r="5.8"/><circle cx="1372.8" cy="436.2" r="5.8"/><circle cx="1373.7" cy="440.1" r="5.8"/><circle cx="1374.5" cy="444.0" r="5.8"/><circle cx="1375.3" cy="448.0" r="5.8"/><circle cx="1376.2" cy="451.9" r="5.8"/><circle cx="1377.0" cy="455.8" r="5.8"/><circle cx="1377.8" cy="459.7" r="5.8"/><circle cx="1378.7" cy="463.6" r="5.8"/><circle cx="1379.5" cy="467.5" r="5.8"/><circle cx="1380.4" cy="471.4" r="5.8"/><circle cx="1381.2" cy="475.3" r="5.8"/><circle cx="1382.1" cy="479.2" r="5.8"/><circle cx="1382.9" cy="483.1" r="5.8"/><circle cx="1383.7" cy="487.1" r="5.8"/><circle cx="1384.6" cy="491.0" r="5.8"/><circle cx="1385.4" cy="494.9" r="5.8"/><circle cx="1386.2" cy="498.8" r="5.8"/><circle cx="1387.1" cy="502.7" r="5.8"/><circle cx="1387.9" cy="506.6" r="5.8"/><circle cx="1388.7" cy="510.5" r="5.8"/><circle cx="1389.5" cy="514.5" r="5.8"/><circle cx="1390.3" cy="518.4" r="5.8"/><circle cx="1391.1" cy="522.3" r="5.8"/><circle cx="1391.9" cy="526.2" r="5.8"/><circle cx="1392.7" cy="530.1" r="5.8"/><circle cx="1393.5" cy="534.1" r="5.8"/><circle cx="1394.3" cy="538.0" r="5.8"/><circle cx="1395.1" cy="541.9" r="5.8"/><circle cx="1395.8" cy="545.8" r="5.8"/><circle cx="1396.6" cy="549.7" r="5.8"/><circle cx="1397.4" cy="553.7" r="5.9"/><circle cx="1398.2" cy="557.6" r="5.9"/><circle cx="1398.9" cy="561.5" r="5.9"/><circle cx="1399.7" cy="565.4" r="5.9"/><circle cx="1400.5" cy="569.4" r="5.9"/><circle cx="1401.3" cy="573.3" r="5.9"/><circle cx="1402.0" cy="577.2" r="5.9"/><circle cx="1402.8" cy="581.1" r="5.9"/><circle cx="1403.6" cy="585.1" r="5.9"/><circle cx="1404.3" cy="589.0" r="5.9"/><circle cx="1405.1" cy="592.9" r="5.9"/><circle cx="1405.8" cy="596.8" r="5.9"/><circle cx="1406.6" cy="600.8" r="5.9"/><circle cx="1407.4" cy="604.7" r="5.9"/><circle cx="1408.1" cy="608.6" r="5.9"/><circle cx="1408.9" cy="612.6" r="5.9"/><circle cx="1409.7" cy="616.5" r="5.9"/><circle cx="1410.4" cy="620.4" r="5.9"/><circle cx="1411.2" cy="624.3" r="5.9"/><circle cx="1412.0" cy="628.3" r="5.9"/><circle cx="1412.7" cy="632.2" r="5.9"/><circle cx="1413.5" cy="636.1" r="5.9"/><circle cx="1414.2" cy="640.0" r="5.9"/><circle cx="1415.0" cy="644.0" r="5.9"/><circle cx="1415.8" cy="647.9" r="5.9"/><circle cx="1416.5" cy="651.8" r="5.9"/><circle cx="1417.3" cy="655.7" r="5.9"/><circle cx="1418.1" cy="659.7" r="5.9"/><circle cx="1418.8" cy="663.6" r="5.9"/><circle cx="1419.6" cy="667.5" r="5.9"/><circle cx="1420.3" cy="671.5" r="5.9"/><circle cx="1421.1" cy="675.4" r="5.9"/><circle cx="1421.8" cy="679.3" r="5.9"/><circle cx="1422.6" cy="683.2" r="5.9"/><circle cx="1423.3" cy="687.2" r="5.9"/><circle cx="1424.1" cy="691.1" r="5.9"/><circle cx="1424.8" cy="695.0" r="5.9"/><circle cx="1425.6" cy="699.0" r="5.9"/><circle cx="1426.3" cy="702.9" r="5.9"/><circle cx="1427.1" cy="706.8" r="5.9"/><circle cx="1427.8" cy="710.8" r="5.9"/><circle cx="1428.5" cy="714.7" r="5.9"/><circle cx="1429.2" cy="718.6" r="5.9"/><circle cx="1429.9" cy="722.6" r="5.9"/><circle cx="1430.6" cy="726.5" r="5.9"/><circle cx="1431.3" cy="730.4" r="5.9"/><circle cx="1432.0" cy="734.4" r="5.9"/><circle cx="1432.7" cy="738.3" r="5.9"/><circle cx="1433.3" cy="742.3" r="5.9"/><circle cx="1433.9" cy="746.2" r="5.9"/><circle cx="1434.5" cy="750.2" r="5.9"/><circle cx="1435.1" cy="754.1" r="5.9"/><circle cx="1435.7" cy="758.1" r="5.9"/><circle cx="1436.3" cy="762.0" r="5.9"/><circle cx="1436.9" cy="766.0" r="5.9"/></g>
<g stroke="#0000ff" stroke-linecap="round" fill="none" clip-path="url(#c2)"><line x1="1091.8" y1="22.5" x2="1094.8" y2="22.7" stroke-width="8.7"/><line x1="1094.8" y1="22.7" x2="1097.8" y2="22.8" stroke-width="8.2"/><line x1="1097.8" y1="22.8" x2="1100.8" y2="23.0" stroke-width="7.6"/><line x1="1100.8" y1="23.0" x2="1103.8" y2="23.1" stroke-width="7.0"/><line x1="1103.8" y1="23.1" x2="1106.9" y2="23.3" stroke-width="6.6"/><line x1="1106.9" y1="23.3" x2="1110.0" y2="23.5" stroke-width="6.2"/><line x1="1110.0" y1="23.5" x2="1113.3" y2="23.7" stroke-width="5.9"/><line x1="1113.3" y1="23.7" x2="1116.6" y2="23.9" stroke-width="5.8"/><line x1="1116.6" y1="23.9" x2="1120.0" y2="24.1" stroke-width="5.7"/><line x1="1120.0" y1="24.1" x2="1123.4" y2="24.4" stroke-width="5.8"/><line x1="1123.4" y1="24.4" x2="1126.8" y2="24.7" stroke-width="5.9"/><line x1="1126.8" y1="24.7" x2="1130.0" y2="25.0" stroke-width="6.0"/><line x1="1130.0" y1="25.0" x2="1133.2" y2="25.4" stroke-width="6.1"/><line x1="1133.2" y1="25.4" x2="1136.3" y2="25.9" stroke-width="6.2"/><line x1="1136.3" y1="25.9" x2="1139.4" y2="26.4" stroke-width="6.3"/><line x1="1139.4" y1="26.4" x2="1142.4" y2="26.9" stroke-width="6.5"/><line x1="1142.4" y1="26.9" x2="1145.3" y2="27.5" stroke-width="6.7"/><line x1="1145.3" y1="27.5" x2="1148.0" y2="28.0" stroke-width="6.9"/><line x1="1148.0" y1="28.0" x2="1150.5" y2="28.5" stroke-width="7.1"/><line x1="1150.5" y1="28.5" x2="1152.7" y2="28.9" stroke-width="7.2"/><line x1="1152.7" y1="28.9" x2="1154.8" y2="29.4" stroke-width="7.4"/><line x1="1154.8" y1="29.4" x2="1156.9" y2="29.9" stroke-width="7.6"/><line x1="1156.9" y1="29.9" x2="1159.2" y2="30.4" stroke-width="7.8"/><line x1="1159.2" y1="30.4" x2="1162.0" y2="31.0" stroke-width="7.9"/><line x1="1162.0" y1="31.0" x2="1165.2" y2="31.6" stroke-width="8.1"/><line x1="1165.2" y1="31.6" x2="1168.7" y2="32.3" stroke-width="8.2"/><line x1="1168.7" y1="32.3" x2="1172.5" y2="33.1" stroke-width="8.4"/><line x1="1172.5" y1="33.1" x2="1176.4" y2="33.8" stroke-width="8.6"/><line x1="1176.4" y1="33.8" x2="1180.2" y2="34.6" stroke-width="8.8"/><line x1="1180.2" y1="34.6" x2="1184.0" y2="35.5" stroke-width="8.9"/><line x1="1184.0" y1="35.5" x2="1187.6" y2="36.4" stroke-width="9.1"/><line x1="1187.6" y1="36.4" x2="1191.3" y2="37.3" stroke-width="9.3"/><line x1="1191.3" y1="37.3" x2="1194.9" y2="38.2" stroke-width="9.3"/><line x1="1194.9" y1="38.2" x2="1198.5" y2="39.3" stroke-width="9.0"/><line x1="1198.5" y1="39.3" x2="1202.2" y2="40.3" stroke-width="8.7"/><line x1="1202.2" y1="40.3" x2="1205.9" y2="41.5" stroke-width="8.3"/><line x1="1205.9" y1="41.5" x2="1209.7" y2="42.7" stroke-width="8.0"/><line x1="1209.7" y1="42.7" x2="1213.5" y2="44.0" stroke-width="7.7"/><line x1="1213.5" y1="44.0" x2="1217.4" y2="45.4" stroke-width="7.3"/><line x1="1217.4" y1="45.4" x2="1221.3" y2="46.8" stroke-width="6.7"/><line x1="1221.3" y1="46.8" x2="1225.1" y2="48.4" stroke-width="6.1"/><line x1="1225.1" y1="48.4" x2="1228.9" y2="50.0" stroke-width="5.5"/><line x1="1228.9" y1="50.0" x2="1232.8" y2="51.8" stroke-width="4.9"/><line x1="1232.8" y1="51.8" x2="1236.8" y2="53.9" stroke-width="4.7"/><line x1="1236.8" y1="53.9" x2="1240.8" y2="56.0" stroke-width="4.9"/><line x1="1240.8" y1="56.0" x2="1244.6" y2="58.2" stroke-width="5.2"/><line x1="1244.6" y1="58.2" x2="1248.1" y2="60.2" stroke-width="5.5"/><line x1="1248.1" y1="60.2" x2="1251.0" y2="62.0" stroke-width="5.7"/><line x1="1251.0" y1="62.0" x2="1253.3" y2="63.5" stroke-width="6.1"/><line x1="1253.3" y1="63.5" x2="1255.2" y2="64.9" stroke-width="6.6"/><line x1="1255.2" y1="64.9" x2="1256.6" y2="66.2" stroke-width="7.1"/><line x1="1256.6" y1="66.2" x2="1257.9" y2="67.4" stroke-width="7.6"/><line x1="1257.9" y1="67.4" x2="1259.1" y2="68.6" stroke-width="7.8"/><line x1="1259.1" y1="68.6" x2="1260.5" y2="70.0" stroke-width="7.8"/><line x1="1260.5" y1="70.0" x2="1261.9" y2="71.5" stroke-width="7.9"/><line x1="1261.9" y1="71.5" x2="1263.3" y2="72.9" stroke-width="8.0"/><line x1="1263.3" y1="72.9" x2="1264.7" y2="74.5" stroke-width="8.2"/><line x1="1264.7" y1="74.5" x2="1266.0" y2="76.0" stroke-width="8.4"/><line x1="1266.0" y1="76.0" x2="1267.2" y2="77.6" stroke-width="8.6"/><line x1="1267.2" y1="77.6" x2="1268.5" y2="79.3" stroke-width="8.8"/><line x1="1268.5" y1="79.3" x2="1269.7" y2="81.0" stroke-width="9.0"/><line x1="1269.7" y1="81.0" x2="1270.9" y2="82.7" stroke-width="9.2"/><line x1="1270.9" y1="82.7" x2="1272.0" y2="84.5" stroke-width="9.3"/><line x1="1272.0" y1="84.5" x2="1273.1" y2="86.4" stroke-width="9.4"/><line x1="1273.1" y1="86.4" x2="1274.3" y2="88.3" stroke-width="9.4"/><line x1="1274.3" y1="88.3" x2="1275.5" y2="90.3" stroke-width="9.4"/><line x1="1275.5" y1="90.3" x2="1276.8" y2="92.4" stroke-width="9.3"/><line x1="1276.8" y1="92.4" x2="1278.2" y2="94.6" stroke-width="9.2"/><line x1="1278.2" y1="94.6" x2="1279.6" y2="96.8" stroke-width="9.1"/><line x1="1279.6" y1="96.8" x2="1281.1" y2="99.1" stroke-width="9.1"/><line x1="1281.1" y1="99.1" x2="1282.5" y2="101.5" stroke-width="9.1"/><line x1="1282.5" y1="101.5" x2="1284.0" y2="104.0" stroke-width="9.1"/><line x1="1284.0" y1="104.0" x2="1285.5" y2="106.5" stroke-width="9.0"/><line x1="1285.5" y1="106.5" x2="1287.0" y2="109.2" stroke-width="9.1"/><line x1="1287.0" y1="109.2" x2="1288.5" y2="111.8" stroke-width="9.1"/><line x1="1288.5" y1="111.8" x2="1290.1" y2="114.6" stroke-width="9.2"/><line x1="1290.1" y1="114.6" x2="1291.6" y2="117.5" stroke-width="9.3"/><line x1="1291.6" y1="117.5" x2="1293.0" y2="120.4" stroke-width="9.4"/><line x1="1293.0" y1="120.4" x2="1294.4" y2="123.4" stroke-width="9.6"/><line x1="1294.4" y1="123.4" x2="1295.6" y2="126.5" stroke-width="9.7"/><line x1="1295.6" y1="126.5" x2="1296.9" y2="129.7" stroke-width="9.8"/><line x1="1296.9" y1="129.7" x2="1298.2" y2="132.9" stroke-width="9.8"/><line x1="1298.2" y1="132.9" x2="1299.4" y2="136.3" stroke-width="9.8"/><line x1="1299.4" y1="136.3" x2="1300.8" y2="139.8" stroke-width="9.8"/><line x1="1300.8" y1="139.8" x2="1302.2" y2="143.4" stroke-width="9.8"/><line x1="1302.2" y1="143.4" x2="1303.7" y2="147.1" stroke-width="9.7"/><line x1="1303.7" y1="147.1" x2="1305.3" y2="151.0" stroke-width="9.8"/><line x1="1305.3" y1="151.0" x2="1306.8" y2="154.9" stroke-width="9.8"/><line x1="1306.8" y1="154.9" x2="1308.3" y2="159.0" stroke-width="9.8"/><line x1="1308.3" y1="159.0" x2="1309.8" y2="163.2" stroke-width="9.9"/><line x1="1309.8" y1="163.2" x2="1311.2" y2="167.6" stroke-width="10.0"/><line x1="1311.2" y1="167.6" x2="1312.6" y2="172.0" stroke-width="10.0"/><line x1="1312.6" y1="172.0" x2="1314.0" y2="176.6" stroke-width="10.0"/><line x1="1314.0" y1="176.6" x2="1315.4" y2="181.4" stroke-width="10.1"/><line x1="1315.4" y1="181.4" x2="1316.8" y2="186.3" stroke-width="10.1"/><line x1="1316.8" y1="186.3" x2="1318.3" y2="191.4" stroke-width="10.1"/><line x1="1318.3" y1="191.4" x2="1319.8" y2="196.7" stroke-width="10.1"/><line x1="1319.8" y1="196.7" x2="1321.3" y2="202.0" stroke-width="10.1"/><line x1="1321.3" y1="202.0" x2="1322.9" y2="207.6" stroke-width="10.1"/><line x1="1322.9" y1="207.6" x2="1324.4" y2="213.3" stroke-width="10.1"/><line x1="1324.4" y1="213.3" x2="1326.0" y2="219.3" stroke-width="10.2"/><line x1="1326.0" y1="219.3" x2="1327.5" y2="225.4" stroke-width="10.2"/><line x1="1327.5" y1="225.4" x2="1329.0" y2="231.8" stroke-width="10.2"/><line x1="1329.0" y1="231.8" x2="1330.4" y2="238.3" stroke-width="10.2"/><line x1="1330.4" y1="238.3" x2="1331.9" y2="245.1" stroke-width="10.3"/><line x1="1331.9" y1="245.1" x2="1333.4" y2="252.0" stroke-width="10.3"/><line x1="1333.4" y1="252.0" x2="1334.9" y2="259.1" stroke-width="10.3"/><line x1="1334.9" y1="259.1" x2="1336.5" y2="266.4" stroke-width="10.3"/><line x1="1336.5" y1="266.4" x2="1338.2" y2="273.8" stroke-width="10.2"/><line x1="1338.2" y1="273.8" x2="1340.0" y2="281.4" stroke-width="10.2"/><line x1="1340.0" y1="281.4" x2="1341.8" y2="289.1" stroke-width="10.2"/><line x1="1341.8" y1="289.1" x2="1343.7" y2="297.0" stroke-width="10.2"/><line x1="1343.7" y1="297.0" x2="1345.6" y2="305.2" stroke-width="10.2"/><line x1="1345.6" y1="305.2" x2="1347.5" y2="313.8" stroke-width="10.3"/><line x1="1347.5" y1="313.8" x2="1349.4" y2="322.7" stroke-width="10.3"/><line x1="1349.4" y1="322.7" x2="1351.3" y2="331.8" stroke-width="10.3"/><line x1="1351.3" y1="331.8" x2="1353.2" y2="341.3" stroke-width="10.3"/><line x1="1353.2" y1="341.3" x2="1355.2" y2="351.0" stroke-width="10.3"/><line x1="1355.2" y1="351.0" x2="1357.2" y2="361.0" stroke-width="10.3"/><line x1="1357.2" y1="361.0" x2="1359.3" y2="371.3" stroke-width="10.3"/><line x1="1359.3" y1="371.3" x2="1361.5" y2="381.9" stroke-width="10.3"/><line x1="1361.5" y1="381.9" x2="1363.8" y2="392.8" stroke-width="10.3"/><line x1="1363.8" y1="392.8" x2="1366.1" y2="404.0" stroke-width="10.3"/><line x1="1366.1" y1="404.0" x2="1368.5" y2="415.5" stroke-width="10.3"/><line x1="1368.5" y1="415.5" x2="1371.0" y2="427.3" stroke-width="10.3"/><line x1="1371.0" y1="427.3" x2="1373.5" y2="439.4" stroke-width="10.3"/><line x1="1373.5" y1="439.4" x2="1376.1" y2="451.8" stroke-width="10.3"/><line x1="1376.1" y1="451.8" x2="1378.9" y2="464.4" stroke-width="10.3"/><line x1="1378.9" y1="464.4" x2="1381.6" y2="477.3" stroke-width="10.3"/><line x1="1381.6" y1="477.3" x2="1384.5" y2="490.6" stroke-width="10.3"/><line x1="1384.5" y1="490.6" x2="1387.4" y2="504.2" stroke-width="10.3"/><line x1="1387.4" y1="504.2" x2="1390.3" y2="518.3" stroke-width="10.3"/><line x1="1390.3" y1="518.3" x2="1393.2" y2="532.8" stroke-width="10.3"/><line x1="1393.2" y1="532.8" x2="1396.2" y2="547.6" stroke-width="10.3"/><line x1="1396.2" y1="547.6" x2="1399.2" y2="562.9" stroke-width="10.3"/><line x1="1399.2" y1="562.9" x2="1402.3" y2="578.5" stroke-width="10.3"/><line x1="1402.3" y1="578.5" x2="1405.4" y2="594.5" stroke-width="10.3"/><line x1="1405.4" y1="594.5" x2="1408.6" y2="611.0" stroke-width="10.3"/><line x1="1408.6" y1="611.0" x2="1412.0" y2="628.7" stroke-width="10.3"/><line x1="1412.0" y1="628.7" x2="1415.8" y2="647.8" stroke-width="10.3"/><line x1="1415.8" y1="647.8" x2="1419.5" y2="667.2" stroke-width="10.3"/><line x1="1419.5" y1="667.2" x2="1423.2" y2="686.1" stroke-width="10.3"/><line x1="1423.2" y1="686.1" x2="1426.5" y2="703.5" stroke-width="10.3"/><line x1="1426.5" y1="703.5" x2="1429.2" y2="718.4" stroke-width="10.3"/><line x1="1429.2" y1="718.4" x2="1431.3" y2="730.3" stroke-width="10.3"/><line x1="1431.3" y1="730.3" x2="1432.9" y2="739.9" stroke-width="10.4"/><line x1="1432.9" y1="739.9" x2="1434.1" y2="748.0" stroke-width="10.4"/><line x1="1434.1" y1="748.0" x2="1435.1" y2="755.3" stroke-width="10.4"/><line x1="1435.1" y1="755.3" x2="1436.2" y2="762.6" stroke-width="10.4"/><line x1="1436.2" y1="762.6" x2="1437.4" y2="770.7" stroke-width="10.4"/></g>
<g fill="#0000ff" clip-path="url(#c2)"><circle cx="1091.8" cy="22.5" r="5.2"/><circle cx="1095.8" cy="22.7" r="4.8"/><circle cx="1099.8" cy="22.9" r="4.5"/><circle cx="1103.8" cy="23.1" r="4.1"/><circle cx="1107.8" cy="23.4" r="3.8"/><circle cx="1111.8" cy="23.6" r="3.6"/><circle cx="1115.8" cy="23.9" r="3.6"/><circle cx="1119.8" cy="24.1" r="3.6"/><circle cx="1123.7" cy="24.4" r="3.6"/><circle cx="1127.7" cy="24.8" r="3.7"/><circle cx="1131.7" cy="25.2" r="3.7"/><circle cx="1135.7" cy="25.8" r="3.8"/><circle cx="1139.6" cy="26.4" r="3.9"/><circle cx="1143.5" cy="27.2" r="4.1"/><circle cx="1147.5" cy="27.9" r="4.2"/><circle cx="1151.4" cy="28.7" r="4.3"/><circle cx="1155.3" cy="29.5" r="4.5"/><circle cx="1159.2" cy="30.4" r="4.6"/><circle cx="1163.1" cy="31.2" r="4.7"/><circle cx="1167.0" cy="32.0" r="4.8"/><circle cx="1171.0" cy="32.8" r="4.9"/><circle cx="1174.9" cy="33.5" r="5.0"/><circle cx="1178.8" cy="34.3" r="5.1"/><circle cx="1182.7" cy="35.2" r="5.2"/><circle cx="1186.6" cy="36.1" r="5.3"/><circle cx="1190.5" cy="37.1" r="5.4"/><circle cx="1194.4" cy="38.1" r="5.3"/><circle cx="1198.2" cy="39.2" r="5.1"/><circle cx="1202.1" cy="40.3" r="4.9"/><circle cx="1205.9" cy="41.5" r="4.8"/><circle cx="1209.7" cy="42.7" r="4.6"/><circle cx="1213.5" cy="44.0" r="4.5"/><circle cx="1217.2" cy="45.3" r="4.2"/><circle cx="1221.0" cy="46.7" r="3.9"/><circle cx="1224.7" cy="48.2" r="3.6"/><circle cx="1228.4" cy="49.8" r="3.3"/><circle cx="1232.0" cy="51.5" r="3.1"/><circle cx="1235.6" cy="53.3" r="3.1"/><circle cx="1239.1" cy="55.1" r="3.2"/><circle cx="1242.6" cy="57.1" r="3.3"/><circle cx="1246.1" cy="59.0" r="3.4"/><circle cx="1249.5" cy="61.1" r="3.6"/><circle cx="1252.9" cy="63.3" r="3.8"/><circle cx="1256.1" cy="65.7" r="4.3"/><circle cx="1259.0" cy="68.4" r="4.6"/><circle cx="1261.8" cy="71.3" r="4.7"/><circle cx="1264.5" cy="74.3" r="4.9"/><circle cx="1267.0" cy="77.3" r="5.0"/><circle cx="1269.4" cy="80.6" r="5.2"/><circle cx="1271.6" cy="83.9" r="5.4"/><circle cx="1273.7" cy="87.3" r="5.4"/><circle cx="1275.8" cy="90.7" r="5.4"/><circle cx="1277.9" cy="94.1" r="5.3"/><circle cx="1280.0" cy="97.5" r="5.2"/><circle cx="1282.1" cy="100.9" r="5.2"/><circle cx="1284.2" cy="104.3" r="5.2"/><circle cx="1286.2" cy="107.8" r="5.2"/><circle cx="1288.2" cy="111.2" r="5.3"/><circle cx="1290.1" cy="114.7" r="5.3"/><circle cx="1292.0" cy="118.3" r="5.4"/><circle cx="1293.7" cy="121.9" r="5.5"/><circle cx="1295.3" cy="125.6" r="5.5"/><circle cx="1296.8" cy="129.3" r="5.6"/><circle cx="1298.2" cy="133.0" r="5.6"/><circle cx="1299.6" cy="136.8" r="5.6"/><circle cx="1301.1" cy="140.5" r="5.6"/><circle cx="1302.6" cy="144.2" r="5.6"/><circle cx="1304.0" cy="147.9" r="5.6"/><circle cx="1305.5" cy="151.6" r="5.6"/><circle cx="1307.0" cy="155.4" r="5.6"/><circle cx="1308.4" cy="159.1" r="5.6"/><circle cx="1309.7" cy="162.9" r="5.7"/><circle cx="1311.0" cy="166.7" r="5.7"/><circle cx="1312.2" cy="170.5" r="5.7"/><circle cx="1313.3" cy="174.3" r="5.7"/><circle cx="1314.5" cy="178.2" r="5.7"/><circle cx="1315.6" cy="182.0" r="5.7"/><circle cx="1316.7" cy="185.8" r="5.7"/><circle cx="1317.8" cy="189.7" r="5.7"/><circle cx="1318.9" cy="193.5" r="5.7"/><circle cx="1320.0" cy="197.4" r="5.8"/><circle cx="1321.1" cy="201.2" r="5.8"/><circle cx="1322.2" cy="205.1" r="5.8"/><circle cx="1323.2" cy="208.9" r="5.8"/><circle cx="1324.3" cy="212.8" r="5.8"/><circle cx="1325.3" cy="216.7" r="5.8"/><circle cx="1326.3" cy="220.5" r="5.8"/><circle cx="1327.3" cy="224.4" r="5.8"/><circle cx="1328.2" cy="228.3" r="5.8"/><circle cx="1329.1" cy="232.2" r="5.8"/><circle cx="1330.0" cy="236.1" r="5.8"/><circle cx="1330.8" cy="240.0" r="5.8"/><circle cx="1331.6" cy="243.9" r="5.8"/><circle cx="1332.5" cy="247.8" r="5.8"/><circle cx="1333.3" cy="251.8" r="5.8"/><circle cx="1334.1" cy="255.7" r="5.8"/><circle cx="1335.0" cy="259.6" r="5.8"/><circle cx="1335.9" cy="263.5" r="5.8"/><circle cx="1336.7" cy="267.4" r="5.8"/><circle cx="1337.6" cy="271.3" r="5.8"/><circle cx="1338.5" cy="275.2" r="5.8"/><circle cx="1339.5" cy="279.1" r="5.8"/><circle cx="1340.4" cy="283.0" r="5.8"/><circle cx="1341.3" cy="286.9" r="5.8"/><circle cx="1342.2" cy="290.7" r="5.8"/><circle cx="1343.1" cy="294.6" r="5.8"/><circle cx="1344.1" cy="298.5" r="5.8"/><circle cx="1344.9" cy="302.4" r="5.8"/><circle cx="1345.8" cy="306.3" r="5.8"/><circle cx="1346.7" cy="310.2" r="5.8"/><circle cx="1347.6" cy="314.1" r="5.8"/><circle cx="1348.4" cy="318.1" r="5.8"/><circle cx="1349.2" cy="322.0" r="5.8"/><circle cx="1350.1" cy="325.9" r="5.8"/><circle cx="1350.9" cy="329.8" r="5.8"/><circle cx="1351.7" cy="333.7" r="5.8"/><circle cx="1352.5" cy="337.6" r="5.8"/><circle cx="1353.3" cy="341.6" r="5.8"/><circle cx="1354.1" cy="345.5" r="5.8"/><circle cx="1354.8" cy="349.4" r="5.8"/><circle cx="1355.6" cy="353.3" r="5.8"/><circle cx="1356.4" cy="357.2" r="5.8"/><circle cx="1357.2" cy="361.2" r="5.8"/><circle cx="1358.0" cy="365.1" r="5.8"/><circle cx="1358.8" cy="369.0" r="5.8"/><circle cx="1359.6" cy="372.9" r="5.8"/><circle cx="1360.4" cy="376.8" r="5.8"/><circle cx="1361.3" cy="380.8" r="5.8"/><circle cx="1362.1" cy="384.7" r="5.8"/><circle cx="1362.9" cy="388.6" r="5.8"/><circle cx="1363.7" cy="392.5" r="5.8"/><circle cx="1364.5" cy="396.4" r="5.8"/><circle cx="1365.3" cy="400.3" r="5.8"/><circle cx="1366.1" cy="404.2" r="5.8"/><circle cx="1367.0" cy="408.2" r="5.8"/><circle cx="1367.8" cy="412.1" r="5.8"/><circle cx="1368.6" cy="416.0" r="5.8"/><circle cx="1369.4" cy="419.9" r="5.8"/><circle cx="1370.2" cy="423.8" r="5.8"/><circle cx="1371.0" cy="427.7" r="5.8"/><circle cx="1371.9" cy="431.7" r="5.8"/><circle cx="1372.7" cy="435.6" r="5.8"/><circle cx="1373.5" cy="439.5" r="5.8"/><circle cx="1374.4" cy="443.4" r="5.8"/><circle cx="1375.2" cy="447.3" r="5.8"/><circle cx="1376.0" cy="451.2" r="5.8"/><circle cx="1376.9" cy="455.1" r="5.8"/><circle cx="1377.7" cy="459.0" r="5.8"/><circle cx="1378.5" cy="463.0" r="5.8"/><circle cx="1379.4" cy="466.9" r="5.8"/><circle cx="1380.2" cy="470.8" r="5.8"/><circle cx="1381.1" cy="474.7" r="5.8"/><circle cx="1381.9" cy="478.6" r="5.8"/><circle cx="1382.8" cy="482.5" r="5.8"/><circle cx="1383.6" cy="486.4" r="5.8"/><circle cx="1384.4" cy="490.3" r="5.8"/><circle cx="1385.3" cy="494.2" r="5.8"/><circle cx="1386.1" cy="498.2" r="5.8"/><circle cx="1386.9" cy="502.1" r="5.8"/><circle cx="1387.7" cy="506.0" r="5.8"/><circle cx="1388.6" cy="509.9" r="5.8"/><circle cx="1389.4" cy="513.8" r="5.8"/><circle cx="1390.2" cy="517.7" r="5.8"/><circle cx="1391.0" cy="521.6" r="5.8"/><circle cx="1391.8" cy="525.6" r="5.8"/><circle cx="1392.6" cy="529.5" r="5.8"/><circle cx="1393.4" cy="533.4" r="5.8"/><circle cx="1394.1" cy="537.3" r="5.8"/><circle cx="1394.9" cy="541.3" r="5.8"/><circle cx="1395.7" cy="545.2" r="5.8"/><circle cx="1396.5" cy="549.1" r="5.8"/><circle cx="1397.3" cy="553.0" r="5.9"/><circle cx="1398.0" cy="556.9" r="5.9"/><circle cx="1398.8" cy="560.9" r="5.9"/><circle cx="1399.6" cy="564.8" r="5.9"/><circle cx="1400.4" cy="568.7" r="5.9"/><circle cx="1401.1" cy="572.6" r="5.9"/><circle cx="1401.9" cy="576.6" r="5.9"/><circle cx="1402.7" cy="580.5" r="5.9"/><circle cx="1403.4" cy="584.4" r="5.9"/><circle cx="1404.2" cy="588.4" r="5.9"/><circle cx="1405.0" cy="592.3" r="5.9"/><circle cx="1405.7" cy="596.2" r="5.9"/><circle cx="1406.5" cy="600.1" r="5.9"/><circle cx="1407.3" cy="604.1" r="5.9"/><circle cx="1408.0" cy="608.0" r="5.9"/><circle cx="1408.8" cy="611.9" r="5.9"/><circle cx="1409.5" cy="615.8" r="5.9"/><circle cx="1410.3" cy="619.8" r="5.9"/><circle cx="1411.1" cy="623.7" r="5.9"/><circle cx="1411.8" cy="627.6" r="5.9"/><circle cx="1412.6" cy="631.5" r="5.9"/><circle cx="1413.4" cy="635.5" r="5.9"/><circle cx="1414.1" cy="639.4" r="5.9"/><circle cx="1414.9" cy="643.3" r="5.9"/><circle cx="1415.7" cy="647.2" r="5.9"/><circle cx="1416.4" cy="651.2" r="5.9"/><circle cx="1417.2" cy="655.1" r="5.9"/><circle cx="1417.9" cy="659.0" r="5.9"/><circle cx="1418.7" cy="663.0" r="5.9"/><circle cx="1419.5" cy="666.9" r="5.9"/><circle cx="1420.2" cy="670.8" r="5.9"/><circle cx="1421.0" cy="674.7" r="5.9"/><circle cx="1421.7" cy="678.7" r="5.9"/><circle cx="1422.5" cy="682.6" r="5.9"/><circle cx="1423.2" cy="686.5" r="5.9"/><circle cx="1424.0" cy="690.5" r="5.9"/><circle cx="1424.7" cy="694.4" r="5.9"/><circle cx="1425.5" cy="698.3" r="5.9"/><circle cx="1426.2" cy="702.2" r="5.9"/><circle cx="1426.9" cy="706.2" r="5.9"/><circle cx="1427.7" cy="710.1" r="5.9"/><circle cx="1428.4" cy="714.0" r="5.9"/><circle cx="1429.1" cy="718.0" r="5.9"/><circle cx="1429.8" cy="721.9" r="5.9"/><circle cx="1430.5" cy="725.9" r="5.9"/><circle cx="1431.2" cy="729.8" r="5.9"/><circle cx="1431.8" cy="733.7" r="5.9"/><circle cx="1432.5" cy="737.7" r="5.9"/><circle cx="1433.1" cy="741.6" r="5.9"/><circle cx="1433.7" cy="745.6" r="5.9"/><circle cx="1434.3" cy="749.6" r="5.9"/><circle cx="1434.9" cy="753.5" r="5.9"/><circle cx="1435.4" cy="757.5" r="5.9"/><circle cx="1436.0" cy="761.4" r="5.9"/><circle cx="1436.6" cy="765.4" r="5.9"/><circle cx="1437.2" cy="769.3" r="5.9"/></g>
<g stroke="#ff0000" stroke-linecap="round" fill="none" clip-path="url(#c2)"><line x1="1100.0" y1="19.0" x2="1100.8" y2="20.1" stroke-width="2.9"/><line x1="1100.8" y1="20.1" x2="1101.5" y2="21.3" stroke-width="3.0"/><line x1="1101.5" y1="21.3" x2="1102.2" y2="22.4" stroke-width="3.0"/><line x1="1102.2" y1="22.4" x2="1103.0" y2="23.5" stroke-width="2.8"/><line x1="1103.0" y1="23.5" x2="1103.9" y2="24.5" stroke-width="2.5"/><line x1="1103.9" y1="24.5" x2="1105.0" y2="25.3" stroke-width="2.0"/><line x1="1105.0" y1="25.3" x2="1106.3" y2="25.9" stroke-width="2.2"/><line x1="1106.3" y1="25.9" x2="1107.9" y2="26.3" stroke-width="3.1"/><line x1="1107.9" y1="26.3" x2="1109.5" y2="26.6" stroke-width="3.5"/><line x1="1109.5" y1="26.6" x2="1111.3" y2="26.8" stroke-width="3.5"/><line x1="1111.3" y1="26.8" x2="1113.0" y2="27.1" stroke-width="3.5"/><line x1="1113.0" y1="27.1" x2="1114.8" y2="27.4" stroke-width="3.5"/><line x1="1114.8" y1="27.4" x2="1116.5" y2="27.8" stroke-width="3.4"/><line x1="1116.5" y1="27.8" x2="1118.1" y2="28.3" stroke-width="3.2"/><line x1="1118.1" y1="28.3" x2="1119.8" y2="28.8" stroke-width="3.2"/><line x1="1119.8" y1="28.8" x2="1121.6" y2="29.3" stroke-width="3.4"/><line x1="1121.6" y1="29.3" x2="1123.6" y2="29.8" stroke-width="3.5"/><line x1="1123.6" y1="29.8" x2="1125.9" y2="30.2" stroke-width="3.5"/><line x1="1125.9" y1="30.2" x2="1128.4" y2="30.6" stroke-width="3.5"/><line x1="1128.4" y1="30.6" x2="1131.0" y2="30.9" stroke-width="3.5"/><line x1="1131.0" y1="30.9" x2="1133.8" y2="31.3" stroke-width="3.5"/><line x1="1133.8" y1="31.3" x2="1136.9" y2="31.6" stroke-width="3.5"/><line x1="1136.9" y1="31.6" x2="1140.3" y2="31.9" stroke-width="3.5"/><line x1="1140.3" y1="31.9" x2="1144.0" y2="32.3" stroke-width="3.5"/><line x1="1144.0" y1="32.3" x2="1148.4" y2="32.7" stroke-width="3.5"/><line x1="1148.4" y1="32.7" x2="1153.4" y2="33.1" stroke-width="3.5"/><line x1="1153.4" y1="33.1" x2="1158.8" y2="33.5" stroke-width="3.5"/><line x1="1158.8" y1="33.5" x2="1164.1" y2="34.0" stroke-width="3.5"/><line x1="1164.1" y1="34.0" x2="1169.0" y2="34.5" stroke-width="3.5"/><line x1="1169.0" y1="34.5" x2="1173.2" y2="35.0" stroke-width="3.5"/><line x1="1173.2" y1="35.0" x2="1176.5" y2="35.6" stroke-width="3.5"/><line x1="1176.5" y1="35.6" x2="1179.3" y2="36.3" stroke-width="3.4"/><line x1="1179.3" y1="36.3" x2="1181.6" y2="37.0" stroke-width="3.1"/><line x1="1181.6" y1="37.0" x2="1183.8" y2="37.7" stroke-width="2.8"/><line x1="1183.8" y1="37.7" x2="1186.0" y2="38.5" stroke-width="2.8"/><line x1="1186.0" y1="38.5" x2="1188.5" y2="39.2" stroke-width="3.1"/><line x1="1188.5" y1="39.2" x2="1191.2" y2="39.9" stroke-width="3.4"/><line x1="1191.2" y1="39.9" x2="1194.1" y2="40.6" stroke-width="3.5"/><line x1="1194.1" y1="40.6" x2="1196.9" y2="41.3" stroke-width="3.5"/><line x1="1196.9" y1="41.3" x2="1199.8" y2="42.0" stroke-width="3.5"/><line x1="1199.8" y1="42.0" x2="1202.6" y2="42.7" stroke-width="3.5"/><line x1="1202.6" y1="42.7" x2="1205.2" y2="43.4" stroke-width="3.5"/><line x1="1205.2" y1="43.4" x2="1207.7" y2="44.1" stroke-width="3.5"/><line x1="1207.7" y1="44.1" x2="1210.0" y2="44.6" stroke-width="3.5"/><line x1="1210.0" y1="44.6" x2="1212.3" y2="45.2" stroke-width="3.4"/><line x1="1212.3" y1="45.2" x2="1214.5" y2="45.9" stroke-width="3.1"/><line x1="1214.5" y1="45.9" x2="1216.8" y2="46.7" stroke-width="2.7"/><line x1="1216.8" y1="46.7" x2="1219.2" y2="47.6" stroke-width="2.2"/><line x1="1219.2" y1="47.6" x2="1221.7" y2="48.7" stroke-width="1.9"/><line x1="1221.7" y1="48.7" x2="1224.3" y2="50.0" stroke-width="1.7"/><line x1="1224.3" y1="50.0" x2="1226.9" y2="51.4" stroke-width="1.6"/><line x1="1226.9" y1="51.4" x2="1229.5" y2="52.8" stroke-width="1.7"/><line x1="1229.5" y1="52.8" x2="1232.2" y2="54.4" stroke-width="1.7"/><line x1="1232.2" y1="54.4" x2="1235.0" y2="56.0" stroke-width="1.8"/><line x1="1235.0" y1="56.0" x2="1238.0" y2="57.7" stroke-width="1.8"/><line x1="1238.0" y1="57.7" x2="1241.2" y2="59.7" stroke-width="1.8"/><line x1="1241.2" y1="59.7" x2="1244.5" y2="61.6" stroke-width="1.8"/><line x1="1244.5" y1="61.6" x2="1247.6" y2="63.6" stroke-width="1.9"/><line x1="1247.6" y1="63.6" x2="1250.4" y2="65.5" stroke-width="1.9"/><line x1="1250.4" y1="65.5" x2="1252.8" y2="67.1" stroke-width="2.0"/><line x1="1252.8" y1="67.1" x2="1254.6" y2="68.4" stroke-width="2.1"/><line x1="1254.6" y1="68.4" x2="1255.9" y2="69.5" stroke-width="2.3"/><line x1="1255.9" y1="69.5" x2="1256.8" y2="70.5" stroke-width="2.4"/><line x1="1256.8" y1="70.5" x2="1257.7" y2="71.5" stroke-width="2.6"/><line x1="1257.7" y1="71.5" x2="1258.6" y2="72.6" stroke-width="2.7"/><line x1="1258.6" y1="72.6" x2="1259.7" y2="74.0" stroke-width="2.8"/><line x1="1259.7" y1="74.0" x2="1261.0" y2="75.7" stroke-width="2.8"/><line x1="1261.0" y1="75.7" x2="1262.4" y2="77.6" stroke-width="2.8"/><line x1="1262.4" y1="77.6" x2="1263.8" y2="79.6" stroke-width="2.9"/><line x1="1263.8" y1="79.6" x2="1265.2" y2="81.7" stroke-width="2.9"/><line x1="1265.2" y1="81.7" x2="1266.6" y2="83.9" stroke-width="2.9"/><line x1="1266.6" y1="83.9" x2="1268.0" y2="86.0" stroke-width="2.9"/><line x1="1268.0" y1="86.0" x2="1269.4" y2="88.1" stroke-width="2.9"/><line x1="1269.4" y1="88.1" x2="1270.7" y2="90.1" stroke-width="2.9"/><line x1="1270.7" y1="90.1" x2="1272.0" y2="92.2" stroke-width="3.0"/><line x1="1272.0" y1="92.2" x2="1273.3" y2="94.3" stroke-width="3.0"/><line x1="1273.3" y1="94.3" x2="1274.7" y2="96.6" stroke-width="3.0"/><line x1="1274.7" y1="96.6" x2="1276.0" y2="99.0" stroke-width="3.1"/><line x1="1276.0" y1="99.0" x2="1277.3" y2="101.6" stroke-width="3.1"/><line x1="1277.3" y1="101.6" x2="1278.5" y2="104.3" stroke-width="3.2"/><line x1="1278.5" y1="104.3" x2="1279.7" y2="107.1" stroke-width="3.2"/><line x1="1279.7" y1="107.1" x2="1281.0" y2="110.0" stroke-width="3.2"/><line x1="1281.0" y1="110.0" x2="1282.4" y2="112.9" stroke-width="3.2"/><line x1="1282.4" y1="112.9" x2="1284.0" y2="116.0" stroke-width="3.1"/><line x1="1284.0" y1="116.0" x2="1285.9" y2="118.9" stroke-width="2.9"/><line x1="1285.9" y1="118.9" x2="1288.1" y2="121.8" stroke-width="2.8"/><line x1="1288.1" y1="121.8" x2="1290.4" y2="124.6" stroke-width="2.8"/><line x1="1290.4" y1="124.6" x2="1292.8" y2="127.8" stroke-width="2.8"/><line x1="1292.8" y1="127.8" x2="1295.0" y2="131.6" stroke-width="3.0"/><line x1="1295.0" y1="131.6" x2="1297.0" y2="136.0" stroke-width="3.2"/><line x1="1297.0" y1="136.0" x2="1298.7" y2="141.4" stroke-width="3.3"/><line x1="1298.7" y1="141.4" x2="1300.2" y2="147.5" stroke-width="3.4"/><line x1="1300.2" y1="147.5" x2="1301.6" y2="154.1" stroke-width="3.4"/><line x1="1301.6" y1="154.1" x2="1303.0" y2="161.1" stroke-width="3.4"/><line x1="1303.0" y1="161.1" x2="1304.6" y2="168.0" stroke-width="3.4"/><line x1="1304.6" y1="168.0" x2="1306.3" y2="174.6" stroke-width="3.4"/><line x1="1306.3" y1="174.6" x2="1308.3" y2="181.0" stroke-width="3.3"/><line x1="1308.3" y1="181.0" x2="1310.5" y2="187.4" stroke-width="3.3"/><line x1="1310.5" y1="187.4" x2="1312.8" y2="193.8" stroke-width="3.3"/><line x1="1312.8" y1="193.8" x2="1315.2" y2="200.2" stroke-width="3.3"/><line x1="1315.2" y1="200.2" x2="1317.4" y2="206.6" stroke-width="3.3"/><line x1="1317.4" y1="206.6" x2="1319.5" y2="213.0" stroke-width="3.3"/><line x1="1319.5" y1="213.0" x2="1321.4" y2="219.4" stroke-width="3.4"/><line x1="1321.4" y1="219.4" x2="1323.2" y2="225.9" stroke-width="3.4"/><line x1="1323.2" y1="225.9" x2="1325.0" y2="232.4" stroke-width="3.4"/><line x1="1325.0" y1="232.4" x2="1326.6" y2="238.8" stroke-width="3.4"/><line x1="1326.6" y1="238.8" x2="1328.3" y2="245.3" stroke-width="3.4"/><line x1="1328.3" y1="245.3" x2="1330.0" y2="251.7" stroke-width="3.4"/><line x1="1330.0" y1="251.7" x2="1331.7" y2="258.1" stroke-width="3.4"/><line x1="1331.7" y1="258.1" x2="1333.4" y2="264.5" stroke-width="3.4"/><line x1="1333.4" y1="264.5" x2="1335.1" y2="270.8" stroke-width="3.4"/><line x1="1335.1" y1="270.8" x2="1336.8" y2="277.2" stroke-width="3.4"/><line x1="1336.8" y1="277.2" x2="1338.4" y2="283.6" stroke-width="3.4"/><line x1="1338.4" y1="283.6" x2="1340.0" y2="290.0" stroke-width="3.4"/><line x1="1340.0" y1="290.0" x2="1341.4" y2="296.0" stroke-width="3.4"/><line x1="1341.4" y1="296.0" x2="1342.7" y2="301.5" stroke-width="3.4"/><line x1="1342.7" y1="301.5" x2="1343.9" y2="307.0" stroke-width="3.4"/><line x1="1343.9" y1="307.0" x2="1345.2" y2="313.0" stroke-width="3.4"/><line x1="1345.2" y1="313.0" x2="1346.7" y2="320.2" stroke-width="3.4"/><line x1="1346.7" y1="320.2" x2="1348.5" y2="329.0" stroke-width="3.4"/><line x1="1348.5" y1="329.0" x2="1350.7" y2="339.8" stroke-width="3.4"/><line x1="1350.7" y1="339.8" x2="1353.3" y2="352.3" stroke-width="3.4"/><line x1="1353.3" y1="352.3" x2="1356.0" y2="365.9" stroke-width="3.4"/><line x1="1356.0" y1="365.9" x2="1358.9" y2="380.0" stroke-width="3.4"/><line x1="1358.9" y1="380.0" x2="1361.7" y2="394.1" stroke-width="3.4"/><line x1="1361.7" y1="394.1" x2="1364.5" y2="407.5" stroke-width="3.4"/><line x1="1364.5" y1="407.5" x2="1367.2" y2="420.3" stroke-width="3.4"/><line x1="1367.2" y1="420.3" x2="1369.8" y2="433.1" stroke-width="3.4"/><line x1="1369.8" y1="433.1" x2="1372.5" y2="445.8" stroke-width="3.4"/><line x1="1372.5" y1="445.8" x2="1375.2" y2="458.5" stroke-width="3.4"/><line x1="1375.2" y1="458.5" x2="1377.8" y2="471.2" stroke-width="3.4"/><line x1="1377.8" y1="471.2" x2="1380.5" y2="484.0" stroke-width="3.4"/><line x1="1380.5" y1="484.0" x2="1383.2" y2="496.9" stroke-width="3.4"/><line x1="1383.2" y1="496.9" x2="1385.9" y2="509.9" stroke-width="3.4"/><line x1="1385.9" y1="509.9" x2="1388.6" y2="522.9" stroke-width="3.4"/><line x1="1388.6" y1="522.9" x2="1391.2" y2="536.0" stroke-width="3.4"/><line x1="1391.2" y1="536.0" x2="1393.9" y2="549.0" stroke-width="3.4"/><line x1="1393.9" y1="549.0" x2="1396.5" y2="562.0" stroke-width="3.4"/><line x1="1396.5" y1="562.0" x2="1399.1" y2="575.0" stroke-width="3.4"/><line x1="1399.1" y1="575.0" x2="1401.6" y2="587.9" stroke-width="3.4"/><line x1="1401.6" y1="587.9" x2="1404.1" y2="600.9" stroke-width="3.4"/><line x1="1404.1" y1="600.9" x2="1406.5" y2="613.8" stroke-width="3.4"/><line x1="1406.5" y1="613.8" x2="1409.0" y2="626.8" stroke-width="3.4"/><line x1="1409.0" y1="626.8" x2="1411.5" y2="639.7" stroke-width="3.4"/><line x1="1411.5" y1="639.7" x2="1414.0" y2="652.6" stroke-width="3.4"/><line x1="1414.0" y1="652.6" x2="1416.6" y2="665.5" stroke-width="3.5"/><line x1="1416.6" y1="665.5" x2="1419.1" y2="678.3" stroke-width="3.5"/><line x1="1419.1" y1="678.3" x2="1421.6" y2="691.2" stroke-width="3.5"/><line x1="1421.6" y1="691.2" x2="1424.1" y2="704.1" stroke-width="3.6"/><line x1="1424.1" y1="704.1" x2="1426.5" y2="717.0" stroke-width="3.8"/><line x1="1426.5" y1="717.0" x2="1429.0" y2="730.7" stroke-width="4.0"/><line x1="1429.0" y1="730.7" x2="1431.6" y2="745.3" stroke-width="4.3"/><line x1="1431.6" y1="745.3" x2="1434.1" y2="759.9" stroke-width="4.7"/><line x1="1434.1" y1="759.9" x2="1436.5" y2="773.6" stroke-width="5.1"/><line x1="1436.5" y1="773.6" x2="1438.5" y2="785.6" stroke-width="5.5"/><line x1="1438.5" y1="785.6" x2="1440.0" y2="795.0" stroke-width="5.8"/><line x1="1440.0" y1="795.0" x2="1440.9" y2="801.1" stroke-width="6.0"/><line x1="1440.9" y1="801.1" x2="1441.3" y2="804.7" stroke-width="6.2"/><line x1="1441.3" y1="804.7" x2="1441.3" y2="806.4" stroke-width="6.3"/><line x1="1441.3" y1="806.4" x2="1441.1" y2="807.3" stroke-width="6.3"/><line x1="1441.1" y1="807.3" x2="1441.0" y2="808.2" stroke-width="6.3"/><line x1="1441.0" y1="808.2" x2="1441.0" y2="810.0" stroke-width="6.4"/></g>
<g fill="#ff0000" clip-path="url(#c2)"><circle cx="1100.0" cy="20.0" r="6.1"/><circle cx="1105.0" cy="25.3" r="6.1"/><circle cx="1114.8" cy="27.4" r="6.1"/><circle cx="1125.9" cy="30.2" r="6.1"/><circle cx="1144.0" cy="32.3" r="6.1"/><circle cx="1173.2" cy="35.0" r="6.1"/><circle cx="1188.5" cy="39.2" r="6.1"/><circle cx="1205.2" cy="43.4" r="6.1"/><circle cx="1219.2" cy="47.6" r="6.1"/><circle cx="1306.3" cy="174.6" r="6.1"/><circle cx="1340.0" cy="290.0" r="6.1"/><circle cx="1380.5" cy="484.0" r="6.1"/><circle cx="1440.5" cy="795.5" r="6.1"/></g>
<polyline points="1112.0,19.8 1116.0,21.2 1119.0,22.8 1130.0,21.6 1149.6,26.7 1163.5,29.1 1173.0,31.2 1183.7,33.5 1202.5,38.8 1215.0,42.7 1224.7,46.5 1233.0,50.0 1240.0,53.2 1247.0,57.6 1252.0,60.9 1257.0,65.5 1262.0,73.2 1265.5,81.0 1269.0,88.8 1272.0,96.5 1282.6,115.9 1296.0,135.4 1312.7,174.2 1321.7,213.0 1332.0,251.9 1341.7,290.7 1350.0,329.5 1365.6,407.2 1381.4,484.9 1397.1,562.5 1412.3,640.2 1427.0,717.9 1441.6,795.5" fill="none" stroke="#008000" stroke-width="2.6" stroke-linejoin="round" stroke-linecap="round" clip-path="url(#c2)" />
<g fill="#008000" clip-path="url(#c2)"><circle cx="1112.0" cy="19.8" r="6.1"/><circle cx="1116.0" cy="21.2" r="6.1"/><circle cx="1119.0" cy="22.8" r="6.1"/><circle cx="1130.0" cy="21.6" r="6.1"/><circle cx="1149.6" cy="26.7" r="6.1"/><circle cx="1163.5" cy="29.1" r="6.1"/><circle cx="1173.0" cy="31.2" r="6.1"/><circle cx="1183.7" cy="33.5" r="6.1"/><circle cx="1202.5" cy="38.8" r="6.1"/><circle cx="1215.0" cy="42.7" r="6.1"/><circle cx="1224.7" cy="46.5" r="6.1"/><circle cx="1233.0" cy="50.0" r="6.1"/><circle cx="1240.0" cy="53.2" r="6.1"/><circle cx="1247.0" cy="57.6" r="6.1"/><circle cx="1252.0" cy="60.9" r="6.1"/><circle cx="1257.0" cy="65.5" r="6.1"/><circle cx="1262.0" cy="73.2" r="6.1"/><circle cx="1265.5" cy="81.0" r="6.1"/><circle cx="1269.0" cy="88.8" r="6.1"/><circle cx="1272.0" cy="96.5" r="6.1"/><circle cx="1282.6" cy="115.9" r="6.1"/><circle cx="1296.0" cy="135.4" r="6.1"/><circle cx="1312.7" cy="174.2" r="6.1"/><circle cx="1321.7" cy="213.0" r="6.1"/><circle cx="1332.0" cy="251.9" r="6.1"/><circle cx="1341.7" cy="290.7" r="6.1"/><circle cx="1350.0" cy="329.5" r="6.1"/><circle cx="1365.6" cy="407.2" r="6.1"/><circle cx="1381.4" cy="484.9" r="6.1"/><circle cx="1397.1" cy="562.5" r="6.1"/><circle cx="1412.3" cy="640.2" r="6.1"/><circle cx="1427.0" cy="717.9" r="6.1"/><circle cx="1441.6" cy="795.5" r="6.1"/></g>
<polyline points="1127.0,19.3 1128.0,20.2 1129.0,21.1 1130.0,22.1 1131.0,23.0 1132.0,24.0 1135.5,25.2 1139.8,26.4 1148.2,28.3 1162.1,30.6 1173.2,33.0 1184.4,35.5 1194.8,38.2 1205.9,41.6 1217.1,45.2 1228.9,50.0 1240.0,55.0 1251.2,62.0 1260.2,70.0 1267.9,79.3 1274.8,90.3 1283.2,104.0 1292.2,120.4 1299.8,139.8 1308.8,163.2 1317.1,191.4 1326.3,225.4 1335.1,266.4 1346.1,313.8 1357.8,371.3 1371.9,439.4 1388.7,518.3 1407.0,611.0 1427.5,718.4" fill="none" stroke="#ff00ff" stroke-width="2.6" stroke-linejoin="round" stroke-linecap="round" clip-path="url(#c2)" />
<g fill="#ff00ff" clip-path="url(#c2)"><circle cx="1127.0" cy="19.3" r="6.1"/><circle cx="1128.0" cy="20.2" r="6.1"/><circle cx="1129.0" cy="21.1" r="6.1"/><circle cx="1130.0" cy="22.1" r="6.1"/><circle cx="1131.0" cy="23.0" r="6.1"/><circle cx="1132.0" cy="24.0" r="6.1"/><circle cx="1135.5" cy="25.2" r="6.1"/><circle cx="1139.8" cy="26.4" r="6.1"/><circle cx="1148.2" cy="28.3" r="6.1"/><circle cx="1162.1" cy="30.6" r="6.1"/><circle cx="1173.2" cy="33.0" r="6.1"/><circle cx="1184.4" cy="35.5" r="6.1"/><circle cx="1194.8" cy="38.2" r="6.1"/><circle cx="1205.9" cy="41.6" r="6.1"/><circle cx="1217.1" cy="45.2" r="6.1"/><circle cx="1228.9" cy="50.0" r="6.1"/><circle cx="1240.0" cy="55.0" r="6.1"/><circle cx="1251.2" cy="62.0" r="6.1"/><circle cx="1260.2" cy="70.0" r="6.1"/><circle cx="1267.9" cy="79.3" r="6.1"/><circle cx="1274.8" cy="90.3" r="6.1"/><circle cx="1283.2" cy="104.0" r="6.1"/><circle cx="1292.2" cy="120.4" r="6.1"/><circle cx="1299.8" cy="139.8" r="6.1"/><circle cx="1308.8" cy="163.2" r="6.1"/><circle cx="1317.1" cy="191.4" r="6.1"/><circle cx="1326.3" cy="225.4" r="6.1"/><circle cx="1335.1" cy="266.4" r="6.1"/><circle cx="1346.1" cy="313.8" r="6.1"/><circle cx="1357.8" cy="371.3" r="6.1"/><circle cx="1371.9" cy="439.4" r="6.1"/><circle cx="1388.7" cy="518.3" r="6.1"/><circle cx="1407.0" cy="611.0" r="6.1"/><circle cx="1427.5" cy="718.4" r="6.1"/></g>
<rect x="99.3" y="19.3" width="377.3" height="784.0" fill="none" stroke="#000" stroke-width="1.39" stroke-linejoin="miter"/>
<path d="M99.3 18.85h-6.1 M99.3 96.52h-6.1 M99.3 174.18h-6.1 M99.3 251.85h-6.1 M99.3 329.52h-6.1 M99.3 407.19h-6.1 M99.3 484.85h-6.1 M99.3 562.52h-6.1 M99.3 640.19h-6.1 M99.3 717.85h-6.1 M99.3 795.52h-6.1 M106.50 803.3v6.1 M174.50 803.3v6.1 M242.50 803.3v6.1 M310.50 803.3v6.1 M378.50 803.3v6.1 M446.50 803.3v6.1" stroke="#000" stroke-width="1.39" fill="none"/>
<rect x="588.5" y="19.3" width="378.0" height="784.0" fill="none" stroke="#000" stroke-width="1.39" stroke-linejoin="miter"/>
<path d="M588.5 18.85h-6.1 M588.5 96.52h-6.1 M588.5 174.18h-6.1 M588.5 251.85h-6.1 M588.5 329.52h-6.1 M588.5 407.19h-6.1 M588.5 484.85h-6.1 M588.5 562.52h-6.1 M588.5 640.19h-6.1 M588.5 717.85h-6.1 M588.5 795.52h-6.1 M657.50 803.3v6.1 M736.83 803.3v6.1 M816.16 803.3v6.1 M895.49 803.3v6.1" stroke="#000" stroke-width="1.39" fill="none"/>
<rect x="1078.6" y="19.3" width="377.0" height="784.0" fill="none" stroke="#000" stroke-width="1.39" stroke-linejoin="miter"/>
<path d="M1078.6 18.85h-6.1 M1078.6 96.52h-6.1 M1078.6 174.18h-6.1 M1078.6 251.85h-6.1 M1078.6 329.52h-6.1 M1078.6 407.19h-6.1 M1078.6 484.85h-6.1 M1078.6 562.52h-6.1 M1078.6 640.19h-6.1 M1078.6 717.85h-6.1 M1078.6 795.52h-6.1 M1104.50 803.3v6.1 M1159.50 803.3v6.1 M1214.50 803.3v6.1 M1269.50 803.3v6.1 M1324.50 803.3v6.1 M1379.50 803.3v6.1 M1434.50 803.3v6.1" stroke="#000" stroke-width="1.39" fill="none"/>
<text transform="translate(74.60,26.05) scale(1.0364,1)" style="font-family:'Liberation Sans', sans-serif;font-size:18.40px;font-weight:normal;font-style:normal" fill="#000" >0</text>
<text transform="translate(53.38,103.72) scale(1.0369,1)" style="font-family:'Liberation Sans', sans-serif;font-size:18.40px;font-weight:normal;font-style:normal" fill="#000" >100</text>
<text transform="translate(53.38,181.38) scale(1.0369,1)" style="font-family:'Liberation Sans', sans-serif;font-size:18.40px;font-weight:normal;font-style:normal" fill="#000" >200</text>
<text transform="translate(53.38,259.05) scale(1.0369,1)" style="font-family:'Liberation Sans', sans-serif;font-size:18.40px;font-weight:normal;font-style:normal" fill="#000" >300</text>
<text transform="translate(53.38,336.72) scale(1.0369,1)" style="font-family:'Liberation Sans', sans-serif;font-size:18.40px;font-weight:normal;font-style:normal" fill="#000" >400</text>
<text transform="translate(53.38,414.38) scale(1.0369,1)" style="font-family:'Liberation Sans', sans-serif;font-size:18.40px;font-weight:normal;font-style:normal" fill="#000" >500</text>
<text transform="translate(53.38,492.05) scale(1.0369,1)" style="font-family:'Liberation Sans', sans-serif;font-size:18.40px;font-weight:normal;font-style:normal" fill="#000" >600</text>
<text transform="translate(53.38,569.72) scale(1.0369,1)" style="font-family:'Liberation Sans', sans-serif;font-size:18.40px;font-weight:normal;font-style:normal" fill="#000" >700</text>
<text transform="translate(53.38,647.39) scale(1.0369,1)" style="font-family:'Liberation Sans', sans-serif;font-size:18.40px;font-weight:normal;font-style:normal" fill="#000" >800</text>
<text transform="translate(53.38,725.05) scale(1.0369,1)" style="font-family:'Liberation Sans', sans-serif;font-size:18.40px;font-weight:normal;font-style:normal" fill="#000" >900</text>
<text transform="translate(42.78,802.72) scale(1.0363,1)" style="font-family:'Liberation Sans', sans-serif;font-size:18.40px;font-weight:normal;font-style:normal" fill="#000" >1000</text>
<text transform="translate(100.68,830.00) scale(1.0796,1)" style="font-family:'Liberation Sans', sans-serif;font-size:18.40px;font-weight:normal;font-style:normal" fill="#000" >5</text>
<text transform="translate(163.16,830.00) scale(1.0796,1)" style="font-family:'Liberation Sans', sans-serif;font-size:18.40px;font-weight:normal;font-style:normal" fill="#000" >10</text>
<text transform="translate(231.16,830.00) scale(1.0796,1)" style="font-family:'Liberation Sans', sans-serif;font-size:18.40px;font-weight:normal;font-style:normal" fill="#000" >15</text>
<text transform="translate(299.16,830.00) scale(1.0796,1)" style="font-family:'Liberation Sans', sans-serif;font-size:18.40px;font-weight:normal;font-style:normal" fill="#000" >20</text>
<text transform="translate(367.16,830.00) scale(1.0796,1)" style="font-family:'Liberation Sans', sans-serif;font-size:18.40px;font-weight:normal;font-style:normal" fill="#000" >25</text>
<text transform="translate(435.16,830.00) scale(1.0796,1)" style="font-family:'Liberation Sans', sans-serif;font-size:18.40px;font-weight:normal;font-style:normal" fill="#000" >30</text>
<text transform="translate(646.16,830.00) scale(1.0796,1)" style="font-family:'Liberation Sans', sans-serif;font-size:18.40px;font-weight:normal;font-style:normal" fill="#000" >33</text>
<text transform="translate(725.49,830.00) scale(1.0796,1)" style="font-family:'Liberation Sans', sans-serif;font-size:18.40px;font-weight:normal;font-style:normal" fill="#000" >34</text>
<text transform="translate(804.82,830.00) scale(1.0796,1)" style="font-family:'Liberation Sans', sans-serif;font-size:18.40px;font-weight:normal;font-style:normal" fill="#000" >35</text>
<text transform="translate(884.15,830.00) scale(1.0796,1)" style="font-family:'Liberation Sans', sans-serif;font-size:18.40px;font-weight:normal;font-style:normal" fill="#000" >36</text>
<text transform="rotate(-45,1102.05,838.45) translate(1079.96,844.78) scale(1.0795,1)" style="font-family:'Liberation Sans', sans-serif;font-size:18.40px;font-weight:normal;font-style:normal" fill="#000" >1020</text>
<text transform="rotate(-45,1157.05,838.45) translate(1134.96,844.78) scale(1.0795,1)" style="font-family:'Liberation Sans', sans-serif;font-size:18.40px;font-weight:normal;font-style:normal" fill="#000" >1022</text>
<text transform="rotate(-45,1212.05,838.45) translate(1189.96,844.78) scale(1.0795,1)" style="font-family:'Liberation Sans', sans-serif;font-size:18.40px;font-weight:normal;font-style:normal" fill="#000" >1024</text>
<text transform="rotate(-45,1267.05,838.45) translate(1244.96,844.78) scale(1.0795,1)" style="font-family:'Liberation Sans', sans-serif;font-size:18.40px;font-weight:normal;font-style:normal" fill="#000" >1026</text>
<text transform="rotate(-45,1322.05,838.45) translate(1299.96,844.78) scale(1.0795,1)" style="font-family:'Liberation Sans', sans-serif;font-size:18.40px;font-weight:normal;font-style:normal" fill="#000" >1028</text>
<text transform="rotate(-45,1377.05,838.45) translate(1354.96,844.78) scale(1.0795,1)" style="font-family:'Liberation Sans', sans-serif;font-size:18.40px;font-weight:normal;font-style:normal" fill="#000" >1030</text>
<text transform="rotate(-45,1432.05,838.45) translate(1409.96,844.78) scale(1.0795,1)" style="font-family:'Liberation Sans', sans-serif;font-size:18.40px;font-weight:normal;font-style:normal" fill="#000" >1032</text>
<text transform="translate(731.00,858.90) scale(1.0957,1)" style="font-family:'Liberation Sans', sans-serif;font-size:23.91px;font-weight:bold;font-style:normal" fill="#000" >Salinity</text>
<text transform="translate(1161.10,884.50) scale(1.1315,1)" style="font-family:'Liberation Sans', sans-serif;font-size:23.91px;font-weight:bold;font-style:normal" fill="#000" >Density (kg m-3)</text>
<text transform="translate(178.20,859.90) scale(1.1465,1)" style="font-family:'Liberation Sans', sans-serif;font-size:23.91px;font-weight:bold;font-style:normal" fill="#000" >Temperature (</text>
<text transform="translate(361.50,850.70) scale(0.8380,1)" style="font-family:'Liberation Sans', sans-serif;font-size:16.74px;font-weight:normal;font-style:italic" fill="#000" >o</text>
<text transform="translate(372.30,859.80) scale(0.7984,1)" style="font-family:'Liberation Sans', sans-serif;font-size:23.91px;font-weight:normal;font-style:italic" fill="#000" >C</text>
<text transform="translate(388.60,859.90) scale(0.8413,1)" style="font-family:'Liberation Sans', sans-serif;font-size:23.91px;font-weight:bold;font-style:normal" fill="#000" >)</text>
<g transform="translate(29.3,826) rotate(-90)"><text transform="translate(350.50,0.00) scale(1.1202,1)" style="font-family:'Liberation Sans', sans-serif;font-size:23.91px;font-weight:bold;font-style:normal" fill="#000" >Depth (m)</text></g>
<text transform="translate(1530.70,36.40) scale(1.1277,1)" style="font-family:'Liberation Sans', sans-serif;font-size:23.91px;font-weight:bold;font-style:normal" fill="#000" >Comparison Date: 2025-09-10</text>
<text transform="translate(1530.70,89.50) scale(1.1149,1)" style="font-family:'Liberation Sans', sans-serif;font-size:23.91px;font-weight:bold;font-style:normal" fill="#000" >Glider: ng735</text>
<text transform="translate(1530.70,115.80) scale(1.1092,1)" style="font-family:'Liberation Sans', sans-serif;font-size:23.91px;font-weight:bold;font-style:normal" fill="#000" >Profiles: 13</text>
<text transform="translate(1530.70,142.30) scale(1.1586,1)" style="font-family:'Liberation Sans', sans-serif;font-size:23.91px;font-weight:bold;font-style:normal" fill="#000" >First: 2025-09-10 00:27:22</text>
<text transform="translate(1530.70,168.60) scale(1.1536,1)" style="font-family:'Liberation Sans', sans-serif;font-size:23.91px;font-weight:bold;font-style:normal" fill="#000" >Last: 2025-09-10 23:12:43</text>
<text transform="translate(1530.70,195.20) scale(1.1267,1)" style="font-family:'Liberation Sans', sans-serif;font-size:23.91px;font-weight:bold;font-style:normal" fill="#000" >Method: Nearest-Neighbor</text>
<defs><clipPath id="mapc"><rect x="1567.2" y="261.0" width="378.4" height="299.8"/></clipPath></defs>
<g clip-path="url(#mapc)">
<rect x="1567.2" y="261.0" width="378.4" height="299.8" fill="#d2b48c"/>
<polygon points="1916.0,260.0 1947.0,260.0 1947.0,562.0 1768.0,562.0 1770.5,548.0 1772.3,535.1 1775.7,521.4 1780.0,513.0 1784.2,507.7 1786.8,497.5 1784.0,493.0 1780.8,491.5 1770.0,490.8 1763.7,490.6 1750.0,494.0 1739.8,496.6 1726.1,500.9 1721.0,507.7 1717.5,524.9 1710.7,536.8 1697.0,544.6 1679.9,548.0 1662.7,552.3 1649.0,556.5 1644.0,552.0 1638.8,547.1 1628.5,545.4 1623.5,542.5 1619.9,538.6 1617.0,531.0 1613.1,523.2 1607.0,515.5 1602.8,507.7 1600.0,500.0 1596.0,492.3 1593.0,486.0 1590.0,478.6 1589.1,470.1 1589.5,455.0 1590.0,439.2 1594.2,418.7 1601.2,407.8 1599.4,397.2 1598.3,386.6 1598.3,378.3 1601.2,370.1 1608.3,361.8 1617.7,355.3 1631.8,347.7 1646.0,335.9 1656.6,330.6 1669.5,328.8 1676.4,330.2 1682.8,332.8 1689.3,333.4 1692.5,328.9 1697.0,330.8 1702.1,333.4 1706.0,336.0 1706.0,338.5 1711.7,343.0 1718.2,343.0 1725.9,341.7 1731.0,339.2 1736.8,340.5 1740.6,343.7 1741.0,346.5 1745.8,345.0 1747.7,340.5 1743.9,337.9 1742.0,333.0 1745.8,321.2 1750.9,319.9 1759.9,319.3 1772.9,318.1 1788.9,316.5 1801.8,318.9 1808.2,322.9 1813.0,329.4 1819.4,332.6 1827.5,326.1 1835.5,322.1 1843.5,326.1 1850.0,336.6 1858.0,344.6 1860.4,354.3 1858.8,363.9 1860.4,375.1 1866.0,386.4 1872.4,397.6 1878.9,407.3 1886.9,413.7 1890.1,420.1 1896.5,421.7 1903.0,418.5 1907.0,407.3 1908.6,392.8 1906.2,380.0 1899.8,357.5 1893.3,344.6 1886.9,328.6 1883.7,314.1 1882.1,299.6 1888.5,290.0 1893.8,280.7 1905.0,270.0 1916.0,261.0" fill="#97b6e1"/>
<polygon points="1820.2,486.0 1828.5,481.5 1829.2,476.2 1836.0,470.2 1848.7,465.0 1866.0,461.2 1880.2,461.6 1892.2,459.7 1905.0,462.7 1916.2,469.5 1922.2,474.0 1935.0,474.7 1947.0,478.5 1947.0,506.5 1938.0,501.0 1934.2,492.0 1923.7,490.5 1905.0,483.7 1890.0,480.0 1875.0,477.0 1879.5,474.0 1877.2,471.4 1860.0,470.2 1848.7,477.7 1837.5,482.2 1830.7,485.2 1824.0,487.5" fill="#d2b48c" stroke="#000" stroke-width="1.8" stroke-linejoin="round"/>
<ellipse cx="1857.7" cy="489.7" rx="4" ry="3.6" fill="#d2b48c" stroke="#000" stroke-width="1.8"/>
<ellipse cx="1946" cy="553" rx="6" ry="3.5" fill="#d2b48c" stroke="#000" stroke-width="1.8"/>
<polygon points="1938,423 1946,418 1946,440 1940,436" fill="#d2b48c" stroke="#000" stroke-width="1.6"/>
<polyline points="1573.7,261.0 1576.0,263.0 1580.0,266.0 1585.0,270.0 1592.5,277.3 1600.0,287.0 1606.2,297.8 1612.0,307.0 1618.9,317.1 1619.5,323.0 1622.4,331.2 1628.3,334.7 1629.5,341.8 1633.0,345.9" fill="none" stroke="#97b6e1" stroke-width="1.6" stroke-linejoin="round"/>
<polyline points="1699.5,303.9 1702.1,307.7 1706.6,311.6 1707.9,318.0 1715.0,323.8 1721.4,323.8 1729.7,326.3 1729.7,330.2 1740.6,339.8 1741.3,344.3" fill="none" stroke="#97b6e1" stroke-width="1.6" stroke-linejoin="round"/>
<polyline points="1792.8,261.0 1796.2,272.1 1784.2,274.7 1775.7,280.7 1767.1,299.5 1765.4,316.6" fill="none" stroke="#97b6e1" stroke-width="1.6" stroke-linejoin="round"/>
<polyline points="1821.8,309.3 1817.8,321.3 1818.6,328.6" fill="none" stroke="#97b6e1" stroke-width="1.6" stroke-linejoin="round"/>
<polyline points="1567.0,487.2 1575.0,484.5 1582.0,482.0 1589.1,478.6" fill="none" stroke="#97b6e1" stroke-width="1.6" stroke-linejoin="round"/>
<polyline points="1679.9,547.1 1683.0,552.0 1688.0,555.0 1691.8,561.0" fill="none" stroke="#97b6e1" stroke-width="1.6" stroke-linejoin="round"/>
<polyline points="1567.0,396.3 1580.5,402.3 1589.4,404.8 1597.7,407.8 1600.5,408.0" fill="none" stroke="#97b6e1" stroke-width="1.6" stroke-linejoin="round"/>
<polyline points="1567.0,396.3 1580.5,402.3 1589.4,404.8 1597.7,407.8 1600.5,408.0" fill="none" stroke="#000" stroke-width="1.3" stroke-dasharray="4 2"/>
<polyline points="1656.7,261.0 1656.7,282.4 1660.0,290.0 1664.5,301.2 1662.4,311.0 1661.9,318.4 1660.1,325.3 1658.9,329.4" fill="none" stroke="#000" stroke-width="1.4" stroke-linejoin="round"/>
<polyline points="1709.0,261.0 1712.4,276.4 1706.0,285.0 1702.1,292.7 1699.6,303.0 1733.6,303.2 1731.7,309.6 1735.5,314.8 1736.2,319.3" fill="none" stroke="#000" stroke-width="1.4" stroke-linejoin="round"/>
<polyline points="1756.9,261.0 1756.8,285.8 1757.3,300.0 1758.3,317.0" fill="none" stroke="#000" stroke-width="1.4" stroke-linejoin="round"/>
<polyline points="1775.7,317.0 1774.0,310.0 1772.3,303.8 1817.8,303.7" fill="none" stroke="#000" stroke-width="1.4" stroke-linejoin="round"/>
<polyline points="1815.1,261.0 1820.2,277.3 1816.8,289.2 1817.8,299.6 1821.0,309.3 1869.2,311.7 1870.8,315.7 1873.3,308.5 1882.1,309.3" fill="none" stroke="#000" stroke-width="1.4" stroke-linejoin="round"/>
<polyline points="1881.8,261.0 1887.0,272.1 1892.1,281.5" fill="none" stroke="#000" stroke-width="1.4" stroke-linejoin="round"/>
<polyline points="1770.5,548.0 1772.3,535.1 1775.7,521.4 1780.0,513.0 1784.2,507.7 1786.8,497.5 1784.0,493.0 1780.8,491.5 1770.0,490.8 1763.7,490.6 1750.0,494.0 1739.8,496.6 1726.1,500.9 1721.0,507.7 1717.5,524.9 1710.7,536.8 1697.0,544.6 1679.9,548.0 1662.7,552.3 1649.0,556.5 1644.0,552.0 1638.8,547.1 1628.5,545.4 1623.5,542.5 1619.9,538.6 1617.0,531.0 1613.1,523.2 1607.0,515.5 1602.8,507.7 1600.0,500.0 1596.0,492.3 1593.0,486.0 1590.0,478.6 1589.1,470.1 1589.5,455.0 1590.0,439.2 1594.2,418.7 1601.2,407.8 1599.4,397.2 1598.3,386.6 1598.3,378.3 1601.2,370.1 1608.3,361.8 1617.7,355.3 1631.8,347.7 1646.0,335.9 1656.6,330.6 1669.5,328.8 1676.4,330.2 1682.8,332.8 1689.3,333.4 1692.5,328.9 1697.0,330.8 1702.1,333.4 1706.0,336.0 1706.0,338.5 1711.7,343.0 1718.2,343.0 1725.9,341.7 1731.0,339.2 1736.8,340.5 1740.6,343.7 1741.0,346.5 1745.8,345.0 1747.7,340.5 1743.9,337.9 1742.0,333.0 1745.8,321.2 1750.9,319.9 1759.9,319.3 1772.9,318.1 1788.9,316.5 1801.8,318.9 1808.2,322.9 1813.0,329.4 1819.4,332.6 1827.5,326.1 1835.5,322.1 1843.5,326.1 1850.0,336.6 1858.0,344.6 1860.4,354.3 1858.8,363.9 1860.4,375.1 1866.0,386.4 1872.4,397.6 1878.9,407.3 1886.9,413.7 1890.1,420.1 1896.5,421.7 1903.0,418.5 1907.0,407.3 1908.6,392.8 1906.2,380.0 1899.8,357.5 1893.3,344.6 1886.9,328.6 1883.7,314.1 1882.1,299.6 1888.5,290.0 1893.8,280.7 1905.0,270.0 1916.0,261.0" fill="none" stroke="#000" stroke-width="1.9" stroke-linejoin="round"/>
<g fill="#000"><circle cx="1597.8" cy="408.0" r="1.7"/><circle cx="1598.7" cy="404.8" r="1.3"/><circle cx="1596.9" cy="401.3" r="0.9"/><circle cx="1596.5" cy="400.3" r="1.3"/><circle cx="1599.2" cy="395.2" r="1.3"/><circle cx="1598.0" cy="392.7" r="1.9"/><circle cx="1598.5" cy="389.5" r="0.8"/><circle cx="1594.7" cy="388.2" r="1.3"/><circle cx="1596.6" cy="386.0" r="0.8"/><circle cx="1596.5" cy="383.2" r="1.4"/><circle cx="1597.4" cy="380.4" r="1.1"/><circle cx="1597.7" cy="376.7" r="0.8"/><circle cx="1598.0" cy="372.5" r="1.6"/><circle cx="1596.7" cy="371.0" r="1.8"/><circle cx="1600.4" cy="369.0" r="1.7"/><circle cx="1601.4" cy="364.1" r="1.3"/><circle cx="1604.2" cy="362.5" r="1.2"/><circle cx="1604.9" cy="360.4" r="1.8"/><circle cx="1608.1" cy="359.0" r="0.8"/><circle cx="1609.4" cy="357.2" r="1.3"/><circle cx="1612.2" cy="356.5" r="1.6"/><circle cx="1616.1" cy="354.6" r="1.3"/><circle cx="1617.4" cy="351.9" r="1.4"/><circle cx="1620.0" cy="351.8" r="0.8"/><circle cx="1621.2" cy="350.2" r="2.0"/><circle cx="1625.4" cy="349.4" r="1.0"/><circle cx="1626.4" cy="346.1" r="1.7"/><circle cx="1629.1" cy="345.3" r="1.1"/><circle cx="1630.4" cy="343.9" r="1.5"/><circle cx="1634.1" cy="344.4" r="1.5"/><circle cx="1637.8" cy="342.7" r="1.7"/><circle cx="1637.3" cy="338.5" r="1.7"/><circle cx="1640.2" cy="338.0" r="1.5"/><circle cx="1642.7" cy="338.4" r="1.8"/><circle cx="1644.6" cy="336.0" r="1.4"/><circle cx="1646.6" cy="334.0" r="1.2"/><circle cx="1649.0" cy="331.6" r="1.5"/><circle cx="1652.5" cy="332.5" r="1.1"/><circle cx="1653.4" cy="329.6" r="1.8"/><circle cx="1672.4" cy="326.0" r="0.9"/><circle cx="1672.6" cy="326.4" r="2.0"/><circle cx="1675.9" cy="329.0" r="1.8"/><circle cx="1678.5" cy="328.8" r="1.1"/><circle cx="1680.0" cy="330.2" r="2.0"/><circle cx="1684.0" cy="329.7" r="1.7"/><circle cx="1684.3" cy="332.0" r="0.9"/><circle cx="1686.3" cy="331.5" r="1.3"/><circle cx="1687.4" cy="330.7" r="1.6"/><circle cx="1691.1" cy="329.4" r="0.8"/><circle cx="1693.4" cy="328.8" r="1.6"/><circle cx="1697.9" cy="328.6" r="1.1"/><circle cx="1700.5" cy="329.5" r="2.0"/><circle cx="1703.1" cy="330.9" r="2.1"/><circle cx="1704.7" cy="331.0" r="2.3"/><circle cx="1705.8" cy="332.7" r="1.9"/><circle cx="1707.9" cy="337.2" r="1.6"/><circle cx="1708.8" cy="338.5" r="2.1"/><circle cx="1710.5" cy="338.1" r="2.2"/><circle cx="1711.9" cy="340.6" r="2.3"/><circle cx="1714.1" cy="341.3" r="1.2"/><circle cx="1716.0" cy="340.6" r="1.1"/><circle cx="1720.4" cy="341.7" r="2.3"/><circle cx="1721.0" cy="339.1" r="1.9"/><circle cx="1724.3" cy="340.1" r="1.8"/><circle cx="1726.9" cy="340.0" r="1.1"/><circle cx="1728.3" cy="336.9" r="1.8"/><circle cx="1731.8" cy="336.4" r="2.0"/><circle cx="1736.7" cy="339.8" r="2.0"/><circle cx="1741.3" cy="332.0" r="1.2"/><circle cx="1742.5" cy="327.9" r="0.9"/><circle cx="1742.5" cy="326.6" r="1.1"/><circle cx="1743.4" cy="322.9" r="1.3"/><circle cx="1749.9" cy="319.3" r="1.4"/><circle cx="1751.3" cy="318.7" r="1.7"/><circle cx="1755.4" cy="318.3" r="1.5"/><circle cx="1757.0" cy="318.1" r="1.4"/><circle cx="1760.9" cy="319.2" r="1.7"/><circle cx="1764.6" cy="317.6" r="1.7"/><circle cx="1768.6" cy="316.8" r="1.2"/><circle cx="1772.2" cy="317.4" r="1.7"/><circle cx="1775.7" cy="317.6" r="0.9"/><circle cx="1776.6" cy="316.0" r="1.2"/><circle cx="1781.3" cy="316.7" r="1.3"/><circle cx="1783.7" cy="316.4" r="1.4"/><circle cx="1787.4" cy="315.0" r="1.5"/><circle cx="1792.2" cy="315.5" r="1.8"/><circle cx="1794.3" cy="317.2" r="1.7"/><circle cx="1798.8" cy="316.7" r="1.4"/><circle cx="1800.9" cy="318.4" r="1.6"/><circle cx="1803.9" cy="319.6" r="0.9"/><circle cx="1808.7" cy="321.1" r="0.9"/><circle cx="1810.7" cy="325.1" r="1.0"/><circle cx="1812.4" cy="326.3" r="1.7"/><circle cx="1813.6" cy="328.5" r="0.8"/><circle cx="1818.8" cy="331.6" r="1.7"/><circle cx="1821.5" cy="329.8" r="1.8"/><circle cx="1822.8" cy="329.7" r="1.4"/><circle cx="1824.7" cy="327.9" r="1.2"/><circle cx="1844.1" cy="326.4" r="1.4"/><circle cx="1845.2" cy="328.4" r="1.4"/><circle cx="1849.3" cy="331.0" r="2.0"/><circle cx="1849.1" cy="332.0" r="1.2"/><circle cx="1849.2" cy="334.7" r="1.1"/><circle cx="1853.2" cy="336.3" r="2.1"/><circle cx="1853.3" cy="339.1" r="1.3"/><circle cx="1855.8" cy="339.3" r="2.2"/><circle cx="1856.4" cy="342.6" r="1.8"/><circle cx="1858.5" cy="343.0" r="1.1"/><circle cx="1858.5" cy="345.7" r="2.3"/><circle cx="1860.7" cy="348.7" r="1.3"/><circle cx="1861.4" cy="351.2" r="2.2"/><circle cx="1861.8" cy="353.6" r="1.5"/><circle cx="1861.4" cy="355.9" r="1.1"/><circle cx="1862.3" cy="357.8" r="0.9"/><circle cx="1861.4" cy="359.5" r="1.2"/><circle cx="1860.4" cy="363.0" r="1.3"/><circle cx="1859.7" cy="366.1" r="1.5"/><circle cx="1861.1" cy="366.3" r="1.2"/><circle cx="1861.8" cy="368.9" r="1.3"/><circle cx="1862.6" cy="371.5" r="1.0"/><circle cx="1860.8" cy="372.9" r="2.0"/><circle cx="1861.7" cy="376.2" r="1.3"/><circle cx="1863.0" cy="377.1" r="0.9"/><circle cx="1865.8" cy="380.0" r="2.3"/><circle cx="1867.2" cy="382.3" r="0.8"/><circle cx="1867.8" cy="383.5" r="2.0"/><circle cx="1869.0" cy="385.9" r="1.8"/><circle cx="1869.1" cy="390.0" r="1.1"/><circle cx="1869.5" cy="391.7" r="1.4"/><circle cx="1871.9" cy="394.8" r="0.8"/><circle cx="1871.6" cy="395.2" r="2.1"/><circle cx="1873.6" cy="397.8" r="1.0"/><circle cx="1876.0" cy="400.7" r="1.1"/><circle cx="1875.2" cy="401.5" r="1.1"/><circle cx="1877.6" cy="404.5" r="0.9"/><circle cx="1878.9" cy="405.9" r="2.4"/><circle cx="1880.1" cy="406.3" r="2.0"/><circle cx="1883.6" cy="407.2" r="1.6"/><circle cx="1884.2" cy="409.9" r="0.9"/><circle cx="1886.2" cy="412.2" r="2.2"/><circle cx="1889.1" cy="414.8" r="0.9"/><circle cx="1888.9" cy="416.1" r="1.1"/><circle cx="1891.6" cy="417.3" r="1.0"/><circle cx="1893.5" cy="278.4" r="1.6"/><circle cx="1895.6" cy="276.4" r="1.7"/><circle cx="1896.2" cy="276.8" r="1.7"/><circle cx="1898.1" cy="273.5" r="0.9"/><circle cx="1900.5" cy="273.4" r="1.3"/><circle cx="1902.7" cy="272.2" r="1.0"/><circle cx="1902.3" cy="269.4" r="1.6"/><circle cx="1904.0" cy="268.2" r="0.9"/><circle cx="1907.8" cy="267.3" r="0.8"/><circle cx="1909.9" cy="265.3" r="1.0"/><circle cx="1910.9" cy="262.3" r="1.1"/><circle cx="1913.2" cy="261.5" r="1.5"/><circle cx="1913.1" cy="260.4" r="1.5"/><circle cx="1838.5" cy="471.4" r="1.6"/><circle cx="1838.7" cy="469.1" r="1.9"/><circle cx="1841.9" cy="469.8" r="1.4"/><circle cx="1844.2" cy="467.6" r="2.1"/><circle cx="1846.4" cy="467.1" r="1.7"/><circle cx="1848.2" cy="465.7" r="1.7"/><circle cx="1850.6" cy="465.3" r="2.1"/><circle cx="1852.8" cy="466.3" r="1.3"/><circle cx="1853.7" cy="466.0" r="2.1"/><circle cx="1856.2" cy="463.6" r="1.1"/><circle cx="1858.9" cy="463.5" r="2.3"/><circle cx="1860.9" cy="462.8" r="1.8"/><circle cx="1863.0" cy="464.3" r="2.3"/><circle cx="1865.3" cy="463.0" r="1.9"/><circle cx="1867.8" cy="463.7" r="0.8"/><circle cx="1869.2" cy="462.8" r="1.3"/><circle cx="1872.1" cy="461.6" r="2.2"/><circle cx="1874.3" cy="461.7" r="1.9"/><circle cx="1876.2" cy="462.0" r="1.6"/><circle cx="1878.1" cy="462.1" r="2.2"/><circle cx="1881.9" cy="461.4" r="2.0"/><circle cx="1882.8" cy="462.0" r="2.2"/><circle cx="1886.6" cy="461.4" r="1.4"/><circle cx="1888.4" cy="460.6" r="2.4"/><circle cx="1890.1" cy="461.1" r="2.0"/><circle cx="1892.7" cy="462.3" r="1.2"/><circle cx="1896.8" cy="463.1" r="1.9"/><circle cx="1899.3" cy="462.5" r="2.1"/><circle cx="1901.6" cy="463.2" r="1.6"/><circle cx="1904.0" cy="463.5" r="0.9"/><circle cx="1906.3" cy="464.3" r="1.6"/><circle cx="1908.8" cy="465.5" r="0.8"/><circle cx="1909.0" cy="466.8" r="1.4"/><circle cx="1911.7" cy="468.1" r="2.3"/><circle cx="1914.0" cy="469.4" r="2.2"/><circle cx="1917.0" cy="471.0" r="1.6"/><circle cx="1918.9" cy="472.0" r="1.4"/><circle cx="1919.6" cy="474.6" r="1.3"/><circle cx="1923.8" cy="476.5" r="2.3"/><circle cx="1925.6" cy="475.7" r="1.3"/><circle cx="1928.3" cy="475.6" r="2.1"/><circle cx="1932.2" cy="475.3" r="0.8"/><circle cx="1933.6" cy="474.8" r="0.8"/><circle cx="1936.6" cy="475.6" r="1.9"/><circle cx="1937.2" cy="478.0" r="2.2"/><circle cx="1939.4" cy="476.7" r="2.3"/><circle cx="1942.6" cy="478.4" r="2.1"/><circle cx="1945.2" cy="479.5" r="1.6"/></g>
<ellipse cx="1641.5" cy="332.5" rx="4" ry="3.5" fill="#000"/>
<ellipse cx="1612" cy="352.5" rx="4.5" ry="2.6" fill="#000"/>
<ellipse cx="1602.5" cy="363.5" rx="4" ry="2.6" fill="#000"/>
<ellipse cx="1596.5" cy="369.8" rx="3" ry="2.2" fill="#000"/>
<ellipse cx="1592.8" cy="378.3" rx="2.4" ry="2.2" fill="#000"/>
<ellipse cx="1695" cy="331.5" rx="5" ry="3.2" fill="#000"/>
<ellipse cx="1706" cy="336.5" rx="3" ry="4.5" fill="#000"/>
<ellipse cx="1719" cy="341" rx="8" ry="3.2" fill="#000"/>
<ellipse cx="1729.5" cy="335.5" rx="5" ry="3.5" fill="#000"/>
<ellipse cx="1743.5" cy="342" rx="4" ry="3.5" fill="#000"/>
<ellipse cx="1863" cy="372" rx="2.2" ry="3.5" fill="#000"/>
<ellipse cx="1862" cy="358" rx="2" ry="3" fill="#000"/>
<ellipse cx="1856" cy="342.5" rx="2.2" ry="2.2" fill="#000"/>
<polyline points="1594.5,381.0 1596.0,392.0 1598.0,401.0 1600.5,407.0" fill="none" stroke="#000" stroke-width="3.6" stroke-linejoin="round" stroke-linecap="round"/>
<polyline points="1701.5,333.0 1706.0,337.5 1712.0,342.0 1720.0,342.5 1730.0,338.5 1738.0,340.0 1742.0,343.0" fill="none" stroke="#000" stroke-width="3.5" stroke-linejoin="round" stroke-linecap="round"/>
<polyline points="1858.5,347.0 1860.5,355.0 1859.5,364.0 1861.5,375.0 1866.5,385.0" fill="none" stroke="#000" stroke-width="2.8" stroke-linejoin="round" stroke-linecap="round"/>
<polyline points="1872.0,396.0 1876.0,402.0 1880.0,405.0" fill="none" stroke="#000" stroke-width="3.5" stroke-linejoin="round" stroke-linecap="round"/>
<polyline points="1836.0,470.5 1849.0,465.5 1866.0,461.7 1880.0,462.0 1892.0,460.5 1905.0,463.5 1916.0,470.0 1923.0,474.5 1935.0,475.5 1946.0,479.5" fill="none" stroke="#000" stroke-width="2.4" stroke-linejoin="round" stroke-linecap="round"/>
<polyline points="1870.5,433.2 1882.0,430.0 1895.0,425.0 1903.0,418.5" fill="none" stroke="#000" stroke-width="2.3" stroke-linejoin="round" stroke-linecap="round"/>
<polyline points="1884.0,313.0 1883.0,302.0 1886.0,292.0 1893.0,281.0 1905.0,271.0 1914.0,263.0" fill="none" stroke="#000" stroke-width="2.2" stroke-linejoin="round" stroke-linecap="round"/>
<polyline points="1897.0,353.0 1900.0,362.0 1903.0,372.0" fill="none" stroke="#000" stroke-width="2.6" stroke-linejoin="round" stroke-linecap="round"/>
<polyline points="1680.0,332.0 1690.0,333.5" fill="none" stroke="#000" stroke-width="2.5" stroke-linejoin="round" stroke-linecap="round"/>
<polygon points="1731,318 1740,320 1745,326 1744.5,336 1741,338.5 1736,333 1733,326" fill="#000"/>
<ellipse cx="1726" cy="319.6" rx="5" ry="3.8" fill="#97b6e1" stroke="#000" stroke-width="1.4"/>
<polyline points="1744,336 1749,333 1751.5,327 1750,322.5" fill="none" stroke="#000" stroke-width="2.4"/>
<g stroke="#000" stroke-width="2.2" stroke-linecap="round" fill="none"><path d="M1843.5 483.7H1850.2M1867.5 490.5L1884.7 490.5M1918.4 500.2L1939.4 511.5M1927 390L1931 388M1940 384L1945.2 381.7M1901 445L1905 444M1911 445L1916.5 453.5M1921.2 411L1923.5 417"/><path d="M1883 534.3h6M1907 527.4h6"/></g>
<polygon points="1890.5,386.4 1894.1,382.6 1897.7,386.4 1894.1,390.2" fill="#b7b7b7"/>
<polyline points="1742,561 1750,553 1756,546" fill="none" stroke="#000" stroke-width="1.3" stroke-dasharray="3 2"/>
<ellipse cx="1700.4" cy="547.1" rx="4.5" ry="2.2" fill="#97b6e1" stroke="#000" stroke-width="1.4"/>
<polyline points="1595,415 1591,428 1589.8,443" fill="none" stroke="#000" stroke-width="3.2" stroke-linecap="round"/>
<ellipse cx="1594.5" cy="490" rx="2.6" ry="4.5" fill="#000"/>
<g fill="#666"><circle cx="1703.8" cy="481.2" r="1.2"/><circle cx="1733.8" cy="473.5" r="1.2"/><circle cx="1735.5" cy="476" r="1.2"/><circle cx="1688.4" cy="503.5" r="1.2"/><circle cx="1693.6" cy="518" r="1.2"/><circle cx="1869" cy="431.5" r="1.2"/></g>
<circle cx="1699.8" cy="382.3" r="4.6" fill="#000"/><circle cx="1700.2" cy="385.2" r="4.6" fill="#000"/>
<circle cx="1700.6" cy="387.5" r="4.1" fill="#ff0000" stroke="#000" stroke-width="1.4"/>
</g>
<path d="M1567.4 261.0v-8.5M1567.4 560.8v8.5M1621.5 261.0v-8.5M1621.5 560.8v8.5M1675.5 261.0v-8.5M1675.5 560.8v8.5M1729.6 261.0v-8.5M1729.6 560.8v8.5M1783.6 261.0v-8.5M1783.6 560.8v8.5M1837.7 261.0v-8.5M1837.7 560.8v8.5M1891.8 261.0v-8.5M1891.8 560.8v8.5M1945.8 261.0v-8.5M1945.8 560.8v8.5M1567.2 560.3h-8.5M1945.6 560.3h8.5M1567.2 503.3h-8.5M1945.6 503.3h8.5M1567.2 445.1h-8.5M1945.6 445.1h8.5M1567.2 385.5h-8.5M1945.6 385.5h8.5M1567.2 324.3h-8.5M1945.6 324.3h8.5M1567.2 261.2h-8.5M1945.6 261.2h8.5" stroke="#000" stroke-width="2.8" fill="none"/>
<path d="M1585.4 261.0v-3M1585.4 560.8v3M1603.4 261.0v-3M1603.4 560.8v3M1639.5 261.0v-3M1639.5 560.8v3M1657.5 261.0v-3M1657.5 560.8v3M1693.5 261.0v-3M1693.5 560.8v3M1711.6 261.0v-3M1711.6 560.8v3M1747.6 261.0v-3M1747.6 560.8v3M1765.6 261.0v-3M1765.6 560.8v3M1801.7 261.0v-3M1801.7 560.8v3M1819.7 261.0v-3M1819.7 560.8v3M1855.7 261.0v-3M1855.7 560.8v3M1873.7 261.0v-3M1873.7 560.8v3M1909.8 261.0v-3M1909.8 560.8v3M1927.8 261.0v-3M1927.8 560.8v3M1567.2 541.4h-3M1945.6 541.4h3M1567.2 522.4h-3M1945.6 522.4h3M1567.2 484.0h-3M1945.6 484.0h3M1567.2 464.6h-3M1945.6 464.6h3M1567.2 425.4h-3M1945.6 425.4h3M1567.2 405.5h-3M1945.6 405.5h3M1567.2 365.3h-3M1945.6 365.3h3M1567.2 344.9h-3M1945.6 344.9h3M1567.2 303.5h-3M1945.6 303.5h3M1567.2 282.5h-3M1945.6 282.5h3" stroke="#000" stroke-width="1.9" fill="none"/>
<text transform="translate(1496.04,569.33) scale(1.0650,1)" style="font-family:'Liberation Sans', sans-serif;font-size:23.10px;font-weight:normal;font-style:normal" fill="#000" >18°N</text>
<text transform="translate(1496.04,512.28) scale(1.0650,1)" style="font-family:'Liberation Sans', sans-serif;font-size:23.10px;font-weight:normal;font-style:normal" fill="#000" >21°N</text>
<text transform="translate(1496.04,454.07) scale(1.0650,1)" style="font-family:'Liberation Sans', sans-serif;font-size:23.10px;font-weight:normal;font-style:normal" fill="#000" >24°N</text>
<text transform="translate(1496.04,394.48) scale(1.0650,1)" style="font-family:'Liberation Sans', sans-serif;font-size:23.10px;font-weight:normal;font-style:normal" fill="#000" >27°N</text>
<text transform="translate(1496.04,333.28) scale(1.0650,1)" style="font-family:'Liberation Sans', sans-serif;font-size:23.10px;font-weight:normal;font-style:normal" fill="#000" >30°N</text>
<text transform="translate(1496.04,270.20) scale(1.0650,1)" style="font-family:'Liberation Sans', sans-serif;font-size:23.10px;font-weight:normal;font-style:normal" fill="#000" >33°N</text>
<text transform="rotate(-45,1564.75,604.80) translate(1534.66,612.70) scale(1.0610,1)" style="font-family:'Liberation Sans', sans-serif;font-size:23.10px;font-weight:normal;font-style:normal" fill="#000" >99°W</text>
<text transform="rotate(-45,1618.81,604.80) translate(1588.72,612.70) scale(1.0610,1)" style="font-family:'Liberation Sans', sans-serif;font-size:23.10px;font-weight:normal;font-style:normal" fill="#000" >96°W</text>
<text transform="rotate(-45,1672.87,604.80) translate(1642.78,612.70) scale(1.0610,1)" style="font-family:'Liberation Sans', sans-serif;font-size:23.10px;font-weight:normal;font-style:normal" fill="#000" >93°W</text>
<text transform="rotate(-45,1726.93,604.80) translate(1696.84,612.70) scale(1.0610,1)" style="font-family:'Liberation Sans', sans-serif;font-size:23.10px;font-weight:normal;font-style:normal" fill="#000" >90°W</text>
<text transform="rotate(-45,1780.99,604.80) translate(1750.90,612.70) scale(1.0610,1)" style="font-family:'Liberation Sans', sans-serif;font-size:23.10px;font-weight:normal;font-style:normal" fill="#000" >87°W</text>
<text transform="rotate(-45,1835.05,604.80) translate(1804.96,612.70) scale(1.0610,1)" style="font-family:'Liberation Sans', sans-serif;font-size:23.10px;font-weight:normal;font-style:normal" fill="#000" >84°W</text>
<text transform="rotate(-45,1889.11,604.80) translate(1859.02,612.70) scale(1.0610,1)" style="font-family:'Liberation Sans', sans-serif;font-size:23.10px;font-weight:normal;font-style:normal" fill="#000" >81°W</text>
<text transform="rotate(-45,1943.17,604.80) translate(1913.08,612.70) scale(1.0610,1)" style="font-family:'Liberation Sans', sans-serif;font-size:23.10px;font-weight:normal;font-style:normal" fill="#000" >78°W</text>
<rect x="1674.1" y="646.0" width="165.1" height="143.9" rx="3.5" ry="3.5" fill="#fff" fill-opacity="0.8" stroke="#cccccc" stroke-width="1.4"/>
<path d="M1682.1 665.4H1729.8" stroke="#0000ff" stroke-width="2.6"/><circle cx="1705.9" cy="665.4" r="6.1" fill="#0000ff"/>
<text transform="translate(1746.90,673.40) scale(1.1305,1)" style="font-family:'Liberation Sans', sans-serif;font-size:22.07px;font-weight:normal;font-style:normal" fill="#000" >ng735</text>
<path d="M1682.1 699.5H1729.8" stroke="#ff0000" stroke-width="2.6"/><circle cx="1705.9" cy="699.5" r="6.1" fill="#ff0000"/>
<text transform="translate(1746.90,707.50) scale(0.9444,1)" style="font-family:'Liberation Sans', sans-serif;font-size:22.07px;font-weight:normal;font-style:normal" fill="#000" >RTOFS</text>
<path d="M1682.1 733.4H1729.8" stroke="#008000" stroke-width="2.6"/><circle cx="1705.9" cy="733.4" r="6.1" fill="#008000"/>
<text transform="translate(1746.90,741.40) scale(0.9200,1)" style="font-family:'Liberation Sans', sans-serif;font-size:22.07px;font-weight:normal;font-style:normal" fill="#000" >ESPC</text>
<path d="M1682.1 768.3H1729.8" stroke="#ff00ff" stroke-width="2.6"/><circle cx="1705.9" cy="768.3" r="6.1" fill="#ff00ff"/>
<text transform="translate(1746.90,776.30) scale(0.9798,1)" style="font-family:'Liberation Sans', sans-serif;font-size:22.07px;font-weight:normal;font-style:normal" fill="#000" >CMEMS</text>
<text transform="translate(254.90,917.90) scale(1.0397,1)" style="font-family:'Liberation Sans', sans-serif;font-size:18.40px;font-weight:normal;font-style:italic" fill="#000" xml:space="preserve">Ocean Heat Content (kJ/cm^2) - Glider: 39.9426,  RTOFS: 39.0211,  ESPC: 45.9260,  CMEMS: 48.4432,  NESDIS: 102.3621,</text>
</svg></body></html>
